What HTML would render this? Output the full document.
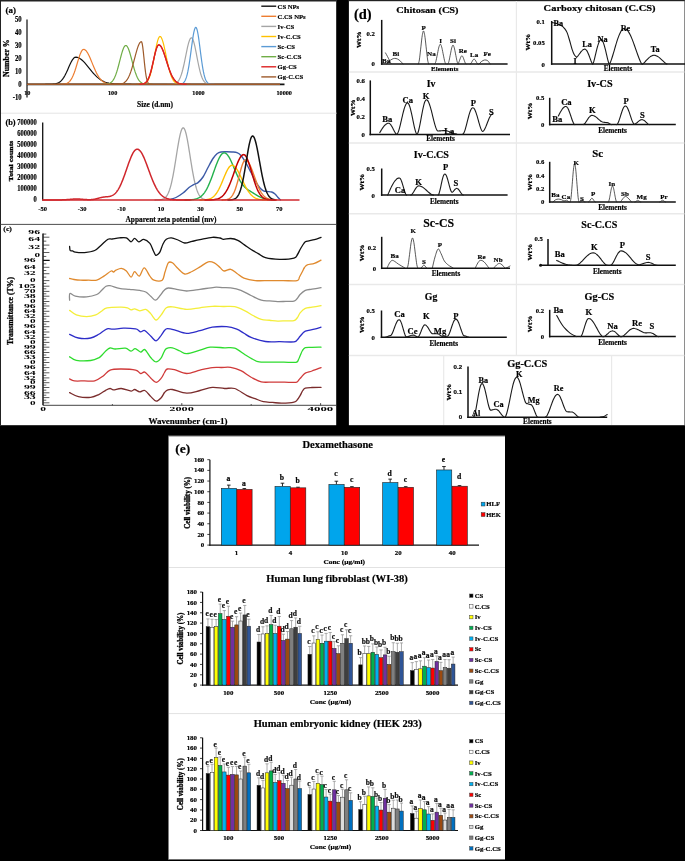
<!DOCTYPE html>
<html lang="en"><head><meta charset="utf-8"><title>Figure</title>
<style>html,body{margin:0;padding:0;background:#000;}body{width:685px;height:861px;overflow:hidden;}svg{display:block;}text{font-family:"Liberation Serif",serif;font-weight:bold;stroke:#000;stroke-width:0.18px;}</style>
</head><body>
<svg width="685" height="861" viewBox="0 0 685 861">
<rect x="0" y="0" width="685" height="861" fill="#000"/>
<rect x="0" y="0" width="336.2" height="425.2" fill="#fff"/>
<rect x="0" y="0" width="336.2" height="1.5" fill="#222"/>
<rect x="0" y="0" width="1" height="425.2" fill="#222"/>
<line x1="1" y1="113.2" x2="336.5" y2="113.2" stroke="#e4e4e4" stroke-width="1"/>
<line x1="0" y1="224.4" x2="336.5" y2="224.4" stroke="#3a3a3a" stroke-width="0.9"/>
<text x="10.8" y="13.17" font-size="9" text-anchor="middle" fill="#000">(a)</text>
<text x="21.6" y="21.88" font-size="7.2" text-anchor="end" fill="#000" textLength="6.7" lengthAdjust="spacingAndGlyphs">50</text>
<text x="21.6" y="34.85" font-size="7.2" text-anchor="end" fill="#000" textLength="6.7" lengthAdjust="spacingAndGlyphs">40</text>
<text x="21.6" y="47.82" font-size="7.2" text-anchor="end" fill="#000" textLength="6.7" lengthAdjust="spacingAndGlyphs">30</text>
<text x="21.6" y="60.79" font-size="7.2" text-anchor="end" fill="#000" textLength="6.7" lengthAdjust="spacingAndGlyphs">20</text>
<text x="21.6" y="73.76" font-size="7.2" text-anchor="end" fill="#000" textLength="6.7" lengthAdjust="spacingAndGlyphs">10</text>
<text x="21.6" y="86.73" font-size="7.2" text-anchor="end" fill="#000" textLength="3.35" lengthAdjust="spacingAndGlyphs">0</text>
<text x="21.6" y="99.7" font-size="7.2" text-anchor="end" fill="#000" textLength="8.93" lengthAdjust="spacingAndGlyphs">-10</text>
<text transform="translate(6.6 58.2) rotate(-90)" x="0" y="2.54" font-size="7.7" text-anchor="middle" fill="#000" textLength="37.6" lengthAdjust="spacingAndGlyphs" style="stroke-width:0.3px">Number %</text>
<line x1="27" y1="19.5" x2="27" y2="97.5" stroke="#3c3c3c" stroke-width="1.5"/>
<text x="27.3" y="95.14" font-size="6.5" text-anchor="middle" fill="#000" textLength="6.2" lengthAdjust="spacingAndGlyphs">10</text>
<text x="112.6" y="95.14" font-size="6.5" text-anchor="middle" fill="#000" textLength="9.3" lengthAdjust="spacingAndGlyphs">100</text>
<text x="198.5" y="95.14" font-size="6.5" text-anchor="middle" fill="#000" textLength="12.4" lengthAdjust="spacingAndGlyphs">1000</text>
<text x="284.2" y="95.14" font-size="6.5" text-anchor="middle" fill="#000" textLength="15.5" lengthAdjust="spacingAndGlyphs">10000</text>
<text x="155" y="106.51" font-size="8.2" text-anchor="middle" fill="#000" textLength="36" lengthAdjust="spacingAndGlyphs">Size (d.nm)</text>
<line x1="27" y1="84.35" x2="284.5" y2="84.35" stroke="#111" stroke-width="1.6"/>
<path d="M45.46 84.35 L46.68 84.34 L47.91 84.33 L49.13 84.32 L50.36 84.29 L51.58 84.25 L52.8 84.18 L54.03 84.06 L55.25 83.87 L56.48 83.58 L57.7 83.15 L58.92 82.55 L60.15 81.71 L61.37 80.59 L62.6 79.16 L63.82 77.38 L65.04 75.25 L66.27 72.82 L67.49 70.15 L68.72 67.36 L69.94 64.6 L71.16 62.05 L72.39 59.88 L73.61 58.27 L74.84 57.35 L76.06 57.16 L77.28 57.35 L78.51 57.76 L79.73 58.39 L80.96 59.22 L82.18 60.24 L83.4 61.41 L84.63 62.71 L85.85 64.11 L87.08 65.59 L88.3 67.1 L89.52 68.63 L90.75 70.15 L91.97 71.63 L93.2 73.05 L94.42 74.4 L95.64 75.66 L96.87 76.83 L98.09 77.9 L99.32 78.86 L100.54 79.72 L101.76 80.48 L102.99 81.14 L104.21 81.71 L105.44 82.2 L106.66 82.61 L107.88 82.96 L109.11 83.24 L110.33 83.48 L111.56 83.67 L112.78 83.82 L114 83.95 L115.23 84.04 L116.45 84.12 L117.68 84.18 L118.9 84.22 L120.12 84.26 L121.35 84.28 L122.57 84.3 L123.8 84.31 L125.02 84.32 L126.24 84.33 L127.47 84.34 L128.69 84.34 L129.92 84.34 L131.14 84.35" fill="none" stroke="#111111" stroke-width="1.2" stroke-linejoin="round" stroke-linecap="round"/>
<path d="M57.14 84.34 L58.03 84.34 L58.93 84.33 L59.82 84.32 L60.72 84.3 L61.61 84.27 L62.5 84.22 L63.4 84.15 L64.29 84.03 L65.19 83.86 L66.08 83.62 L66.97 83.27 L67.87 82.8 L68.76 82.16 L69.66 81.33 L70.55 80.25 L71.44 78.91 L72.34 77.27 L73.23 75.31 L74.13 73.05 L75.02 70.5 L75.91 67.72 L76.81 64.78 L77.7 61.77 L78.6 58.82 L79.49 56.06 L80.38 53.63 L81.28 51.65 L82.17 50.24 L83.07 49.48 L83.96 49.38 L84.85 49.72 L85.75 50.42 L86.64 51.47 L87.54 52.83 L88.43 54.46 L89.32 56.3 L90.22 58.32 L91.11 60.45 L92.01 62.64 L92.9 64.85 L93.79 67.01 L94.69 69.11 L95.58 71.09 L96.48 72.94 L97.37 74.64 L98.26 76.17 L99.16 77.54 L100.05 78.73 L100.95 79.77 L101.84 80.66 L102.73 81.4 L103.63 82.03 L104.52 82.53 L105.42 82.95 L106.31 83.28 L107.2 83.54 L108.1 83.74 L108.99 83.9 L109.89 84.02 L110.78 84.11 L111.67 84.18 L112.57 84.23 L113.46 84.27 L114.36 84.29 L115.25 84.31 L116.14 84.32 L117.04 84.33 L117.93 84.34 L118.83 84.34 L119.72 84.34" fill="none" stroke="#ED7D31" stroke-width="1.2" stroke-linejoin="round" stroke-linecap="round"/>
<path d="M167.46 84.34 L168.13 84.34 L168.79 84.33 L169.46 84.32 L170.12 84.31 L170.79 84.28 L171.46 84.25 L172.12 84.2 L172.79 84.12 L173.45 84.02 L174.12 83.88 L174.79 83.68 L175.45 83.42 L176.12 83.07 L176.78 82.61 L177.45 82.02 L178.12 81.27 L178.78 80.33 L179.45 79.18 L180.11 77.79 L180.78 76.14 L181.45 74.21 L182.11 72 L182.78 69.51 L183.44 66.76 L184.11 63.78 L184.78 60.63 L185.44 57.36 L186.11 54.07 L186.77 50.83 L187.44 47.74 L188.11 44.92 L188.77 42.45 L189.44 40.43 L190.1 38.94 L190.77 38.03 L191.44 37.75 L192.1 38.14 L192.77 39.22 L193.43 40.94 L194.1 43.23 L194.77 45.98 L195.43 49.09 L196.1 52.43 L196.76 55.9 L197.43 59.37 L198.1 62.75 L198.76 65.95 L199.43 68.92 L200.09 71.6 L200.76 73.98 L201.43 76.04 L202.09 77.79 L202.76 79.25 L203.42 80.44 L204.09 81.4 L204.76 82.16 L205.42 82.75 L206.09 83.2 L206.75 83.53 L207.42 83.78 L208.09 83.96 L208.75 84.08 L209.42 84.17 L210.08 84.23 L210.75 84.27 L211.42 84.3 L212.08 84.32 L212.75 84.33 L213.41 84.34 L214.08 84.34" fill="none" stroke="#A5A5A5" stroke-width="1.2" stroke-linejoin="round" stroke-linecap="round"/>
<path d="M137.32 84.34 L138 84.34 L138.69 84.33 L139.37 84.32 L140.06 84.3 L140.74 84.27 L141.42 84.22 L142.11 84.15 L142.79 84.05 L143.48 83.91 L144.16 83.7 L144.84 83.42 L145.53 83.03 L146.21 82.51 L146.9 81.83 L147.58 80.95 L148.26 79.83 L148.95 78.45 L149.63 76.77 L150.32 74.76 L151 72.41 L151.68 69.72 L152.37 66.71 L153.05 63.42 L153.74 59.91 L154.42 56.27 L155.1 52.59 L155.79 49.01 L156.47 45.66 L157.16 42.65 L157.84 40.13 L158.52 38.21 L159.21 36.96 L159.89 36.46 L160.58 36.67 L161.26 37.49 L161.94 38.9 L162.63 40.83 L163.31 43.22 L164 45.98 L164.68 49.01 L165.36 52.23 L166.05 55.53 L166.73 58.82 L167.42 62.03 L168.1 65.09 L168.78 67.95 L169.47 70.56 L170.15 72.9 L170.84 74.97 L171.52 76.77 L172.2 78.3 L172.89 79.58 L173.57 80.64 L174.26 81.5 L174.94 82.19 L175.62 82.74 L176.31 83.16 L176.99 83.48 L177.68 83.73 L178.36 83.91 L179.04 84.04 L179.73 84.13 L180.41 84.2 L181.1 84.25 L181.78 84.28 L182.46 84.31 L183.15 84.32 L183.83 84.33 L184.52 84.34 L185.2 84.34" fill="none" stroke="#FFC000" stroke-width="1.2" stroke-linejoin="round" stroke-linecap="round"/>
<path d="M176.48 84.34 L177.02 84.34 L177.56 84.33 L178.1 84.32 L178.64 84.3 L179.18 84.27 L179.72 84.22 L180.26 84.16 L180.8 84.07 L181.34 83.94 L181.88 83.76 L182.42 83.52 L182.96 83.19 L183.5 82.75 L184.04 82.18 L184.58 81.44 L185.12 80.5 L185.66 79.33 L186.2 77.89 L186.74 76.16 L187.28 74.09 L187.82 71.69 L188.36 68.94 L188.9 65.84 L189.44 62.43 L189.98 58.75 L190.52 54.85 L191.06 50.83 L191.6 46.78 L192.14 42.82 L192.68 39.06 L193.22 35.65 L193.76 32.69 L194.3 30.3 L194.84 28.58 L195.38 27.59 L195.92 27.37 L196.46 27.99 L197 29.43 L197.54 31.64 L198.08 34.51 L198.62 37.93 L199.16 41.77 L199.7 45.87 L200.24 50.09 L200.78 54.31 L201.32 58.4 L201.86 62.27 L202.4 65.84 L202.94 69.07 L203.48 71.92 L204.02 74.4 L204.56 76.49 L205.1 78.24 L205.64 79.67 L206.18 80.82 L206.72 81.73 L207.26 82.43 L207.8 82.97 L208.34 83.37 L208.88 83.66 L209.42 83.88 L209.96 84.03 L210.5 84.14 L211.04 84.21 L211.58 84.26 L212.12 84.29 L212.66 84.31 L213.2 84.33 L213.74 84.34 L214.28 84.34" fill="none" stroke="#5B9BD5" stroke-width="1.2" stroke-linejoin="round" stroke-linecap="round"/>
<path d="M100.6 84.34 L101.33 84.34 L102.06 84.33 L102.8 84.32 L103.53 84.31 L104.26 84.29 L104.99 84.25 L105.72 84.21 L106.46 84.13 L107.19 84.03 L107.92 83.89 L108.65 83.69 L109.38 83.43 L110.12 83.07 L110.85 82.61 L111.58 82 L112.31 81.24 L113.04 80.29 L113.78 79.13 L114.51 77.73 L115.24 76.08 L115.97 74.18 L116.7 72.02 L117.44 69.63 L118.17 67.03 L118.9 64.27 L119.63 61.42 L120.36 58.54 L121.1 55.74 L121.83 53.1 L122.56 50.73 L123.29 48.7 L124.02 47.12 L124.76 46.03 L125.49 45.5 L126.22 45.54 L126.95 46.12 L127.68 47.21 L128.42 48.76 L129.15 50.73 L129.88 53.02 L130.61 55.57 L131.34 58.27 L132.08 61.05 L132.81 63.81 L133.54 66.5 L134.27 69.06 L135 71.43 L135.74 73.58 L136.47 75.5 L137.2 77.18 L137.93 78.62 L138.66 79.83 L139.4 80.84 L140.13 81.66 L140.86 82.31 L141.59 82.83 L142.32 83.23 L143.06 83.54 L143.79 83.77 L144.52 83.94 L145.25 84.07 L145.98 84.16 L146.72 84.22 L147.45 84.26 L148.18 84.29 L148.91 84.31 L149.64 84.33 L150.38 84.33 L151.11 84.34 L151.84 84.34" fill="none" stroke="#70AD47" stroke-width="1.2" stroke-linejoin="round" stroke-linecap="round"/>
<path d="M112.84 84.34 L113.4 84.34 L113.97 84.34 L114.53 84.33 L115.1 84.33 L115.66 84.32 L116.22 84.3 L116.79 84.29 L117.35 84.27 L117.92 84.24 L118.48 84.2 L119.04 84.16 L119.61 84.1 L120.17 84.02 L120.74 83.93 L121.3 83.81 L121.86 83.66 L122.43 83.48 L122.99 83.26 L123.56 82.98 L124.12 82.66 L124.68 82.27 L125.25 81.81 L125.81 81.26 L126.38 80.63 L126.94 79.9 L127.5 79.06 L128.07 78.1 L128.63 77.02 L129.2 75.82 L129.76 74.48 L130.32 73.02 L130.89 71.42 L131.45 69.7 L132.02 67.87 L132.58 65.94 L133.14 63.92 L133.71 61.83 L134.27 59.7 L134.84 57.55 L135.4 55.42 L135.96 53.33 L136.53 51.32 L137.09 49.41 L137.66 47.66 L138.22 46.07 L138.78 44.7 L139.35 43.55 L139.91 42.66 L140.48 42.04 L141.04 41.71 L141.6 41.78 L142.17 43.47 L142.73 46.9 L143.3 51.62 L143.86 57.06 L144.42 62.64 L144.99 67.87 L145.55 72.42 L146.12 76.11 L146.68 78.92 L147.24 80.94 L147.81 82.3 L148.37 83.18 L148.94 83.71 L149.5 84.02 L150.06 84.18 L150.63 84.27 L151.19 84.31 L151.76 84.33 L152.32 84.34" fill="none" stroke="#9E5A2A" stroke-width="1.2" stroke-linejoin="round" stroke-linecap="round"/>
<path d="M136.54 84.34 L137.31 84.34 L138.08 84.33 L138.84 84.32 L139.61 84.29 L140.38 84.26 L141.15 84.2 L141.92 84.1 L142.68 83.96 L143.45 83.75 L144.22 83.45 L144.99 83.03 L145.76 82.44 L146.52 81.65 L147.29 80.61 L148.06 79.28 L148.83 77.62 L149.6 75.61 L150.36 73.22 L151.13 70.48 L151.9 67.42 L152.67 64.12 L153.44 60.68 L154.2 57.23 L154.97 53.92 L155.74 50.91 L156.51 48.38 L157.28 46.45 L158.04 45.25 L158.81 44.85 L159.58 45.06 L160.35 45.68 L161.12 46.69 L161.88 48.05 L162.65 49.73 L163.42 51.68 L164.19 53.83 L164.96 56.15 L165.72 58.56 L166.49 61.01 L167.26 63.44 L168.03 65.82 L168.8 68.1 L169.56 70.25 L170.33 72.24 L171.1 74.06 L171.87 75.69 L172.64 77.15 L173.4 78.42 L174.17 79.52 L174.94 80.45 L175.71 81.24 L176.48 81.89 L177.24 82.43 L178.01 82.87 L178.78 83.21 L179.55 83.49 L180.32 83.71 L181.08 83.87 L181.85 84 L182.62 84.1 L183.39 84.17 L184.16 84.22 L184.92 84.26 L185.69 84.29 L186.46 84.31 L187.23 84.32 L188 84.33 L188.76 84.34 L189.53 84.34 L190.3 84.34" fill="none" stroke="#DD2222" stroke-width="1.2" stroke-linejoin="round" stroke-linecap="round"/>
<line x1="27" y1="84.35" x2="280" y2="84.35" stroke="#A05A2A" stroke-width="1.5"/>
<path d="M140 84.28 L140.57 84.24 L141.15 84.2 L141.72 84.13 L142.3 84.04 L142.88 83.92 L143.45 83.75 L144.03 83.54 L144.6 83.26 L145.18 82.9 L145.75 82.44 L146.32 81.88 L146.9 81.17 L147.47 80.32 L148.05 79.3 L148.62 78.09 L149.2 76.69 L149.78 75.08 L150.35 73.27 L150.93 71.25 L151.5 69.05 L152.07 66.69 L152.65 64.2 L153.22 61.63 L153.8 59.04 L154.38 56.47 L154.95 54.01 L155.53 51.72 L156.1 49.66 L156.68 47.9 L157.25 46.5 L157.82 45.51 L158.4 44.96 L158.97 44.86 L159.55 45.05 L160.12 45.46 L160.7 46.1 L161.28 46.94 L161.85 47.98 L162.43 49.2 L163 50.58 L163.57 52.1 L164.15 53.72 L164.72 55.44 L165.3 57.22 L165.88 59.04 L166.45 60.87 L167.03 62.7 L167.6 64.51 L168.18 66.27 L168.75 67.97 L169.32 69.59 L169.9 71.14 L170.47 72.59 L171.05 73.94 L171.62 75.2 L172.2 76.34 L172.78 77.39 L173.35 78.33 L173.93 79.18 L174.5 79.93 L175.07 80.6 L175.65 81.18 L176.22 81.69 L176.8 82.13 L177.38 82.51 L177.95 82.83 L178.53 83.11 L179.1 83.34 L179.68 83.53 L180.25 83.69 L180.82 83.82 L181.4 83.93 L181.97 84.02 L182.55 84.09 L183.12 84.14 L183.7 84.19 L184.28 84.23 L184.85 84.26 L185.43 84.28 L186 84.29" fill="none" stroke="#DD2222" stroke-width="1.35" stroke-linejoin="round" stroke-linecap="round"/>
<line x1="261.3" y1="6.2" x2="276.2" y2="6.2" stroke="#111111" stroke-width="1.4"/>
<text x="277.6" y="8.51" font-size="7" text-anchor="start" fill="#000" textLength="21.62" lengthAdjust="spacingAndGlyphs">CS NPs</text>
<line x1="261.3" y1="16.3" x2="276.2" y2="16.3" stroke="#ED7D31" stroke-width="1.4"/>
<text x="277.6" y="18.61" font-size="7" text-anchor="start" fill="#000" textLength="28.08" lengthAdjust="spacingAndGlyphs">C.CS NPs</text>
<line x1="261.3" y1="26.4" x2="276.2" y2="26.4" stroke="#A5A5A5" stroke-width="1.4"/>
<text x="277.6" y="28.71" font-size="7" text-anchor="start" fill="#000" textLength="16.63" lengthAdjust="spacingAndGlyphs">Iv-CS</text>
<line x1="261.3" y1="36.5" x2="276.2" y2="36.5" stroke="#FFC000" stroke-width="1.4"/>
<text x="277.6" y="38.81" font-size="7" text-anchor="start" fill="#000" textLength="23.09" lengthAdjust="spacingAndGlyphs">Iv-C.CS</text>
<line x1="261.3" y1="46.6" x2="276.2" y2="46.6" stroke="#5B9BD5" stroke-width="1.4"/>
<text x="277.6" y="48.91" font-size="7" text-anchor="start" fill="#000" textLength="17.36" lengthAdjust="spacingAndGlyphs">Sc-CS</text>
<line x1="261.3" y1="56.7" x2="276.2" y2="56.7" stroke="#70AD47" stroke-width="1.4"/>
<text x="277.6" y="59.01" font-size="7" text-anchor="start" fill="#000" textLength="23.83" lengthAdjust="spacingAndGlyphs">Sc-C.CS</text>
<line x1="261.3" y1="66.8" x2="276.2" y2="66.8" stroke="#DD2222" stroke-width="1.4"/>
<text x="277.6" y="69.11" font-size="7" text-anchor="start" fill="#000" textLength="19.21" lengthAdjust="spacingAndGlyphs">Gg-CS</text>
<line x1="261.3" y1="76.9" x2="276.2" y2="76.9" stroke="#9E5A2A" stroke-width="1.4"/>
<text x="277.6" y="79.21" font-size="7" text-anchor="start" fill="#000" textLength="25.68" lengthAdjust="spacingAndGlyphs">Gg-C.CS</text>
<text x="10.5" y="124.77" font-size="8.4" text-anchor="middle" fill="#000">(b)</text>
<text x="36.8" y="202.38" font-size="7.2" text-anchor="end" fill="#000" textLength="3.25" lengthAdjust="spacingAndGlyphs">0</text>
<text x="36.8" y="191.29" font-size="7.2" text-anchor="end" fill="#000" textLength="19.5" lengthAdjust="spacingAndGlyphs">100000</text>
<text x="36.8" y="180.2" font-size="7.2" text-anchor="end" fill="#000" textLength="19.5" lengthAdjust="spacingAndGlyphs">200000</text>
<text x="36.8" y="169.11" font-size="7.2" text-anchor="end" fill="#000" textLength="19.5" lengthAdjust="spacingAndGlyphs">300000</text>
<text x="36.8" y="158.02" font-size="7.2" text-anchor="end" fill="#000" textLength="19.5" lengthAdjust="spacingAndGlyphs">400000</text>
<text x="36.8" y="146.93" font-size="7.2" text-anchor="end" fill="#000" textLength="19.5" lengthAdjust="spacingAndGlyphs">500000</text>
<text x="36.8" y="135.84" font-size="7.2" text-anchor="end" fill="#000" textLength="19.5" lengthAdjust="spacingAndGlyphs">600000</text>
<text x="36.8" y="124.75" font-size="7.2" text-anchor="end" fill="#000" textLength="19.5" lengthAdjust="spacingAndGlyphs">700000</text>
<text transform="translate(10.9 161) rotate(-90)" x="0" y="2.28" font-size="6.9" text-anchor="middle" fill="#000" textLength="40.6" lengthAdjust="spacingAndGlyphs" style="stroke-width:0.3px">Total counts</text>
<line x1="42.7" y1="122.4" x2="42.7" y2="200.5" stroke="#111" stroke-width="1.3"/>
<text x="42.7" y="210.94" font-size="7.1" text-anchor="middle" fill="#000" textLength="8.66" lengthAdjust="spacingAndGlyphs">-50</text>
<text x="82.12" y="210.94" font-size="7.1" text-anchor="middle" fill="#000" textLength="8.66" lengthAdjust="spacingAndGlyphs">-30</text>
<text x="121.54" y="210.94" font-size="7.1" text-anchor="middle" fill="#000" textLength="8.66" lengthAdjust="spacingAndGlyphs">-10</text>
<text x="160.96" y="210.94" font-size="7.1" text-anchor="middle" fill="#000" textLength="6.5" lengthAdjust="spacingAndGlyphs">10</text>
<text x="200.38" y="210.94" font-size="7.1" text-anchor="middle" fill="#000" textLength="6.5" lengthAdjust="spacingAndGlyphs">30</text>
<text x="239.8" y="210.94" font-size="7.1" text-anchor="middle" fill="#000" textLength="6.5" lengthAdjust="spacingAndGlyphs">50</text>
<text x="279.22" y="210.94" font-size="7.1" text-anchor="middle" fill="#000" textLength="6.5" lengthAdjust="spacingAndGlyphs">70</text>
<text x="171" y="222.41" font-size="8.2" text-anchor="middle" fill="#000" textLength="91" lengthAdjust="spacingAndGlyphs">Apparent zeta potential (mv)</text>
<path d="M155 199.98 L155.47 199.98 L155.95 199.97 L156.43 199.96 L156.9 199.95 L157.38 199.93 L157.85 199.92 L158.32 199.89 L158.8 199.86 L159.28 199.82 L159.75 199.78 L160.22 199.72 L160.7 199.65 L161.18 199.56 L161.65 199.45 L162.12 199.32 L162.6 199.16 L163.07 198.97 L163.55 198.75 L164.03 198.48 L164.5 198.17 L164.97 197.79 L165.45 197.36 L165.93 196.86 L166.4 196.27 L166.88 195.6 L167.35 194.84 L167.82 193.97 L168.3 192.99 L168.78 191.88 L169.25 190.65 L169.72 189.28 L170.2 187.76 L170.68 186.1 L171.15 184.29 L171.62 182.32 L172.1 180.2 L172.57 177.94 L173.05 175.53 L173.53 172.98 L174 170.32 L174.47 167.54 L174.95 164.67 L175.43 161.73 L175.9 158.74 L176.38 155.73 L176.85 152.73 L177.32 149.75 L177.8 146.85 L178.28 144.04 L178.75 141.36 L179.22 138.84 L179.7 136.52 L180.18 134.42 L180.65 132.57 L181.12 130.99 L181.6 129.72 L182.07 128.75 L182.55 128.12 L183.03 127.82 L183.5 127.87 L183.97 128.25 L184.45 128.98 L184.93 130.02 L185.4 131.38 L185.88 133.03 L186.35 134.94 L186.82 137.11 L187.3 139.48 L187.78 142.05 L188.25 144.76 L188.72 147.6 L189.2 150.53 L189.68 153.51 L190.15 156.53 L190.62 159.53 L191.1 162.51 L191.57 165.44 L192.05 168.28 L192.53 171.03 L193 173.67 L193.47 176.18 L193.95 178.55 L194.43 180.78 L194.9 182.85 L195.38 184.78 L195.85 186.55 L196.32 188.17 L196.8 189.65 L197.28 190.98 L197.75 192.18 L198.22 193.26 L198.7 194.21 L199.18 195.05 L199.65 195.79 L200.12 196.44 L200.6 197 L201.07 197.48 L201.55 197.9 L202.03 198.25 L202.5 198.56 L202.97 198.81 L203.45 199.03 L203.93 199.21 L204.4 199.36 L204.88 199.48 L205.35 199.58 L205.82 199.67 L206.3 199.73 L206.78 199.79 L207.25 199.83 L207.72 199.87 L208.2 199.9 L208.68 199.92 L209.15 199.94 L209.62 199.95 L210.1 199.96 L210.57 199.97 L211.05 199.98 L211.53 199.98 L212 199.99" fill="none" stroke="#A5A5A5" stroke-width="1.3" stroke-linejoin="round" stroke-linecap="round"/>
<path d="M170 199.6C171 199.25 173.83 198.6 176 197.5C178.17 196.4 180.83 194.67 183 193C185.17 191.33 187.23 188.9 189 187.5C190.77 186.1 192.1 185.42 193.6 184.6C195.1 183.78 196.43 183.87 198 182.6C199.57 181.33 201.33 179.52 203 177C204.67 174.48 206.33 170.58 208 167.5C209.67 164.42 211.5 160.78 213 158.5C214.5 156.22 215.68 154.88 217 153.8C218.32 152.72 219.23 152.33 220.9 152C222.57 151.67 225.15 151.8 227 151.8C228.85 151.8 230.33 151.87 232 152C233.67 152.13 235.5 152.02 237 152.6C238.5 153.18 239.5 153.77 241 155.5C242.5 157.23 244.33 160.17 246 163C247.67 165.83 249.33 169.33 251 172.5C252.67 175.67 254.5 179.42 256 182C257.5 184.58 258.75 186.53 260 188C261.25 189.47 262.33 190.22 263.5 190.8C264.67 191.38 265.63 191.3 267 191.5C268.37 191.7 270.37 191.58 271.7 192C273.03 192.42 273.95 193.08 275 194C276.05 194.92 277.1 196.53 278 197.5C278.9 198.47 280 199.42 280.4 199.8" fill="none" stroke="#3C5AA6" stroke-width="1.4" stroke-linejoin="round" stroke-linecap="round"/>
<path d="M185 199.97 L185.56 199.96 L186.12 199.95 L186.69 199.94 L187.25 199.93 L187.81 199.92 L188.38 199.9 L188.94 199.88 L189.5 199.85 L190.06 199.82 L190.62 199.78 L191.19 199.74 L191.75 199.69 L192.31 199.63 L192.88 199.57 L193.44 199.49 L194 199.39 L194.56 199.29 L195.12 199.17 L195.69 199.03 L196.25 198.87 L196.81 198.69 L197.38 198.48 L197.94 198.24 L198.5 197.98 L199.06 197.68 L199.62 197.35 L200.19 196.98 L200.75 196.57 L201.31 196.12 L201.88 195.61 L202.44 195.06 L203 194.46 L203.56 193.8 L204.12 193.08 L204.69 192.3 L205.25 191.46 L205.81 190.56 L206.38 189.59 L206.94 188.56 L207.5 187.47 L208.06 186.32 L208.62 185.1 L209.19 183.82 L209.75 182.49 L210.31 181.11 L210.88 179.68 L211.44 178.2 L212 176.7 L212.56 175.16 L213.12 173.6 L213.69 172.03 L214.25 170.45 L214.81 168.88 L215.38 167.33 L215.94 165.8 L216.5 164.32 L217.06 162.88 L217.62 161.49 L218.19 160.18 L218.75 158.95 L219.31 157.81 L219.88 156.77 L220.44 155.83 L221 155.02 L221.56 154.32 L222.12 153.76 L222.69 153.33 L223.25 153.04 L223.81 152.89 L224.38 152.88 L224.94 152.99 L225.5 153.22 L226.06 153.58 L226.62 154.04 L227.19 154.62 L227.75 155.3 L228.31 156.08 L228.88 156.95 L229.44 157.91 L230 158.95 L230.56 160.05 L231.12 161.22 L231.69 162.43 L232.25 163.69 L232.81 164.98 L233.38 166.3 L233.94 167.63 L234.5 168.96 L235.06 170.29 L235.62 171.6 L236.19 172.9 L236.75 174.16 L237.31 175.4 L237.88 176.59 L238.44 177.75 L239 178.85 L239.56 179.9 L240.12 180.9 L240.69 181.84 L241.25 182.73 L241.81 183.56 L242.38 184.34 L242.94 185.07 L243.5 185.74 L244.06 186.37 L244.62 186.95 L245.19 187.49 L245.75 188 L246.31 188.47 L246.88 188.92 L247.44 189.34 L248 189.74 L248.56 190.12 L249.12 190.49 L249.69 190.86 L250.25 191.21 L250.81 191.56 L251.38 191.91 L251.94 192.26 L252.5 192.6 L253.06 192.95 L253.62 193.3 L254.19 193.65 L254.75 194 L255.31 194.35 L255.88 194.69 L256.44 195.03 L257 195.37 L257.56 195.7 L258.12 196.02 L258.69 196.34 L259.25 196.64 L259.81 196.93 L260.38 197.21 L260.94 197.47 L261.5 197.72 L262.06 197.95 L262.62 198.17 L263.19 198.37 L263.75 198.56 L264.31 198.73 L264.88 198.89 L265.44 199.03 L266 199.15 L266.56 199.27 L267.12 199.37 L267.69 199.46 L268.25 199.54 L268.81 199.61 L269.38 199.67 L269.94 199.72 L270.5 199.77 L271.06 199.81 L271.62 199.84 L272.19 199.87 L272.75 199.89 L273.31 199.91 L273.88 199.93 L274.44 199.94 L275 199.95" fill="none" stroke="#22B14C" stroke-width="1.4" stroke-linejoin="round" stroke-linecap="round"/>
<path d="M200 199.97 L200.57 199.96 L201.13 199.94 L201.7 199.93 L202.27 199.91 L202.83 199.89 L203.4 199.86 L203.97 199.83 L204.53 199.79 L205.1 199.74 L205.67 199.68 L206.23 199.61 L206.8 199.53 L207.37 199.43 L207.93 199.31 L208.5 199.17 L209.07 199.01 L209.63 198.82 L210.2 198.6 L210.77 198.35 L211.33 198.07 L211.9 197.74 L212.47 197.37 L213.03 196.95 L213.6 196.48 L214.17 195.96 L214.73 195.38 L215.3 194.73 L215.87 194.03 L216.43 193.26 L217 192.42 L217.57 191.51 L218.13 190.54 L218.7 189.51 L219.27 188.4 L219.83 187.24 L220.4 186.03 L220.97 184.76 L221.53 183.45 L222.1 182.11 L222.67 180.74 L223.23 179.36 L223.8 177.98 L224.37 176.6 L224.93 175.24 L225.5 173.92 L226.07 172.65 L226.63 171.44 L227.2 170.3 L227.77 169.26 L228.33 168.31 L228.9 167.48 L229.47 166.77 L230.03 166.2 L230.6 165.76 L231.17 165.46 L231.73 165.32 L232.3 165.32 L232.87 165.44 L233.43 165.67 L234 166.02 L234.57 166.47 L235.13 167.03 L235.7 167.69 L236.27 168.44 L236.83 169.27 L237.4 170.19 L237.97 171.17 L238.53 172.21 L239.1 173.31 L239.67 174.45 L240.23 175.62 L240.8 176.81 L241.37 178.02 L241.93 179.24 L242.5 180.45 L243.07 181.66 L243.63 182.85 L244.2 184.01 L244.77 185.15 L245.33 186.25 L245.9 187.31 L246.47 188.33 L247.03 189.3 L247.6 190.23 L248.17 191.1 L248.73 191.92 L249.3 192.69 L249.87 193.41 L250.43 194.08 L251 194.7 L251.57 195.27 L252.13 195.79 L252.7 196.27 L253.27 196.71 L253.83 197.1 L254.4 197.45 L254.97 197.77 L255.53 198.06 L256.1 198.31 L256.67 198.54 L257.23 198.74 L257.8 198.92 L258.37 199.07 L258.93 199.21 L259.5 199.32 L260.07 199.43 L260.63 199.51 L261.2 199.59 L261.77 199.66 L262.33 199.71 L262.9 199.76 L263.47 199.8 L264.03 199.83 L264.6 199.86 L265.17 199.89 L265.73 199.91 L266.3 199.92 L266.87 199.94 L267.43 199.95 L268 199.96" fill="none" stroke="#FFC000" stroke-width="1.4" stroke-linejoin="round" stroke-linecap="round"/>
<path d="M222 199.96 L222.45 199.95 L222.9 199.94 L223.35 199.92 L223.8 199.89 L224.25 199.86 L224.7 199.83 L225.15 199.78 L225.6 199.73 L226.05 199.66 L226.5 199.58 L226.95 199.48 L227.4 199.35 L227.85 199.21 L228.3 199.04 L228.75 198.83 L229.2 198.59 L229.65 198.31 L230.1 197.98 L230.55 197.61 L231 197.17 L231.45 196.67 L231.9 196.11 L232.35 195.47 L232.8 194.76 L233.25 193.96 L233.7 193.08 L234.15 192.11 L234.6 191.05 L235.05 189.89 L235.5 188.65 L235.95 187.32 L236.4 185.91 L236.85 184.42 L237.3 182.85 L237.75 181.23 L238.2 179.56 L238.65 177.85 L239.1 176.12 L239.55 174.39 L240 172.68 L240.45 170.99 L240.9 169.36 L241.35 167.8 L241.8 166.34 L242.25 164.98 L242.7 163.76 L243.15 162.69 L243.6 161.78 L244.05 161.05 L244.5 160.5 L244.95 160.15 L245.4 160.01 L245.85 160.03 L246.3 160.17 L246.75 160.42 L247.2 160.77 L247.65 161.23 L248.1 161.79 L248.55 162.44 L249 163.18 L249.45 164 L249.9 164.91 L250.35 165.88 L250.8 166.92 L251.25 168.01 L251.7 169.15 L252.15 170.34 L252.6 171.55 L253.05 172.79 L253.5 174.05 L253.95 175.32 L254.4 176.58 L254.85 177.85 L255.3 179.1 L255.75 180.34 L256.2 181.55 L256.65 182.74 L257.1 183.89 L257.55 185.01 L258 186.09 L258.45 187.13 L258.9 188.12 L259.35 189.06 L259.8 189.96 L260.25 190.81 L260.7 191.61 L261.15 192.36 L261.6 193.07 L262.05 193.72 L262.5 194.33 L262.95 194.89 L263.4 195.42 L263.85 195.89 L264.3 196.33 L264.75 196.73 L265.2 197.1 L265.65 197.43 L266.1 197.73 L266.55 198 L267 198.24 L267.45 198.46 L267.9 198.65 L268.35 198.83 L268.8 198.98 L269.25 199.12 L269.7 199.24 L270.15 199.34 L270.6 199.43 L271.05 199.52 L271.5 199.59 L271.95 199.65 L272.4 199.7 L272.85 199.75 L273.3 199.78 L273.75 199.82 L274.2 199.85 L274.65 199.87 L275.1 199.89 L275.55 199.91 L276 199.93" fill="none" stroke="#ED7D31" stroke-width="1.4" stroke-linejoin="round" stroke-linecap="round"/>
<path d="M205 199.99 L205.59 199.98 L206.18 199.98 L206.78 199.97 L207.37 199.96 L207.96 199.96 L208.55 199.94 L209.14 199.93 L209.73 199.91 L210.32 199.89 L210.92 199.87 L211.51 199.84 L212.1 199.8 L212.69 199.75 L213.28 199.7 L213.88 199.64 L214.47 199.56 L215.06 199.47 L215.65 199.36 L216.24 199.24 L216.83 199.1 L217.43 198.93 L218.02 198.73 L218.61 198.51 L219.2 198.25 L219.79 197.96 L220.38 197.62 L220.97 197.24 L221.57 196.82 L222.16 196.34 L222.75 195.8 L223.34 195.21 L223.93 194.55 L224.53 193.82 L225.12 193.03 L225.71 192.16 L226.3 191.22 L226.89 190.2 L227.48 189.1 L228.07 187.93 L228.67 186.68 L229.26 185.36 L229.85 183.96 L230.44 182.51 L231.03 180.99 L231.62 179.42 L232.22 177.8 L232.81 176.15 L233.4 174.47 L233.99 172.77 L234.58 171.08 L235.18 169.39 L235.77 167.73 L236.36 166.11 L236.95 164.54 L237.54 163.04 L238.13 161.63 L238.72 160.3 L239.32 159.09 L239.91 158.01 L240.5 157.05 L241.09 156.25 L241.68 155.59 L242.28 155.1 L242.87 154.77 L243.46 154.61 L244.05 154.64 L244.64 154.91 L245.23 155.43 L245.82 156.17 L246.42 157.14 L247.01 158.32 L247.6 159.69 L248.19 161.22 L248.78 162.9 L249.38 164.7 L249.97 166.59 L250.56 168.56 L251.15 170.57 L251.74 172.61 L252.33 174.64 L252.93 176.65 L253.52 178.62 L254.11 180.52 L254.7 182.36 L255.29 184.11 L255.88 185.76 L256.48 187.31 L257.07 188.76 L257.66 190.09 L258.25 191.32 L258.84 192.43 L259.43 193.44 L260.02 194.34 L260.62 195.15 L261.21 195.86 L261.8 196.49 L262.39 197.04 L262.98 197.51 L263.57 197.93 L264.17 198.28 L264.76 198.58 L265.35 198.83 L265.94 199.05 L266.53 199.23 L267.12 199.38 L267.72 199.5 L268.31 199.6 L268.9 199.68 L269.49 199.75 L270.08 199.8 L270.68 199.85 L271.27 199.88 L271.86 199.91 L272.45 199.93 L273.04 199.95 L273.63 199.96 L274.23 199.97 L274.82 199.98 L275.41 199.98 L276 199.99" fill="none" stroke="#C00000" stroke-width="1.5" stroke-linejoin="round" stroke-linecap="round"/>
<path d="M228 199.97 L228.38 199.96 L228.77 199.95 L229.15 199.94 L229.53 199.92 L229.92 199.9 L230.3 199.88 L230.68 199.85 L231.07 199.81 L231.45 199.77 L231.83 199.72 L232.22 199.66 L232.6 199.59 L232.98 199.5 L233.37 199.39 L233.75 199.27 L234.13 199.13 L234.52 198.96 L234.9 198.76 L235.28 198.54 L235.67 198.27 L236.05 197.97 L236.43 197.62 L236.82 197.23 L237.2 196.77 L237.58 196.26 L237.97 195.69 L238.35 195.04 L238.73 194.32 L239.12 193.52 L239.5 192.63 L239.88 191.65 L240.27 190.58 L240.65 189.41 L241.03 188.14 L241.42 186.76 L241.8 185.28 L242.18 183.69 L242.57 181.99 L242.95 180.2 L243.33 178.3 L243.72 176.32 L244.1 174.24 L244.48 172.09 L244.87 169.87 L245.25 167.59 L245.63 165.27 L246.02 162.93 L246.4 160.57 L246.78 158.21 L247.17 155.88 L247.55 153.59 L247.93 151.36 L248.32 149.21 L248.7 147.16 L249.08 145.23 L249.47 143.45 L249.85 141.82 L250.23 140.36 L250.62 139.09 L251 138.03 L251.38 137.18 L251.77 136.56 L252.15 136.16 L252.53 136 L252.92 136.07 L253.3 136.33 L253.68 136.78 L254.07 137.43 L254.45 138.26 L254.83 139.27 L255.22 140.44 L255.6 141.77 L255.98 143.25 L256.37 144.86 L256.75 146.59 L257.13 148.42 L257.52 150.35 L257.9 152.35 L258.28 154.41 L258.67 156.52 L259.05 158.65 L259.43 160.81 L259.82 162.96 L260.2 165.11 L260.58 167.23 L260.97 169.32 L261.35 171.36 L261.73 173.35 L262.12 175.28 L262.5 177.14 L262.88 178.92 L263.27 180.62 L263.65 182.25 L264.03 183.78 L264.42 185.23 L264.8 186.59 L265.18 187.87 L265.57 189.05 L265.95 190.15 L266.33 191.17 L266.72 192.11 L267.1 192.97 L267.48 193.75 L267.87 194.46 L268.25 195.11 L268.63 195.7 L269.02 196.22 L269.4 196.7 L269.78 197.12 L270.17 197.5 L270.55 197.83 L270.93 198.12 L271.32 198.38 L271.7 198.61 L272.08 198.81 L272.47 198.99 L272.85 199.14 L273.23 199.27 L273.62 199.38 L274 199.48" fill="none" stroke="#111" stroke-width="1.5" stroke-linejoin="round" stroke-linecap="round"/>
<line x1="42.7" y1="200" x2="299.5" y2="200" stroke="#D0272D" stroke-width="1.7"/>
<path d="M42.7 200 L43.19 200 L43.68 200 L44.17 200 L44.66 200 L45.16 200 L45.65 200 L46.14 200 L46.63 200 L47.12 200 L47.61 200 L48.1 200 L48.59 200 L49.08 200 L49.57 200 L50.07 200 L50.56 200 L51.05 200 L51.54 200 L52.03 200 L52.52 200 L53.01 200 L53.5 200 L53.99 199.99 L54.48 199.99 L54.98 199.99 L55.47 199.99 L55.96 199.99 L56.45 199.98 L56.94 199.98 L57.43 199.98 L57.92 199.97 L58.41 199.96 L58.9 199.96 L59.39 199.95 L59.89 199.94 L60.38 199.93 L60.87 199.92 L61.36 199.9 L61.85 199.89 L62.34 199.87 L62.83 199.85 L63.32 199.83 L63.81 199.81 L64.3 199.78 L64.8 199.75 L65.29 199.72 L65.78 199.69 L66.27 199.66 L66.76 199.62 L67.25 199.58 L67.74 199.54 L68.23 199.5 L68.72 199.46 L69.21 199.42 L69.71 199.38 L70.2 199.33 L70.69 199.29 L71.18 199.25 L71.67 199.21 L72.16 199.17 L72.65 199.14 L73.14 199.11 L73.63 199.08 L74.12 199.06 L74.62 199.04 L75.11 199.02 L75.6 199.01 L76.09 199 L76.58 199 L77.07 199 L77.56 199.01 L78.05 199.02 L78.54 199.04 L79.03 199.06 L79.53 199.09 L80.02 199.12 L80.51 199.15 L81 199.18 L81.49 199.22 L81.98 199.26 L82.47 199.3 L82.96 199.34 L83.45 199.38 L83.94 199.42 L84.44 199.46 L84.93 199.5 L85.42 199.53 L85.91 199.57 L86.4 199.6 L86.89 199.62 L87.38 199.64 L87.87 199.66 L88.36 199.67 L88.85 199.68 L89.34 199.68 L89.84 199.67 L90.33 199.66 L90.82 199.64 L91.31 199.61 L91.8 199.57 L92.29 199.53 L92.78 199.47 L93.27 199.41 L93.76 199.33 L94.26 199.25 L94.75 199.16 L95.24 199.06 L95.73 198.95 L96.22 198.83 L96.71 198.71 L97.2 198.58 L97.69 198.44 L98.18 198.31 L98.67 198.17 L99.17 198.03 L99.66 197.9 L100.15 197.77 L100.64 197.64 L101.13 197.52 L101.62 197.41 L102.11 197.31 L102.6 197.22 L103.09 197.14 L103.58 197.07 L104.08 197.01 L104.57 196.96 L105.06 196.92 L105.55 196.87 L106.04 196.83 L106.53 196.79 L107.02 196.75 L107.51 196.7 L108 196.65 L108.49 196.59 L108.98 196.51 L109.48 196.42 L109.97 196.32 L110.46 196.19 L110.95 196.05 L111.44 195.87 L111.93 195.67 L112.42 195.43 L112.91 195.16 L113.4 194.86 L113.89 194.51 L114.39 194.12 L114.88 193.69 L115.37 193.21 L115.86 192.69 L116.35 192.11 L116.84 191.48 L117.33 190.81 L117.82 190.07 L118.31 189.29 L118.81 188.45 L119.3 187.56 L119.79 186.62 L120.28 185.62 L120.77 184.57 L121.26 183.48 L121.75 182.33 L122.24 181.14 L122.73 179.91 L123.22 178.64 L123.72 177.33 L124.21 176 L124.7 174.63 L125.19 173.24 L125.68 171.84 L126.17 170.42 L126.66 169 L127.15 167.57 L127.64 166.16 L128.13 164.75 L128.62 163.37 L129.12 162.01 L129.61 160.69 L130.1 159.41 L130.59 158.18 L131.08 157 L131.57 155.88 L132.06 154.83 L132.55 153.85 L133.04 152.96 L133.54 152.15 L134.03 151.43 L134.52 150.8 L135.01 150.27 L135.5 149.85 L135.99 149.53 L136.48 149.32 L136.97 149.21 L137.46 149.21 L137.95 149.31 L138.45 149.51 L138.94 149.81 L139.43 150.19 L139.92 150.67 L140.41 151.24 L140.9 151.9 L141.39 152.63 L141.88 153.45 L142.37 154.34 L142.86 155.3 L143.36 156.32 L143.85 157.4 L144.34 158.53 L144.83 159.72 L145.32 160.94 L145.81 162.2 L146.3 163.48 L146.79 164.8 L147.28 166.13 L147.77 167.47 L148.27 168.82 L148.76 170.17 L149.25 171.51 L149.74 172.85 L150.23 174.18 L150.72 175.48 L151.21 176.77 L151.7 178.03 L152.19 179.26 L152.68 180.46 L153.18 181.63 L153.67 182.76 L154.16 183.85 L154.65 184.9 L155.14 185.91 L155.63 186.88 L156.12 187.81 L156.61 188.69 L157.1 189.53 L157.59 190.32 L158.09 191.07 L158.58 191.78 L159.07 192.45 L159.56 193.07 L160.05 193.66 L160.54 194.21 L161.03 194.72 L161.52 195.19 L162.01 195.63 L162.5 196.04 L163 196.42 L163.49 196.77 L163.98 197.08 L164.47 197.38 L164.96 197.65 L165.45 197.89 L165.94 198.11 L166.43 198.31 L166.92 198.5 L167.41 198.66 L167.91 198.81 L168.4 198.95 L168.89 199.07 L169.38 199.18 L169.87 199.28 L170.36 199.37 L170.85 199.44 L171.34 199.51 L171.83 199.57 L172.32 199.63 L172.81 199.68 L173.31 199.72 L173.8 199.76 L174.29 199.79 L174.78 199.82 L175.27 199.84 L175.76 199.86 L176.25 199.88 L176.74 199.9 L177.23 199.91 L177.73 199.93 L178.22 199.94 L178.71 199.95 L179.2 199.96 L179.69 199.96 L180.18 199.97 L180.67 199.97 L181.16 199.98 L181.65 199.98 L182.14 199.98 L182.63 199.99 L183.13 199.99 L183.62 199.99 L184.11 199.99 L184.6 199.99 L185.09 199.99 L185.58 200 L186.07 200 L186.56 200 L187.05 200 L187.55 200 L188.04 200 L188.53 200 L189.02 200 L189.51 200 L190 200" fill="none" stroke="#D0272D" stroke-width="1.5" stroke-linejoin="round" stroke-linecap="round"/>
<text x="7.6" y="231.44" font-size="6.8" text-anchor="middle" fill="#000" textLength="8.6" lengthAdjust="spacingAndGlyphs">(c)</text>
<line x1="43" y1="233.6" x2="43" y2="405.3" stroke="#222" stroke-width="1.6"/>
<line x1="43" y1="405.3" x2="336.2" y2="405.3" stroke="#222" stroke-width="0.85"/>
<text x="40.1" y="234.12" font-size="5.2" text-anchor="end" fill="#000" textLength="11.8" lengthAdjust="spacingAndGlyphs" style="stroke:none">96</text>
<text x="40.1" y="241.42" font-size="5.2" text-anchor="end" fill="#000" textLength="11.8" lengthAdjust="spacingAndGlyphs" style="stroke:none">64</text>
<text x="40.1" y="249.12" font-size="5.2" text-anchor="end" fill="#000" textLength="11.8" lengthAdjust="spacingAndGlyphs" style="stroke:none">32</text>
<text x="40.1" y="256.52" font-size="5.2" text-anchor="end" fill="#000" textLength="5.6" lengthAdjust="spacingAndGlyphs" style="stroke:none">0</text>
<text x="35.7" y="262.12" font-size="5.2" text-anchor="end" fill="#000" textLength="11.8" lengthAdjust="spacingAndGlyphs" style="stroke:none">96</text>
<text x="35.7" y="269.02" font-size="5.2" text-anchor="end" fill="#000" textLength="11.8" lengthAdjust="spacingAndGlyphs" style="stroke:none">64</text>
<text x="35.7" y="275.42" font-size="5.2" text-anchor="end" fill="#000" textLength="11.8" lengthAdjust="spacingAndGlyphs" style="stroke:none">32</text>
<text x="35.7" y="282.32" font-size="5.2" text-anchor="end" fill="#000" textLength="5.6" lengthAdjust="spacingAndGlyphs" style="stroke:none">0</text>
<text x="35.7" y="287.92" font-size="5.2" text-anchor="end" fill="#000" textLength="17.6" lengthAdjust="spacingAndGlyphs" style="stroke:none">105</text>
<text x="35.7" y="293.12" font-size="5.2" text-anchor="end" fill="#000" textLength="11.8" lengthAdjust="spacingAndGlyphs" style="stroke:none">70</text>
<text x="35.7" y="297.92" font-size="5.2" text-anchor="end" fill="#000" textLength="11.8" lengthAdjust="spacingAndGlyphs" style="stroke:none">38</text>
<text x="35.7" y="303.22" font-size="5.2" text-anchor="end" fill="#000" textLength="5.6" lengthAdjust="spacingAndGlyphs" style="stroke:none">0</text>
<text x="35.7" y="307.72" font-size="5.2" text-anchor="end" fill="#000" textLength="11.8" lengthAdjust="spacingAndGlyphs" style="stroke:none">96</text>
<text x="35.7" y="313.02" font-size="5.2" text-anchor="end" fill="#000" textLength="11.8" lengthAdjust="spacingAndGlyphs" style="stroke:none">64</text>
<text x="35.7" y="318.02" font-size="5.2" text-anchor="end" fill="#000" textLength="11.8" lengthAdjust="spacingAndGlyphs" style="stroke:none">32</text>
<text x="35.7" y="323.32" font-size="5.2" text-anchor="end" fill="#000" textLength="5.6" lengthAdjust="spacingAndGlyphs" style="stroke:none">0</text>
<text x="35.7" y="328.42" font-size="5.2" text-anchor="end" fill="#000" textLength="11.8" lengthAdjust="spacingAndGlyphs" style="stroke:none">96</text>
<text x="35.7" y="333.72" font-size="5.2" text-anchor="end" fill="#000" textLength="11.8" lengthAdjust="spacingAndGlyphs" style="stroke:none">64</text>
<text x="35.7" y="339.02" font-size="5.2" text-anchor="end" fill="#000" textLength="11.8" lengthAdjust="spacingAndGlyphs" style="stroke:none">32</text>
<text x="35.7" y="344.12" font-size="5.2" text-anchor="end" fill="#000" textLength="5.6" lengthAdjust="spacingAndGlyphs" style="stroke:none">0</text>
<text x="35.7" y="348.92" font-size="5.2" text-anchor="end" fill="#000" textLength="11.8" lengthAdjust="spacingAndGlyphs" style="stroke:none">99</text>
<text x="35.7" y="354.22" font-size="5.2" text-anchor="end" fill="#000" textLength="11.8" lengthAdjust="spacingAndGlyphs" style="stroke:none">66</text>
<text x="35.7" y="359.22" font-size="5.2" text-anchor="end" fill="#000" textLength="11.8" lengthAdjust="spacingAndGlyphs" style="stroke:none">33</text>
<text x="35.7" y="364.22" font-size="5.2" text-anchor="end" fill="#000" textLength="5.6" lengthAdjust="spacingAndGlyphs" style="stroke:none">0</text>
<text x="35.7" y="369.32" font-size="5.2" text-anchor="end" fill="#000" textLength="11.8" lengthAdjust="spacingAndGlyphs" style="stroke:none">96</text>
<text x="35.7" y="374.52" font-size="5.2" text-anchor="end" fill="#000" textLength="11.8" lengthAdjust="spacingAndGlyphs" style="stroke:none">64</text>
<text x="35.7" y="379.62" font-size="5.2" text-anchor="end" fill="#000" textLength="11.8" lengthAdjust="spacingAndGlyphs" style="stroke:none">32</text>
<text x="35.7" y="384.42" font-size="5.2" text-anchor="end" fill="#000" textLength="5.6" lengthAdjust="spacingAndGlyphs" style="stroke:none">0</text>
<text x="35.7" y="389.22" font-size="5.2" text-anchor="end" fill="#000" textLength="11.8" lengthAdjust="spacingAndGlyphs" style="stroke:none">99</text>
<text x="35.7" y="394.52" font-size="5.2" text-anchor="end" fill="#000" textLength="11.8" lengthAdjust="spacingAndGlyphs" style="stroke:none">66</text>
<text x="35.7" y="399.32" font-size="5.2" text-anchor="end" fill="#000" textLength="11.8" lengthAdjust="spacingAndGlyphs" style="stroke:none">33</text>
<text x="35.7" y="404.52" font-size="5.2" text-anchor="end" fill="#000" textLength="5.6" lengthAdjust="spacingAndGlyphs" style="stroke:none">0</text>
<line x1="43" y1="237.2" x2="49.4" y2="237.2" stroke="#2a2a2a" stroke-width="0.75"/>
<line x1="43" y1="245.1" x2="49.4" y2="245.1" stroke="#2a2a2a" stroke-width="0.75"/>
<line x1="43" y1="252.5" x2="49.4" y2="252.5" stroke="#2a2a2a" stroke-width="0.75"/>
<line x1="43" y1="260.4" x2="49.4" y2="260.4" stroke="#2a2a2a" stroke-width="0.75"/>
<line x1="43" y1="267.3" x2="49.4" y2="267.3" stroke="#2a2a2a" stroke-width="0.75"/>
<line x1="43" y1="273.7" x2="49.4" y2="273.7" stroke="#2a2a2a" stroke-width="0.75"/>
<line x1="43" y1="280.6" x2="49.4" y2="280.6" stroke="#2a2a2a" stroke-width="0.75"/>
<line x1="43" y1="286.2" x2="49.4" y2="286.2" stroke="#2a2a2a" stroke-width="0.75"/>
<line x1="43" y1="291.4" x2="49.4" y2="291.4" stroke="#2a2a2a" stroke-width="0.75"/>
<line x1="43" y1="296.2" x2="49.4" y2="296.2" stroke="#2a2a2a" stroke-width="0.75"/>
<line x1="43" y1="301.5" x2="49.4" y2="301.5" stroke="#2a2a2a" stroke-width="0.75"/>
<line x1="43" y1="306" x2="49.4" y2="306" stroke="#2a2a2a" stroke-width="0.75"/>
<line x1="43" y1="311.3" x2="49.4" y2="311.3" stroke="#2a2a2a" stroke-width="0.75"/>
<line x1="43" y1="316.3" x2="49.4" y2="316.3" stroke="#2a2a2a" stroke-width="0.75"/>
<line x1="43" y1="321.6" x2="49.4" y2="321.6" stroke="#2a2a2a" stroke-width="0.75"/>
<line x1="43" y1="326.7" x2="49.4" y2="326.7" stroke="#2a2a2a" stroke-width="0.75"/>
<line x1="43" y1="332" x2="49.4" y2="332" stroke="#2a2a2a" stroke-width="0.75"/>
<line x1="43" y1="337.3" x2="49.4" y2="337.3" stroke="#2a2a2a" stroke-width="0.75"/>
<line x1="43" y1="342.4" x2="49.4" y2="342.4" stroke="#2a2a2a" stroke-width="0.75"/>
<line x1="43" y1="347.2" x2="49.4" y2="347.2" stroke="#2a2a2a" stroke-width="0.75"/>
<line x1="43" y1="352.5" x2="49.4" y2="352.5" stroke="#2a2a2a" stroke-width="0.75"/>
<line x1="43" y1="357.5" x2="49.4" y2="357.5" stroke="#2a2a2a" stroke-width="0.75"/>
<line x1="43" y1="362.5" x2="49.4" y2="362.5" stroke="#2a2a2a" stroke-width="0.75"/>
<line x1="43" y1="367.6" x2="49.4" y2="367.6" stroke="#2a2a2a" stroke-width="0.75"/>
<line x1="43" y1="372.8" x2="49.4" y2="372.8" stroke="#2a2a2a" stroke-width="0.75"/>
<line x1="43" y1="377.9" x2="49.4" y2="377.9" stroke="#2a2a2a" stroke-width="0.75"/>
<line x1="43" y1="382.7" x2="49.4" y2="382.7" stroke="#2a2a2a" stroke-width="0.75"/>
<line x1="43" y1="387.5" x2="49.4" y2="387.5" stroke="#2a2a2a" stroke-width="0.75"/>
<line x1="43" y1="392.8" x2="49.4" y2="392.8" stroke="#2a2a2a" stroke-width="0.75"/>
<line x1="43" y1="397.6" x2="49.4" y2="397.6" stroke="#2a2a2a" stroke-width="0.75"/>
<line x1="43" y1="402.8" x2="49.4" y2="402.8" stroke="#2a2a2a" stroke-width="0.75"/>
<line x1="43" y1="234.1" x2="46.3" y2="234.1" stroke="#2a2a2a" stroke-width="0.75"/>
<line x1="43" y1="241.15" x2="46.3" y2="241.15" stroke="#2a2a2a" stroke-width="0.75"/>
<line x1="43" y1="248.8" x2="46.3" y2="248.8" stroke="#2a2a2a" stroke-width="0.75"/>
<line x1="43" y1="256.45" x2="46.3" y2="256.45" stroke="#2a2a2a" stroke-width="0.75"/>
<line x1="43" y1="263.85" x2="46.3" y2="263.85" stroke="#2a2a2a" stroke-width="0.75"/>
<line x1="43" y1="270.5" x2="46.3" y2="270.5" stroke="#2a2a2a" stroke-width="0.75"/>
<line x1="43" y1="277.15" x2="46.3" y2="277.15" stroke="#2a2a2a" stroke-width="0.75"/>
<line x1="43" y1="283.4" x2="46.3" y2="283.4" stroke="#2a2a2a" stroke-width="0.75"/>
<line x1="43" y1="288.8" x2="46.3" y2="288.8" stroke="#2a2a2a" stroke-width="0.75"/>
<line x1="43" y1="293.8" x2="46.3" y2="293.8" stroke="#2a2a2a" stroke-width="0.75"/>
<line x1="43" y1="298.85" x2="46.3" y2="298.85" stroke="#2a2a2a" stroke-width="0.75"/>
<line x1="43" y1="303.75" x2="46.3" y2="303.75" stroke="#2a2a2a" stroke-width="0.75"/>
<line x1="43" y1="308.65" x2="46.3" y2="308.65" stroke="#2a2a2a" stroke-width="0.75"/>
<line x1="43" y1="313.8" x2="46.3" y2="313.8" stroke="#2a2a2a" stroke-width="0.75"/>
<line x1="43" y1="318.95" x2="46.3" y2="318.95" stroke="#2a2a2a" stroke-width="0.75"/>
<line x1="43" y1="324.15" x2="46.3" y2="324.15" stroke="#2a2a2a" stroke-width="0.75"/>
<line x1="43" y1="329.35" x2="46.3" y2="329.35" stroke="#2a2a2a" stroke-width="0.75"/>
<line x1="43" y1="334.65" x2="46.3" y2="334.65" stroke="#2a2a2a" stroke-width="0.75"/>
<line x1="43" y1="339.85" x2="46.3" y2="339.85" stroke="#2a2a2a" stroke-width="0.75"/>
<line x1="43" y1="344.8" x2="46.3" y2="344.8" stroke="#2a2a2a" stroke-width="0.75"/>
<line x1="43" y1="349.85" x2="46.3" y2="349.85" stroke="#2a2a2a" stroke-width="0.75"/>
<line x1="43" y1="355" x2="46.3" y2="355" stroke="#2a2a2a" stroke-width="0.75"/>
<line x1="43" y1="360" x2="46.3" y2="360" stroke="#2a2a2a" stroke-width="0.75"/>
<line x1="43" y1="365.05" x2="46.3" y2="365.05" stroke="#2a2a2a" stroke-width="0.75"/>
<line x1="43" y1="370.2" x2="46.3" y2="370.2" stroke="#2a2a2a" stroke-width="0.75"/>
<line x1="43" y1="375.35" x2="46.3" y2="375.35" stroke="#2a2a2a" stroke-width="0.75"/>
<line x1="43" y1="380.3" x2="46.3" y2="380.3" stroke="#2a2a2a" stroke-width="0.75"/>
<line x1="43" y1="385.1" x2="46.3" y2="385.1" stroke="#2a2a2a" stroke-width="0.75"/>
<line x1="43" y1="390.15" x2="46.3" y2="390.15" stroke="#2a2a2a" stroke-width="0.75"/>
<line x1="43" y1="395.2" x2="46.3" y2="395.2" stroke="#2a2a2a" stroke-width="0.75"/>
<line x1="43" y1="400.2" x2="46.3" y2="400.2" stroke="#2a2a2a" stroke-width="0.75"/>
<line x1="43" y1="260.4" x2="49.6" y2="260.4" stroke="#111" stroke-width="1.2"/>
<line x1="112.4" y1="404.1" x2="112.4" y2="405.3" stroke="#222" stroke-width="0.8"/>
<line x1="181.8" y1="403.1" x2="181.8" y2="405.3" stroke="#222" stroke-width="0.8"/>
<line x1="251.2" y1="404.1" x2="251.2" y2="405.3" stroke="#222" stroke-width="0.8"/>
<line x1="320.6" y1="403.1" x2="320.6" y2="405.3" stroke="#222" stroke-width="0.8"/>
<text x="43.2" y="411.45" font-size="5.6" text-anchor="middle" fill="#000" textLength="5.8" lengthAdjust="spacingAndGlyphs" style="stroke:none">0</text>
<text x="181.6" y="411.45" font-size="5.6" text-anchor="middle" fill="#000" textLength="24.6" lengthAdjust="spacingAndGlyphs" style="stroke:none">2000</text>
<text x="320.4" y="411.45" font-size="5.6" text-anchor="middle" fill="#000" textLength="25.6" lengthAdjust="spacingAndGlyphs" style="stroke:none">4000</text>
<text x="187.9" y="423.94" font-size="8.6" text-anchor="middle" fill="#000" textLength="79" lengthAdjust="spacingAndGlyphs">Wavenumber (cm-1)</text>
<text transform="translate(10.3 311) rotate(-90)" x="0" y="2.84" font-size="8.6" text-anchor="middle" fill="#000" textLength="68" lengthAdjust="spacingAndGlyphs" style="stroke-width:0.3px">Transmittance (T%)</text>
<path d="M69.6 246.5C69.7 247.17 69.72 249.77 70.2 250.5C70.68 251.23 71.65 250.62 72.5 250.9C73.35 251.18 73.3 251.92 75.3 252.2C77.3 252.48 81.27 252.88 84.5 252.6C87.73 252.32 91.97 251.7 94.7 250.5C97.43 249.3 98.68 247.27 100.9 245.4C103.12 243.53 106.15 240.37 108 239.3C109.85 238.23 110.12 239.23 112 239C113.88 238.77 116.9 238.08 119.3 237.9C121.7 237.72 124.43 237.25 126.4 237.9C128.37 238.55 129.73 241.73 131.1 241.8C132.47 241.87 133.33 238.3 134.6 238.3C135.87 238.3 137.17 241.63 138.7 241.8C140.23 241.97 141.93 239.03 143.8 239.3C145.67 239.57 148.33 241.53 149.9 243.4C151.47 245.27 152.25 248.53 153.2 250.5C154.15 252.47 154.8 254.58 155.6 255.2C156.4 255.82 157.25 254.8 158 254.2C158.75 253.6 159.27 253.3 160.1 251.6C160.93 249.9 161.97 246.05 163 244C164.03 241.95 164.9 240.32 166.3 239.3C167.7 238.28 169.45 237.78 171.4 237.9C173.35 238.02 175.78 239.15 178 240C180.22 240.85 182.37 242.77 184.7 243C187.03 243.23 189.45 241.95 192 241.4C194.55 240.85 196.62 240.38 200 239.7C203.38 239.02 208.97 237.58 212.3 237.3C215.63 237.02 218.13 237.67 220 238C221.87 238.33 221.72 239.22 223.5 239.3C225.28 239.38 228.32 238.33 230.7 238.5C233.08 238.67 235.51 239.23 237.8 240.3C240.09 241.37 242.23 243.37 244.45 244.9C246.67 246.43 248.8 248.05 251.1 249.5C253.4 250.95 255.87 252.23 258.25 253.6C260.63 254.97 261.82 256.75 265.4 257.7C268.97 258.65 274.93 259.23 279.7 259.3C284.47 259.37 291.03 258.9 294 258.1C296.97 257.3 296.48 255.93 297.5 254.5C298.52 253.07 299.27 251 300.1 249.5C300.93 248 301.63 246.78 302.5 245.5C303.37 244.22 304.22 242.58 305.3 241.8C306.38 241.02 307.48 241.15 309 240.8C310.52 240.45 312.4 240.28 314.4 239.7C316.4 239.12 319.9 237.7 321 237.3" fill="none" stroke="#111" stroke-width="1.3" stroke-linejoin="round" stroke-linecap="round"/>
<path d="M69.6 278.5C70.33 278.67 72.2 279.22 74 279.5C75.8 279.78 77.97 280.08 80.4 280.2C82.83 280.32 85.87 280.2 88.6 280.2C91.33 280.2 94.25 280.88 96.8 280.2C99.35 279.52 101.52 277.63 103.9 276.1C106.28 274.57 109.5 271.68 111.1 271C112.7 270.32 112.68 272.13 113.5 272C114.32 271.87 114.7 270.82 116 270.2C117.3 269.58 119.57 268.17 121.3 268.3C123.03 268.43 124.77 269.53 126.4 271C128.03 272.47 129.73 277 131.1 277.1C132.47 277.2 133.23 271.77 134.6 271.6C135.97 271.43 137.7 276.72 139.3 276.1C140.9 275.48 142.43 267.9 144.2 267.9C145.97 267.9 148.27 274.05 149.9 276.1C151.53 278.15 151.95 279.52 154 280.2C156.05 280.88 160.37 281.57 162.2 280.2C164.03 278.83 163.98 274.9 165 272C166.02 269.1 167.07 264.33 168.3 262.8C169.53 261.27 170.78 261.85 172.4 262.8C174.02 263.75 175.95 266.63 178 268.5C180.05 270.37 182.37 273.5 184.7 274C187.03 274.5 189.45 272.68 192 271.5C194.55 270.32 197.3 268.52 200 266.9C202.7 265.28 205.82 262.48 208.2 261.8C210.58 261.12 212.33 261.85 214.3 262.8C216.27 263.75 218.37 266.13 220 267.5C221.63 268.87 222.32 270.7 224.1 271C225.88 271.3 228.55 268.88 230.7 269.3C232.85 269.72 234.8 272.03 237 273.5C239.2 274.97 240.87 276.92 243.9 278.1C246.93 279.28 250.99 280.18 255.2 280.6C259.41 281.02 264.51 280.6 269.17 280.6C273.82 280.6 278.48 280.6 283.13 280.6C287.79 280.6 294.37 281.2 297.1 280.6C299.83 280 298.65 278.43 299.5 277C300.35 275.57 301.37 273.58 302.2 272C303.03 270.42 303.65 268.68 304.5 267.5C305.35 266.32 305.65 265.58 307.3 264.9C308.95 264.22 312.12 264.18 314.4 263.4C316.68 262.62 319.9 260.73 321 260.2" fill="none" stroke="#E08A2E" stroke-width="1.3" stroke-linejoin="round" stroke-linecap="round"/>
<path d="M69.6 300.2C69.65 299.08 68.95 294.18 69.9 293.5C70.85 292.82 72.52 295.53 75.3 296.1C78.08 296.67 83.02 297.17 86.6 296.9C90.18 296.63 94.32 295.57 96.8 294.5C99.28 293.43 99.97 291.87 101.5 290.5C103.03 289.13 104.58 287.1 106 286.3C107.42 285.5 107.78 285.35 110 285.7C112.22 286.05 116.05 287.78 119.3 288.4C122.55 289.02 126.1 289.07 129.5 289.4C132.9 289.73 136.98 289.97 139.7 290.4C142.42 290.83 143.92 290.98 145.8 292C147.68 293.02 149.37 295.13 151 296.5C152.63 297.87 154.08 300.37 155.6 300.2C157.12 300.03 158.7 297.12 160.1 295.5C161.5 293.88 162.63 291.75 164 290.5C165.37 289.25 165.97 288.15 168.3 288C170.63 287.85 174.93 289.1 178 289.6C181.07 290.1 183.03 291.03 186.7 291C190.37 290.97 195.4 290.02 200 289.4C204.6 288.78 210.55 287.6 214.3 287.3C218.05 287 219.77 287.5 222.5 287.6C225.23 287.7 227.63 287.43 230.7 287.9C233.77 288.37 237.52 289.13 240.9 290.4C244.28 291.67 247.6 293.87 251 295.5C254.4 297.13 258.22 299.3 261.3 300.2C264.38 301.1 266.77 300.67 269.5 300.9C272.23 301.13 274.97 301.52 277.7 301.6C280.43 301.68 283.13 301.47 285.85 301.4C288.57 301.33 292.11 301.68 294 301.2C295.89 300.72 296.18 299.62 297.2 298.5C298.22 297.38 298.75 295.85 300.1 294.5C301.45 293.15 303.32 291.28 305.3 290.4C307.28 289.52 309.38 289.65 312 289.2C314.62 288.75 319.5 287.95 321 287.7" fill="none" stroke="#8C8C8C" stroke-width="1.3" stroke-linejoin="round" stroke-linecap="round"/>
<path d="M69.6 310.4C70.72 311.15 73.47 313.87 76.3 314.9C79.13 315.93 83.35 316.6 86.6 316.6C89.85 316.6 93.32 315.8 95.8 314.9C98.28 314 99.63 312.38 101.5 311.2C103.37 310.02 103.7 308.47 107 307.8C110.3 307.13 117.9 307.2 121.3 307.2C124.7 307.2 125.77 307.37 127.4 307.8C129.03 308.23 129.9 309.63 131.1 309.8C132.3 309.97 133.17 308.63 134.6 308.8C136.03 308.97 137.83 310.7 139.7 310.8C141.57 310.9 143.93 308.88 145.8 309.4C147.67 309.92 149.18 312.13 150.9 313.9C152.62 315.67 154.38 319.83 156.1 320C157.82 320.17 159.5 316.93 161.2 314.9C162.9 312.87 164.43 309.15 166.3 307.8C168.17 306.45 169 306.53 172.4 306.8C175.8 307.07 182.1 309.23 186.7 309.4C191.3 309.57 195.73 308.32 200 307.8C204.27 307.28 208.38 306.52 212.3 306.3C216.22 306.08 219.77 306.43 223.5 306.5C227.23 306.57 231.12 305.98 234.7 306.7C238.28 307.42 241.95 309.33 245 310.8C248.05 312.27 250.28 314.07 253 315.5C255.72 316.93 258.55 318.61 261.3 319.4C264.05 320.19 266.77 319.97 269.5 320.25C272.23 320.53 274.97 321 277.7 321.1C280.43 321.2 283.13 320.93 285.85 320.85C288.57 320.77 292.06 321.16 294 320.6C295.94 320.04 296.48 318.78 297.5 317.5C298.52 316.22 298.8 314.42 300.1 312.9C301.4 311.38 303.32 309.35 305.3 308.4C307.28 307.45 309.38 307.65 312 307.2C314.62 306.75 319.5 305.95 321 305.7" fill="none" stroke="#F4EE3A" stroke-width="1.3" stroke-linejoin="round" stroke-linecap="round"/>
<path d="M69.6 334.3C71.07 334.92 74.88 337.38 78.4 338C81.92 338.62 87.3 338.62 90.7 338C94.1 337.38 96.67 335.47 98.8 334.3C100.93 333.13 101.97 331.95 103.5 331C105.03 330.05 106.4 328.9 108 328.6C109.6 328.3 110.53 329.27 113.1 329.2C115.67 329.13 119.65 328.27 123.4 328.2C127.15 328.13 133.17 328.5 135.6 328.8C138.03 329.1 137.15 329.48 138 330C138.85 330.52 139.57 331.8 140.7 331.9C141.83 332 143.1 329.87 144.8 330.6C146.5 331.33 149.02 334.6 150.9 336.3C152.78 338 154.38 340.97 156.1 340.8C157.82 340.63 159.8 337.02 161.2 335.3C162.6 333.58 163.48 331.62 164.5 330.5C165.52 329.38 165.65 328.72 167.3 328.6C168.95 328.48 171.17 329.02 174.4 329.8C177.63 330.58 182.43 333.17 186.7 333.3C190.97 333.43 195.73 331.62 200 330.6C204.27 329.58 207.87 327.85 212.3 327.2C216.73 326.55 222.52 326.37 226.6 326.7C230.68 327.03 233.91 328.1 236.8 329.2C239.69 330.3 241.57 331.93 243.95 333.3C246.33 334.67 247.53 336.03 251.1 337.4C254.67 338.77 260.63 340.78 265.4 341.5C270.17 342.22 274.93 341.63 279.7 341.7C284.47 341.77 291.03 342.27 294 341.9C296.97 341.53 296.48 340.43 297.5 339.5C298.52 338.57 298.8 337.68 300.1 336.3C301.4 334.92 302.92 332.38 305.3 331.2C307.68 330.02 311.78 329.87 314.4 329.2C317.02 328.53 319.9 327.53 321 327.2" fill="none" stroke="#2D2DC8" stroke-width="1.3" stroke-linejoin="round" stroke-linecap="round"/>
<path d="M69.6 356.8C70.72 357.38 72.78 359.68 76.3 360.3C79.82 360.92 86.95 360.92 90.7 360.5C94.45 360.08 96.83 358.8 98.8 357.8C100.77 356.8 101.3 355.68 102.5 354.5C103.7 353.32 104.73 351.78 106 350.7C107.27 349.62 108.57 348.28 110.1 348C111.63 347.72 112.65 348.97 115.2 349C117.75 349.03 122.75 347.85 125.4 348.2C128.05 348.55 129.47 351.03 131.1 351.1C132.73 351.17 133.6 348.43 135.2 348.6C136.8 348.77 139.1 351.93 140.7 352.1C142.3 352.27 143.1 348.65 144.8 349.6C146.5 350.55 149.02 355.75 150.9 357.8C152.78 359.85 154.38 361.9 156.1 361.9C157.82 361.9 159.88 359.45 161.2 357.8C162.52 356.15 163.15 353.53 164 352C164.85 350.47 164.9 349.3 166.3 348.6C167.7 347.9 170.12 347.4 172.4 347.8C174.68 348.2 177.62 350.02 180 351C182.38 351.98 183.37 353.83 186.7 353.7C190.03 353.57 196.08 351.28 200 350.2C203.92 349.12 206.12 347.6 210.2 347.2C214.28 346.8 220.42 347.63 224.5 347.8C228.58 347.97 231.28 347.05 234.7 348.2C238.12 349.35 242.12 352.93 245 354.7C247.88 356.47 249.62 357.6 252 358.8C254.38 360 256.04 361.36 259.3 361.9C262.56 362.44 267.48 361.99 271.57 362.03C275.66 362.08 279.74 362.12 283.83 362.17C287.92 362.21 293.66 362.74 296.1 362.3C298.54 361.86 297.83 360.58 298.5 359.5C299.17 358.42 299.43 357.3 300.1 355.8C300.77 354.3 301.63 351.87 302.5 350.5C303.37 349.13 303.72 348.13 305.3 347.6C306.88 347.07 309.38 347.37 312 347.3C314.62 347.23 319.5 347.22 321 347.2" fill="none" stroke="#2EDC2E" stroke-width="1.3" stroke-linejoin="round" stroke-linecap="round"/>
<path d="M69.6 378.9C70.38 379.23 71.82 380.57 74.3 380.9C76.78 381.23 81.1 380.9 84.5 380.9C87.9 380.9 91.63 381.68 94.7 380.9C97.77 380.12 100.33 378 102.9 376.2C105.47 374.4 107.03 371.3 110.1 370.1C113.17 368.9 117.05 369 121.3 369C125.55 369 132.37 369.35 135.6 370.1C138.83 370.85 139.17 373.17 140.7 373.5C142.23 373.83 143.1 371.32 144.8 372.1C146.5 372.88 149.02 376.5 150.9 378.2C152.78 379.9 154.38 382.3 156.1 382.3C157.82 382.3 159.8 379.83 161.2 378.2C162.6 376.57 163.48 374.03 164.5 372.5C165.52 370.97 165.65 369.47 167.3 369C168.95 368.53 171.17 368.95 174.4 369.7C177.63 370.45 182.43 373.43 186.7 373.5C190.97 373.57 195.73 371.08 200 370.1C204.27 369.12 208.72 368.03 212.3 367.6C215.88 367.17 218.43 367.53 221.5 367.5C224.57 367.47 227.47 366.87 230.7 367.4C233.93 367.93 237.5 369.07 240.9 370.7C244.3 372.33 247.7 375.33 251.1 377.2C254.5 379.07 257.67 381.09 261.3 381.9C264.93 382.71 269.03 381.99 272.9 382.03C276.77 382.08 280.63 382.12 284.5 382.17C288.37 382.21 293.72 382.66 296.1 382.3C298.48 381.94 297.95 380.85 298.8 380C299.65 379.15 300.12 378.35 301.2 377.2C302.28 376.05 303.5 374.13 305.3 373.1C307.1 372.07 309.38 371.92 312 371C314.62 370.08 319.5 368.17 321 367.6" fill="none" stroke="#D03A3A" stroke-width="1.3" stroke-linejoin="round" stroke-linecap="round"/>
<path d="M69.6 392.6C71.07 393.27 74.88 395.82 78.4 396.6C81.92 397.38 87.3 397.63 90.7 397.3C94.1 396.97 96.25 395.8 98.8 394.6C101.35 393.4 104.12 391.12 106 390.1C107.88 389.08 108.85 388.53 110.1 388.5C111.35 388.47 111.63 389.9 113.5 389.9C115.37 389.9 118.37 388.3 121.3 388.5C124.23 388.7 128.88 390.93 131.1 391.1C133.32 391.27 133.17 389.37 134.6 389.5C136.03 389.63 138 391.73 139.7 391.9C141.4 392.07 142.93 389.72 144.8 390.5C146.67 391.28 149.02 394.83 150.9 396.6C152.78 398.37 154.38 400.92 156.1 401.1C157.82 401.28 159.8 399.13 161.2 397.7C162.6 396.27 163.48 393.77 164.5 392.5C165.52 391.23 165.98 390.6 167.3 390.1C168.62 389.6 169.17 388.98 172.4 389.5C175.63 390.02 182.1 393.03 186.7 393.2C191.3 393.37 195.73 391.47 200 390.5C204.27 389.53 208.22 387.73 212.3 387.4C216.38 387.07 220.77 388.32 224.5 388.5C228.23 388.68 230.95 387.32 234.7 388.5C238.45 389.68 243.58 393.91 247 395.6C250.42 397.29 252.47 397.63 255.2 398.65C257.93 399.67 260.51 401.07 263.4 401.7C266.29 402.33 269.5 402.2 272.55 402.45C275.6 402.7 278.12 403.24 281.7 403.2C285.27 403.16 291.37 402.82 294 402.2C296.63 401.58 296.48 400.6 297.5 399.5C298.52 398.4 299.22 397.1 300.1 395.6C300.98 394.1 301.93 391.75 302.8 390.5C303.67 389.25 303.77 388.6 305.3 388.1C306.83 387.6 309.38 387.62 312 387.5C314.62 387.38 319.5 387.42 321 387.4" fill="none" stroke="#7A2C2C" stroke-width="1.3" stroke-linejoin="round" stroke-linecap="round"/>
<rect x="348.9" y="0" width="336.1" height="425.2" fill="#fff"/>
<rect x="348.9" y="0" width="336.1" height="1.2" fill="#222"/>
<rect x="684.4" y="0" width="0.6" height="425.2" fill="#444"/>
<line x1="348.9" y1="72" x2="684.4" y2="72" stroke="#e9e9e9" stroke-width="1.4"/>
<line x1="348.9" y1="143" x2="684.4" y2="143" stroke="#e9e9e9" stroke-width="1.4"/>
<line x1="348.9" y1="213.7" x2="684.4" y2="213.7" stroke="#e9e9e9" stroke-width="1.4"/>
<line x1="348.9" y1="284.5" x2="684.4" y2="284.5" stroke="#e9e9e9" stroke-width="1.4"/>
<line x1="348.9" y1="355.5" x2="684.4" y2="355.5" stroke="#e9e9e9" stroke-width="1.4"/>
<line x1="516.4" y1="1" x2="516.4" y2="355.5" stroke="#e9e9e9" stroke-width="1.2"/>
<line x1="443.7" y1="355.5" x2="443.7" y2="425" stroke="#e9e9e9" stroke-width="1.2"/>
<line x1="611.6" y1="355.5" x2="611.6" y2="425" stroke="#e9e9e9" stroke-width="1.2"/>
<text x="362.8" y="18.79" font-size="14.5" text-anchor="middle" fill="#000">(d)</text>
<text x="427.4" y="12.67" font-size="8.4" text-anchor="middle" fill="#000" textLength="62.3" lengthAdjust="spacingAndGlyphs">Chitosan (CS)</text>
<line x1="381.7" y1="19.9" x2="381.7" y2="64.75" stroke="#111" stroke-width="1.5"/>
<line x1="380.95" y1="64" x2="507.6" y2="64" stroke="#111" stroke-width="1.5"/>
<text x="374.8" y="36.41" font-size="6.7" text-anchor="end" fill="#000">0.2</text>
<text x="374.8" y="66.21" font-size="6.7" text-anchor="end" fill="#000">0</text>
<text transform="translate(358.8 39.7) rotate(-90)" x="0" y="2.28" font-size="6.9" text-anchor="middle" fill="#000" textLength="16.6" lengthAdjust="spacingAndGlyphs" style="stroke-width:0.3px">Wt%</text>
<text x="444.8" y="70.94" font-size="7.1" text-anchor="middle" fill="#000" textLength="27.4" lengthAdjust="spacingAndGlyphs">Elements</text>
<path d="M385.5 52.9C385.83 53.5 386.8 55.18 387.5 56.5C388.2 57.82 389.12 59.63 389.7 60.8C390.28 61.97 390.78 63.05 391 63.5" fill="none" stroke="#222" stroke-width="0.75" stroke-linejoin="round" stroke-linecap="round"/>
<path d="M387 64C387.42 63.5 388.67 61.8 389.5 61C390.33 60.2 391.15 59.63 392 59.2C392.85 58.77 393.68 58.43 394.6 58.4C395.52 58.37 396.52 58.53 397.5 59C398.48 59.47 399.58 60.37 400.5 61.2C401.42 62.03 402.58 63.53 403 64" fill="none" stroke="#222" stroke-width="0.75" stroke-linejoin="round" stroke-linecap="round"/>
<path d="M418.3 64C418.47 63.34 418.95 62.52 419.34 60.04C419.73 57.56 420.21 52.89 420.64 49.15C421.07 45.41 421.57 40.4 421.94 37.6C422.31 34.79 422.62 33.42 422.88 32.32C423.14 31.22 423.29 31 423.5 31C423.71 31 423.86 31.22 424.12 32.32C424.38 33.42 424.69 34.79 425.06 37.6C425.43 40.4 425.93 45.41 426.36 49.15C426.79 52.89 427.27 57.56 427.66 60.04C428.05 62.52 428.53 63.34 428.7 64" fill="none" stroke="#222" stroke-width="0.75" stroke-linejoin="round" stroke-linecap="round"/>
<path d="M434.7 64C434.89 63.6 435.4 63.11 435.82 61.62C436.24 60.14 436.75 57.33 437.22 55.09C437.69 52.85 438.22 49.84 438.62 48.16C439.02 46.48 439.35 45.65 439.63 44.99C439.91 44.33 440.08 44.2 440.3 44.2C440.52 44.2 440.69 44.33 440.97 44.99C441.25 45.65 441.58 46.48 441.98 48.16C442.38 49.84 442.91 52.85 443.38 55.09C443.85 57.33 444.36 60.14 444.78 61.62C445.2 63.11 445.71 63.6 445.9 64" fill="none" stroke="#222" stroke-width="0.75" stroke-linejoin="round" stroke-linecap="round"/>
<path d="M447.8 64C447.97 63.62 448.45 63.15 448.84 61.74C449.23 60.33 449.71 57.67 450.14 55.54C450.57 53.41 451.07 50.56 451.44 48.96C451.81 47.36 452.12 46.58 452.38 45.95C452.64 45.33 452.79 45.2 453 45.2C453.21 45.2 453.36 45.33 453.62 45.95C453.88 46.58 454.19 47.36 454.56 48.96C454.93 50.56 455.43 53.41 455.86 55.54C456.29 57.67 456.77 60.33 457.16 61.74C457.55 63.15 458.03 63.62 458.2 64" fill="none" stroke="#222" stroke-width="0.75" stroke-linejoin="round" stroke-linecap="round"/>
<path d="M457.7 64C457.84 63.84 458.22 63.63 458.54 63.02C458.85 62.4 459.24 61.24 459.59 60.31C459.94 59.38 460.34 58.14 460.64 57.44C460.94 56.74 461.19 56.4 461.4 56.13C461.61 55.85 461.73 55.8 461.9 55.8C462.07 55.8 462.19 55.85 462.4 56.13C462.61 56.4 462.86 56.74 463.16 57.44C463.46 58.14 463.86 59.38 464.21 60.31C464.56 61.24 464.94 62.4 465.26 63.02C465.57 63.63 465.96 63.84 466.1 64" fill="none" stroke="#222" stroke-width="0.75" stroke-linejoin="round" stroke-linecap="round"/>
<path d="M470.2 64C470.33 63.9 470.69 63.78 470.98 63.41C471.27 63.04 471.63 62.35 471.96 61.8C472.28 61.24 472.65 60.5 472.93 60.08C473.21 59.66 473.44 59.46 473.63 59.3C473.83 59.13 473.94 59.1 474.1 59.1C474.26 59.1 474.37 59.13 474.57 59.3C474.76 59.46 474.99 59.66 475.27 60.08C475.55 60.5 475.92 61.24 476.25 61.8C476.57 62.35 476.93 63.04 477.22 63.41C477.51 63.78 477.87 63.9 478 64" fill="none" stroke="#222" stroke-width="0.75" stroke-linejoin="round" stroke-linecap="round"/>
<path d="M479 64C479.42 63.58 480.58 62.17 481.5 61.5C482.42 60.83 483.5 60.15 484.5 60C485.5 59.85 486.55 59.93 487.5 60.6C488.45 61.27 489.75 63.43 490.2 64" fill="none" stroke="#222" stroke-width="0.75" stroke-linejoin="round" stroke-linecap="round"/>
<text x="386.2" y="63.11" font-size="7" text-anchor="middle" fill="#000">Ba</text>
<text x="395.9" y="56.21" font-size="7" text-anchor="middle" fill="#000">Bi</text>
<text x="423.7" y="30.11" font-size="7" text-anchor="middle" fill="#000">P</text>
<text x="431.4" y="56.41" font-size="7" text-anchor="middle" fill="#000">Na</text>
<text x="440.5" y="42.51" font-size="7" text-anchor="middle" fill="#000">I</text>
<text x="453" y="42.71" font-size="7" text-anchor="middle" fill="#000">Si</text>
<text x="462.9" y="52.71" font-size="7" text-anchor="middle" fill="#000">Re</text>
<text x="474.1" y="56.91" font-size="7" text-anchor="middle" fill="#000">La</text>
<text x="487.2" y="55.61" font-size="7" text-anchor="middle" fill="#000">Fe</text>
<text x="599.6" y="11.07" font-size="8.4" text-anchor="middle" fill="#000" textLength="112" lengthAdjust="spacingAndGlyphs">Carboxy chitosan (C.CS)</text>
<line x1="551.7" y1="21" x2="551.7" y2="64.75" stroke="#111" stroke-width="1.5"/>
<line x1="550.95" y1="64" x2="685" y2="64" stroke="#111" stroke-width="1.5"/>
<text x="544.8" y="23.81" font-size="6.7" text-anchor="end" fill="#000">0.1</text>
<text x="544.8" y="45.11" font-size="6.7" text-anchor="end" fill="#000">0.05</text>
<text x="544.8" y="66.71" font-size="6.7" text-anchor="end" fill="#000">0</text>
<text transform="translate(528.1 42.2) rotate(-90)" x="0" y="2.28" font-size="6.9" text-anchor="middle" fill="#000" textLength="16.6" lengthAdjust="spacingAndGlyphs" style="stroke-width:0.3px">Wt%</text>
<text x="618" y="70.97" font-size="7.5" text-anchor="middle" fill="#000" textLength="28.6" lengthAdjust="spacingAndGlyphs">Elements</text>
<path d="M552.2 22.6C553 22.8 555.43 23.27 557 23.8C558.57 24.33 560.33 25 561.6 25.8C562.87 26.6 563.68 27.47 564.6 28.6C565.52 29.73 566.27 30.62 567.1 32.6C567.93 34.58 568.77 37.7 569.6 40.5C570.43 43.3 571.32 47.02 572.1 49.4C572.88 51.78 573.55 53.5 574.3 54.8C575.05 56.1 576.22 56.8 576.6 57.2" fill="none" stroke="#1a1a1a" stroke-width="1.1" stroke-linejoin="round" stroke-linecap="round"/>
<path d="M576.6 57.2C576.71 57.12 577.06 56.91 577.28 56.69C577.51 56.48 577.74 56.19 577.97 55.91C578.19 55.63 578.42 55.32 578.65 55.01C578.88 54.7 579.11 54.37 579.33 54.04C579.56 53.72 579.79 53.39 580.02 53.08C580.24 52.76 580.47 52.44 580.7 52.14C580.93 51.85 581.16 51.56 581.38 51.29C581.61 51.02 581.84 50.77 582.07 50.54C582.29 50.31 582.52 50.1 582.75 49.93C582.98 49.75 583.21 49.6 583.43 49.47C583.66 49.35 583.89 49.26 584.12 49.19C584.34 49.13 584.58 49.09 584.8 49.1C585.02 49.11 585.24 49.16 585.46 49.28C585.68 49.39 585.9 49.57 586.12 49.8C586.34 50.02 586.56 50.31 586.77 50.64C586.99 50.97 587.21 51.36 587.43 51.78C587.65 52.21 587.87 52.68 588.09 53.18C588.31 53.68 588.53 54.22 588.75 54.78C588.97 55.33 589.19 55.92 589.41 56.51C589.63 57.1 589.85 57.72 590.07 58.32C590.29 58.92 590.51 59.53 590.73 60.11C590.94 60.69 591.16 61.27 591.38 61.8C591.6 62.32 591.82 62.85 592.04 63.25C592.26 63.65 592.47 64.3 592.7 64.2C592.93 64.1 593.17 63.31 593.4 62.66C593.63 62.01 593.87 61.15 594.1 60.3C594.33 59.45 594.57 58.51 594.8 57.57C595.03 56.62 595.27 55.63 595.5 54.66C595.73 53.68 595.97 52.68 596.2 51.73C596.43 50.77 596.67 49.81 596.9 48.91C597.13 48.01 597.37 47.13 597.6 46.32C597.83 45.51 598.07 44.74 598.3 44.05C598.53 43.37 598.77 42.74 599 42.2C599.23 41.66 599.47 41.2 599.7 40.83C599.93 40.46 600.17 40.17 600.4 39.98C600.63 39.8 600.87 39.7 601.1 39.7C601.33 39.7 601.56 39.8 601.78 39.98C602.01 40.17 602.24 40.46 602.47 40.83C602.69 41.2 602.92 41.66 603.15 42.2C603.38 42.74 603.61 43.37 603.83 44.05C604.06 44.74 604.29 45.51 604.52 46.32C604.74 47.13 604.97 48.01 605.2 48.91C605.43 49.81 605.66 50.77 605.88 51.73C606.11 52.68 606.34 53.68 606.57 54.66C606.79 55.63 607.02 56.62 607.25 57.57C607.48 58.51 607.71 59.45 607.93 60.3C608.16 61.15 608.39 62.01 608.62 62.66C608.84 63.31 608.98 64.32 609.3 64.2C609.62 64.08 610.13 62.91 610.54 61.96C610.96 61.01 611.37 59.76 611.78 58.52C612.2 57.28 612.61 55.9 613.02 54.53C613.44 53.16 613.85 51.71 614.27 50.29C614.68 48.87 615.09 47.42 615.51 46.02C615.92 44.63 616.34 43.23 616.75 41.92C617.16 40.6 617.58 39.32 617.99 38.14C618.41 36.96 618.82 35.84 619.23 34.84C619.65 33.84 620.06 32.93 620.48 32.14C620.89 31.36 621.3 30.68 621.72 30.14C622.13 29.61 622.54 29.19 622.96 28.91C623.37 28.64 623.74 28.5 624.2 28.5C624.66 28.5 625.19 28.64 625.69 28.91C626.19 29.19 626.69 29.61 627.18 30.14C627.68 30.68 628.18 31.36 628.68 32.14C629.17 32.93 629.67 33.84 630.17 34.84C630.66 35.84 631.16 36.96 631.66 38.14C632.16 39.32 632.65 40.6 633.15 41.92C633.65 43.23 634.14 44.63 634.64 46.02C635.14 47.42 635.64 48.87 636.13 50.29C636.63 51.71 637.13 53.16 637.62 54.53C638.12 55.9 638.62 57.28 639.12 58.52C639.61 59.76 640.11 61.01 640.61 61.96C641.11 62.91 641.69 63.92 642.1 64.2C642.51 64.48 642.76 63.88 643.09 63.64C643.42 63.41 643.75 63.09 644.08 62.78C644.41 62.48 644.74 62.13 645.08 61.79C645.41 61.45 645.74 61.09 646.07 60.73C646.4 60.38 646.73 60.02 647.06 59.67C647.39 59.32 647.72 58.97 648.05 58.64C648.38 58.32 648.71 58 649.04 57.7C649.37 57.41 649.7 57.13 650.03 56.88C650.36 56.63 650.69 56.4 651.02 56.21C651.36 56.01 651.69 55.84 652.02 55.71C652.35 55.58 652.68 55.47 653.01 55.4C653.34 55.34 653.66 55.3 654 55.3C654.34 55.3 654.72 55.33 655.08 55.4C655.43 55.47 655.79 55.57 656.15 55.7C656.51 55.83 656.87 56 657.23 56.19C657.58 56.38 657.94 56.6 658.3 56.85C658.66 57.09 659.02 57.36 659.38 57.65C659.73 57.94 660.09 58.25 660.45 58.57C660.81 58.89 661.17 59.23 661.52 59.57C661.88 59.91 662.24 60.27 662.6 60.61C662.96 60.96 663.32 61.31 663.67 61.64C664.03 61.98 664.39 62.31 664.75 62.62C665.11 62.92 665.47 63.22 665.82 63.45C666.18 63.69 666.72 63.91 666.9 64" fill="none" stroke="#1a1a1a" stroke-width="1.1" stroke-linejoin="round" stroke-linecap="round"/>
<text x="558.4" y="26.31" font-size="8.2" text-anchor="middle" fill="#000">Ba</text>
<text x="575" y="63.51" font-size="8.2" text-anchor="middle" fill="#000">I</text>
<text x="587" y="47.41" font-size="8.2" text-anchor="middle" fill="#000">La</text>
<text x="602.6" y="41.91" font-size="8.2" text-anchor="middle" fill="#000">Na</text>
<text x="625.4" y="30.51" font-size="8.2" text-anchor="middle" fill="#000">Re</text>
<text x="655.2" y="52.31" font-size="8.2" text-anchor="middle" fill="#000">Ta</text>
<text x="431.1" y="86.87" font-size="9.9" text-anchor="middle" fill="#000">Iv</text>
<line x1="370.3" y1="80.4" x2="370.3" y2="135.25" stroke="#111" stroke-width="1.5"/>
<line x1="369.55" y1="134.5" x2="510" y2="134.5" stroke="#111" stroke-width="1.5"/>
<text x="364.9" y="82.91" font-size="6.7" text-anchor="end" fill="#000">0.6</text>
<text x="364.9" y="100.71" font-size="6.7" text-anchor="end" fill="#000">0.4</text>
<text x="364.9" y="118.91" font-size="6.7" text-anchor="end" fill="#000">0.2</text>
<text x="364.9" y="136.71" font-size="6.7" text-anchor="end" fill="#000">0</text>
<text transform="translate(353.1 107.7) rotate(-90)" x="0" y="2.28" font-size="6.9" text-anchor="middle" fill="#000" textLength="16.6" lengthAdjust="spacingAndGlyphs" style="stroke-width:0.3px">Wt%</text>
<text x="440.5" y="140.58" font-size="7.5" text-anchor="middle" fill="#000" textLength="28.6" lengthAdjust="spacingAndGlyphs">Elements</text>
<path d="M379.8 132.6C379.92 132.4 380.29 131.78 380.53 131.37C380.78 130.97 381.02 130.56 381.27 130.17C381.51 129.77 381.76 129.38 382 129C382.24 128.62 382.49 128.25 382.73 127.9C382.98 127.55 383.22 127.2 383.47 126.88C383.71 126.55 383.96 126.24 384.2 125.95C384.44 125.66 384.69 125.39 384.93 125.14C385.18 124.89 385.42 124.66 385.67 124.46C385.91 124.25 386.16 124.07 386.4 123.92C386.64 123.76 386.89 123.63 387.13 123.52C387.38 123.41 387.62 123.33 387.87 123.28C388.11 123.23 388.36 123.19 388.6 123.2C388.84 123.21 389.06 123.25 389.28 123.36C389.51 123.46 389.74 123.63 389.97 123.83C390.19 124.03 390.42 124.29 390.65 124.59C390.88 124.88 391.11 125.22 391.33 125.59C391.56 125.95 391.79 126.36 392.02 126.78C392.24 127.2 392.47 127.65 392.7 128.1C392.93 128.55 393.16 129.02 393.38 129.47C393.61 129.92 393.84 130.38 394.07 130.81C394.29 131.24 394.52 131.67 394.75 132.05C394.98 132.43 395.21 132.79 395.43 133.09C395.66 133.4 395.89 133.67 396.12 133.85C396.34 134.04 396.54 134.31 396.8 134.2C397.06 134.09 397.39 133.74 397.69 133.22C397.99 132.7 398.29 131.92 398.58 131.06C398.88 130.21 399.18 129.18 399.48 128.1C399.77 127.03 400.07 125.82 400.37 124.6C400.66 123.38 400.96 122.07 401.26 120.78C401.56 119.5 401.85 118.16 402.15 116.89C402.45 115.62 402.74 114.34 403.04 113.15C403.34 111.96 403.64 110.8 403.93 109.77C404.23 108.73 404.53 107.76 404.82 106.93C405.12 106.1 405.42 105.37 405.72 104.79C406.01 104.21 406.31 103.75 406.61 103.45C406.91 103.15 407.22 103 407.5 103C407.78 103 408.03 103.15 408.29 103.45C408.56 103.75 408.82 104.21 409.08 104.79C409.35 105.37 409.61 106.1 409.88 106.93C410.14 107.76 410.4 108.73 410.67 109.77C410.93 110.8 411.19 111.96 411.46 113.15C411.72 114.34 411.99 115.62 412.25 116.89C412.51 118.16 412.78 119.5 413.04 120.78C413.31 122.07 413.57 123.38 413.83 124.6C414.1 125.82 414.36 127.03 414.62 128.1C414.89 129.18 415.15 130.21 415.42 131.06C415.68 131.92 415.94 132.7 416.21 133.22C416.47 133.74 416.74 134.22 417 134.2C417.26 134.18 417.52 133.7 417.78 133.12C418.04 132.54 418.31 131.68 418.57 130.74C418.83 129.8 419.09 128.67 419.35 127.48C419.61 126.29 419.87 124.96 420.13 123.61C420.39 122.27 420.66 120.82 420.92 119.4C421.18 117.99 421.44 116.52 421.7 115.12C421.96 113.71 422.22 112.3 422.48 110.99C422.74 109.68 423.01 108.41 423.27 107.26C423.53 106.12 423.79 105.05 424.05 104.13C424.31 103.22 424.57 102.41 424.83 101.77C425.09 101.13 425.36 100.63 425.62 100.3C425.88 99.97 426.11 99.81 426.4 99.8C426.69 99.79 427.03 99.95 427.35 100.25C427.67 100.55 427.98 101.01 428.3 101.59C428.62 102.17 428.93 102.9 429.25 103.73C429.57 104.56 429.88 105.53 430.2 106.57C430.52 107.6 430.83 108.76 431.15 109.95C431.47 111.14 431.78 112.42 432.1 113.69C432.42 114.96 432.73 116.3 433.05 117.58C433.37 118.87 433.68 120.18 434 121.4C434.32 122.62 434.63 123.83 434.95 124.9C435.27 125.98 435.58 127.01 435.9 127.86C436.22 128.72 436.53 129.5 436.85 130.02C437.17 130.54 437.55 130.84 437.8 131C438.05 131.16 438.16 130.99 438.34 130.99C438.52 130.98 438.7 130.97 438.88 130.96C439.06 130.95 439.24 130.94 439.43 130.92C439.61 130.91 439.79 130.89 439.97 130.88C440.15 130.86 440.33 130.84 440.51 130.83C440.69 130.81 440.87 130.79 441.05 130.78C441.23 130.76 441.41 130.75 441.59 130.73C441.77 130.71 441.95 130.7 442.13 130.69C442.31 130.67 442.49 130.66 442.68 130.65C442.86 130.64 443.04 130.63 443.22 130.62C443.4 130.62 443.58 130.61 443.76 130.61C443.94 130.6 444.04 130.59 444.3 130.6C444.56 130.61 444.99 130.62 445.33 130.65C445.68 130.68 446.02 130.73 446.37 130.79C446.71 130.86 447.06 130.94 447.4 131.03C447.74 131.12 448.09 131.22 448.43 131.34C448.78 131.45 449.12 131.58 449.47 131.71C449.81 131.84 450.16 131.98 450.5 132.11C450.84 132.25 451.19 132.4 451.53 132.54C451.88 132.68 452.22 132.82 452.57 132.95C452.91 133.09 453.26 133.22 453.6 133.34C453.94 133.45 454.29 133.57 454.63 133.66C454.98 133.75 455.32 133.84 455.67 133.89C456.01 133.95 456.53 133.98 456.7 134" fill="none" stroke="#1a1a1a" stroke-width="1.1" stroke-linejoin="round" stroke-linecap="round"/>
<path d="M462.9 134C463.04 133.86 463.45 133.62 463.72 133.17C464 132.73 464.27 132.08 464.55 131.36C464.82 130.64 465.1 129.77 465.38 128.86C465.65 127.95 465.93 126.93 466.2 125.91C466.47 124.88 466.75 123.77 467.02 122.69C467.3 121.61 467.58 120.48 467.85 119.41C468.12 118.34 468.4 117.26 468.68 116.26C468.95 115.26 469.23 114.28 469.5 113.41C469.77 112.53 470.05 111.71 470.32 111.01C470.6 110.31 470.88 109.69 471.15 109.21C471.42 108.72 471.7 108.33 471.98 108.08C472.25 107.83 472.53 107.71 472.8 107.7C473.07 107.69 473.35 107.82 473.62 108.05C473.9 108.27 474.18 108.62 474.45 109.06C474.72 109.5 475 110.06 475.27 110.7C475.55 111.33 475.83 112.07 476.1 112.86C476.38 113.65 476.65 114.54 476.93 115.44C477.2 116.35 477.48 117.33 477.75 118.3C478.02 119.27 478.3 120.28 478.57 121.26C478.85 122.24 479.12 123.24 479.4 124.17C479.67 125.11 479.95 126.03 480.23 126.85C480.5 127.67 480.78 128.46 481.05 129.11C481.32 129.76 481.6 130.35 481.88 130.75C482.15 131.15 482.42 131.47 482.7 131.5C482.98 131.53 483.26 131.24 483.54 130.95C483.82 130.66 484.1 130.22 484.38 129.74C484.66 129.26 484.94 128.69 485.23 128.08C485.51 127.48 485.79 126.8 486.07 126.11C486.35 125.43 486.63 124.69 486.91 123.97C487.19 123.25 487.47 122.5 487.75 121.79C488.03 121.08 488.31 120.36 488.59 119.69C488.87 119.03 489.15 118.38 489.43 117.8C489.71 117.21 489.99 116.67 490.27 116.2C490.56 115.74 490.84 115.33 491.12 115C491.4 114.68 491.68 114.42 491.96 114.25C492.24 114.09 492.66 114.04 492.8 114" fill="none" stroke="#1a1a1a" stroke-width="1.1" stroke-linejoin="round" stroke-linecap="round"/>
<text x="387.2" y="121.74" font-size="8.6" text-anchor="middle" fill="#000">Ba</text>
<text x="407.8" y="103.14" font-size="8.6" text-anchor="middle" fill="#000">Ca</text>
<text x="426.2" y="98.94" font-size="8.6" text-anchor="middle" fill="#000">K</text>
<text x="449.2" y="133.64" font-size="8.6" text-anchor="middle" fill="#000">La</text>
<text x="473.3" y="106.34" font-size="8.6" text-anchor="middle" fill="#000">P</text>
<text x="491.4" y="115.04" font-size="8.6" text-anchor="middle" fill="#000">S</text>
<text x="599.9" y="86.97" font-size="10.2" text-anchor="middle" fill="#000">Iv-CS</text>
<line x1="549.7" y1="97.8" x2="549.7" y2="125.35" stroke="#111" stroke-width="1.5"/>
<line x1="548.95" y1="124.6" x2="675.8" y2="124.6" stroke="#111" stroke-width="1.5"/>
<text x="544.3" y="100.01" font-size="6.7" text-anchor="end" fill="#000">0.5</text>
<text x="544.3" y="127.31" font-size="6.7" text-anchor="end" fill="#000">0</text>
<text transform="translate(530.1 111) rotate(-90)" x="0" y="2.28" font-size="6.9" text-anchor="middle" fill="#000" textLength="16.6" lengthAdjust="spacingAndGlyphs" style="stroke-width:0.3px">Wt%</text>
<text x="612.5" y="133.08" font-size="7.5" text-anchor="middle" fill="#000" textLength="28.6" lengthAdjust="spacingAndGlyphs">Elements</text>
<path d="M558.4 115.9C558.5 115.7 558.82 115.08 559.02 114.67C559.23 114.27 559.44 113.86 559.65 113.47C559.86 113.07 560.07 112.68 560.27 112.3C560.48 111.92 560.69 111.55 560.9 111.2C561.11 110.85 561.32 110.5 561.52 110.18C561.73 109.85 561.94 109.54 562.15 109.25C562.36 108.96 562.57 108.69 562.77 108.44C562.98 108.19 563.19 107.96 563.4 107.76C563.61 107.55 563.82 107.37 564.02 107.22C564.23 107.06 564.44 106.93 564.65 106.82C564.86 106.71 565.07 106.63 565.27 106.58C565.48 106.53 565.67 106.47 565.9 106.5C566.13 106.53 566.39 106.59 566.64 106.76C566.89 106.94 567.14 107.2 567.38 107.54C567.63 107.87 567.88 108.3 568.12 108.78C568.37 109.26 568.62 109.82 568.87 110.43C569.11 111.03 569.36 111.7 569.61 112.39C569.86 113.08 570.1 113.82 570.35 114.56C570.6 115.3 570.84 116.07 571.09 116.82C571.34 117.56 571.59 118.32 571.83 119.03C572.08 119.74 572.33 120.44 572.57 121.06C572.82 121.69 573.07 122.29 573.32 122.78C573.56 123.28 573.81 123.73 574.06 124.03C574.31 124.34 574.68 124.51 574.8 124.6" fill="none" stroke="#1a1a1a" stroke-width="1.1" stroke-linejoin="round" stroke-linecap="round"/>
<path d="M583.2 124.6C583.32 124.55 583.68 124.47 583.93 124.31C584.17 124.16 584.41 123.93 584.65 123.68C584.89 123.42 585.13 123.12 585.38 122.8C585.62 122.48 585.86 122.13 586.1 121.77C586.34 121.41 586.58 121.02 586.83 120.64C587.07 120.26 587.31 119.87 587.55 119.5C587.79 119.12 588.03 118.74 588.27 118.39C588.52 118.04 588.76 117.7 589 117.4C589.24 117.09 589.48 116.8 589.73 116.56C589.97 116.31 590.21 116.1 590.45 115.93C590.69 115.76 590.93 115.62 591.17 115.53C591.42 115.45 591.62 115.41 591.9 115.4C592.18 115.39 592.54 115.43 592.87 115.5C593.19 115.57 593.51 115.67 593.83 115.79C594.16 115.92 594.48 116.09 594.8 116.27C595.12 116.45 595.44 116.67 595.77 116.9C596.09 117.13 596.41 117.38 596.73 117.64C597.06 117.91 597.38 118.19 597.7 118.47C598.02 118.75 598.34 119.05 598.67 119.33C598.99 119.62 599.31 119.91 599.63 120.18C599.96 120.45 600.28 120.71 600.6 120.95C600.92 121.19 601.24 121.42 601.57 121.61C601.89 121.8 602.21 121.97 602.53 122.08C602.86 122.2 603.29 122.26 603.5 122.3C603.71 122.34 603.69 122.3 603.79 122.3C603.89 122.31 603.99 122.31 604.08 122.32C604.18 122.32 604.28 122.33 604.38 122.34C604.47 122.35 604.57 122.36 604.67 122.37C604.76 122.38 604.86 122.39 604.96 122.4C605.06 122.41 605.15 122.42 605.25 122.43C605.35 122.45 605.44 122.46 605.54 122.47C605.64 122.48 605.74 122.5 605.83 122.51C605.93 122.52 606.03 122.53 606.12 122.54C606.22 122.55 606.32 122.56 606.42 122.57C606.51 122.58 606.61 122.59 606.71 122.59C606.81 122.6 606.89 122.59 607 122.6C607.11 122.61 607.25 122.61 607.38 122.63C607.5 122.65 607.62 122.68 607.75 122.71C607.88 122.75 608 122.8 608.12 122.85C608.25 122.91 608.38 122.97 608.5 123.03C608.62 123.1 608.75 123.17 608.88 123.25C609 123.33 609.12 123.41 609.25 123.49C609.38 123.57 609.5 123.66 609.62 123.74C609.75 123.82 609.88 123.91 610 123.98C610.12 124.06 610.25 124.14 610.38 124.21C610.5 124.28 610.62 124.34 610.75 124.4C610.88 124.45 611 124.5 611.12 124.54C611.25 124.57 611.44 124.59 611.5 124.6" fill="none" stroke="#1a1a1a" stroke-width="1.1" stroke-linejoin="round" stroke-linecap="round"/>
<path d="M616.7 124.6C616.82 124.5 617.18 124.33 617.43 124.02C617.67 123.7 617.91 123.24 618.15 122.73C618.39 122.22 618.63 121.61 618.88 120.97C619.12 120.32 619.36 119.6 619.6 118.88C619.84 118.15 620.08 117.37 620.33 116.6C620.57 115.83 620.81 115.04 621.05 114.28C621.29 113.52 621.53 112.76 621.77 112.05C622.02 111.34 622.26 110.65 622.5 110.03C622.74 109.42 622.98 108.84 623.23 108.34C623.47 107.85 623.71 107.41 623.95 107.06C624.19 106.72 624.43 106.45 624.67 106.27C624.92 106.09 625.16 106 625.4 106C625.64 106 625.89 106.09 626.14 106.26C626.39 106.44 626.64 106.7 626.88 107.04C627.13 107.38 627.38 107.81 627.62 108.29C627.87 108.78 628.12 109.34 628.37 109.95C628.61 110.55 628.86 111.23 629.11 111.92C629.36 112.61 629.6 113.36 629.85 114.1C630.1 114.84 630.34 115.62 630.59 116.37C630.84 117.12 631.09 117.89 631.33 118.6C631.58 119.31 631.83 120.02 632.07 120.64C632.32 121.27 632.57 121.87 632.82 122.37C633.06 122.87 633.31 123.32 633.56 123.63C633.81 123.93 634.07 124.13 634.3 124.2C634.53 124.27 634.73 124.13 634.94 124.06C635.16 123.98 635.37 123.86 635.58 123.74C635.8 123.61 636.01 123.46 636.22 123.3C636.44 123.14 636.65 122.96 636.87 122.78C637.08 122.6 637.29 122.41 637.51 122.22C637.72 122.03 637.94 121.84 638.15 121.65C638.36 121.46 638.58 121.27 638.79 121.1C639.01 120.92 639.22 120.75 639.43 120.6C639.65 120.44 639.86 120.3 640.08 120.18C640.29 120.06 640.5 119.95 640.72 119.86C640.93 119.78 641.14 119.71 641.36 119.67C641.57 119.62 641.79 119.6 642 119.6C642.21 119.6 642.42 119.62 642.62 119.67C642.83 119.72 643.04 119.79 643.25 119.89C643.46 119.98 643.67 120.1 643.88 120.23C644.08 120.36 644.29 120.52 644.5 120.68C644.71 120.85 644.92 121.04 645.12 121.23C645.33 121.42 645.54 121.62 645.75 121.83C645.96 122.03 646.17 122.24 646.38 122.45C646.58 122.66 646.79 122.87 647 123.06C647.21 123.26 647.42 123.45 647.62 123.62C647.83 123.8 648.04 123.96 648.25 124.1C648.46 124.23 648.67 124.36 648.88 124.44C649.08 124.53 649.4 124.57 649.5 124.6" fill="none" stroke="#1a1a1a" stroke-width="1.1" stroke-linejoin="round" stroke-linecap="round"/>
<text x="557.2" y="122.44" font-size="8.6" text-anchor="middle" fill="#000">Ba</text>
<text x="566.4" y="104.64" font-size="8.6" text-anchor="middle" fill="#000">Ca</text>
<text x="592.4" y="113.24" font-size="8.6" text-anchor="middle" fill="#000">K</text>
<text x="626.2" y="103.84" font-size="8.6" text-anchor="middle" fill="#000">P</text>
<text x="642.3" y="118.04" font-size="8.6" text-anchor="middle" fill="#000">S</text>
<text x="431.4" y="157.73" font-size="10.1" text-anchor="middle" fill="#000">Iv-C.CS</text>
<line x1="381.7" y1="168.5" x2="381.7" y2="195.85" stroke="#111" stroke-width="1.5"/>
<line x1="380.95" y1="195.1" x2="507.6" y2="195.1" stroke="#111" stroke-width="1.5"/>
<text x="374.8" y="171.21" font-size="6.7" text-anchor="end" fill="#000">0.5</text>
<text x="374.8" y="197.51" font-size="6.7" text-anchor="end" fill="#000">0</text>
<text transform="translate(361.3 182.2) rotate(-90)" x="0" y="2.28" font-size="6.9" text-anchor="middle" fill="#000" textLength="16.6" lengthAdjust="spacingAndGlyphs" style="stroke-width:0.3px">Wt%</text>
<text x="444.3" y="203.58" font-size="7.5" text-anchor="middle" fill="#000" textLength="28.6" lengthAdjust="spacingAndGlyphs">Elements</text>
<path d="M387.7 195.1C387.86 194.73 388.34 193.61 388.67 192.87C388.99 192.13 389.31 191.39 389.63 190.67C389.96 189.96 390.28 189.24 390.6 188.56C390.92 187.87 391.24 187.19 391.57 186.55C391.89 185.91 392.21 185.28 392.53 184.69C392.86 184.1 393.18 183.53 393.5 183.01C393.82 182.48 394.14 181.99 394.47 181.53C394.79 181.08 395.11 180.66 395.43 180.29C395.76 179.92 396.08 179.59 396.4 179.3C396.72 179.02 397.04 178.78 397.37 178.58C397.69 178.39 398.01 178.24 398.33 178.15C398.66 178.05 399.04 177.98 399.3 178C399.56 178.02 399.71 178.08 399.91 178.25C400.11 178.41 400.31 178.66 400.52 178.98C400.72 179.3 400.92 179.7 401.12 180.15C401.33 180.61 401.53 181.14 401.73 181.71C401.94 182.28 402.14 182.91 402.34 183.56C402.54 184.21 402.75 184.92 402.95 185.61C403.15 186.31 403.36 187.04 403.56 187.75C403.76 188.45 403.96 189.17 404.17 189.84C404.37 190.51 404.57 191.17 404.78 191.76C404.98 192.35 405.18 192.91 405.38 193.38C405.59 193.85 405.79 194.28 405.99 194.56C406.19 194.85 406.5 195.01 406.6 195.1" fill="none" stroke="#1a1a1a" stroke-width="1.1" stroke-linejoin="round" stroke-linecap="round"/>
<path d="M410.8 195.1C410.91 195.05 411.24 194.97 411.46 194.81C411.68 194.66 411.9 194.43 412.12 194.18C412.34 193.92 412.56 193.62 412.77 193.3C412.99 192.98 413.21 192.63 413.43 192.27C413.65 191.91 413.87 191.52 414.09 191.14C414.31 190.76 414.53 190.37 414.75 190C414.97 189.62 415.19 189.24 415.41 188.89C415.63 188.54 415.85 188.2 416.07 187.9C416.29 187.59 416.51 187.3 416.73 187.06C416.94 186.81 417.16 186.6 417.38 186.43C417.6 186.26 417.82 186.12 418.04 186.03C418.26 185.95 418.38 185.9 418.7 185.9C419.02 185.9 419.52 185.95 419.93 186.03C420.34 186.12 420.76 186.26 421.17 186.43C421.58 186.6 421.99 186.81 422.4 187.06C422.81 187.3 423.22 187.59 423.63 187.9C424.04 188.2 424.46 188.54 424.87 188.89C425.28 189.24 425.69 189.62 426.1 190C426.51 190.37 426.92 190.76 427.33 191.14C427.74 191.52 428.16 191.91 428.57 192.27C428.98 192.63 429.39 192.98 429.8 193.3C430.21 193.62 430.62 193.92 431.03 194.18C431.44 194.43 431.86 194.66 432.27 194.81C432.68 194.97 433.29 195.05 433.5 195.1" fill="none" stroke="#1a1a1a" stroke-width="1.1" stroke-linejoin="round" stroke-linecap="round"/>
<path d="M438.1 195.1C438.19 194.99 438.47 194.79 438.66 194.44C438.84 194.08 439.03 193.56 439.22 192.98C439.4 192.4 439.59 191.71 439.78 190.98C439.96 190.25 440.15 189.43 440.33 188.61C440.52 187.78 440.71 186.89 440.89 186.03C441.08 185.16 441.26 184.25 441.45 183.39C441.64 182.53 441.82 181.67 442.01 180.86C442.19 180.06 442.38 179.28 442.57 178.58C442.75 177.88 442.94 177.22 443.12 176.66C443.31 176.1 443.5 175.6 443.68 175.21C443.87 174.82 444.06 174.51 444.24 174.31C444.43 174.1 444.61 174.01 444.8 174C444.99 173.99 445.2 174.09 445.4 174.27C445.6 174.44 445.8 174.71 446 175.05C446.2 175.39 446.4 175.82 446.6 176.3C446.8 176.79 447 177.36 447.2 177.97C447.4 178.58 447.6 179.26 447.8 179.95C448 180.65 448.2 181.4 448.4 182.15C448.6 182.89 448.8 183.68 449 184.43C449.2 185.18 449.4 185.95 449.6 186.67C449.8 187.38 450 188.09 450.2 188.72C450.4 189.36 450.6 189.96 450.8 190.46C451 190.96 451.2 191.42 451.4 191.73C451.6 192.03 451.83 192.22 452 192.3C452.17 192.38 452.26 192.24 452.39 192.18C452.52 192.11 452.65 192.01 452.78 191.91C452.91 191.8 453.04 191.67 453.18 191.54C453.31 191.4 453.44 191.25 453.57 191.1C453.7 190.95 453.83 190.78 453.96 190.62C454.09 190.46 454.22 190.3 454.35 190.14C454.48 189.98 454.61 189.82 454.74 189.67C454.87 189.52 455 189.38 455.13 189.25C455.26 189.12 455.39 188.99 455.52 188.89C455.66 188.79 455.79 188.7 455.92 188.62C456.05 188.55 456.18 188.49 456.31 188.46C456.44 188.42 456.54 188.39 456.7 188.4C456.86 188.41 457.06 188.43 457.24 188.5C457.42 188.56 457.6 188.66 457.78 188.78C457.96 188.91 458.14 189.07 458.32 189.24C458.51 189.42 458.69 189.63 458.87 189.85C459.05 190.08 459.23 190.32 459.41 190.58C459.59 190.83 459.77 191.11 459.95 191.38C460.13 191.66 460.31 191.94 460.49 192.22C460.67 192.49 460.85 192.78 461.03 193.04C461.21 193.3 461.39 193.56 461.57 193.79C461.76 194.02 461.94 194.24 462.12 194.43C462.3 194.61 462.48 194.78 462.66 194.89C462.84 195 463.11 195.06 463.2 195.1" fill="none" stroke="#1a1a1a" stroke-width="1.1" stroke-linejoin="round" stroke-linecap="round"/>
<text x="400.1" y="193.24" font-size="8.6" text-anchor="middle" fill="#000">Ca</text>
<text x="418.7" y="185.04" font-size="8.6" text-anchor="middle" fill="#000">K</text>
<text x="445.5" y="170.14" font-size="8.6" text-anchor="middle" fill="#000">P</text>
<text x="456" y="185.54" font-size="8.6" text-anchor="middle" fill="#000">S</text>
<text x="597.6" y="157.16" font-size="10.8" text-anchor="middle" fill="#000">Sc</text>
<line x1="549.7" y1="161.8" x2="549.7" y2="202.75" stroke="#111" stroke-width="1.5"/>
<line x1="548.95" y1="202" x2="675.8" y2="202" stroke="#111" stroke-width="1.5"/>
<text x="544.3" y="164.01" font-size="6.7" text-anchor="end" fill="#000">0.6</text>
<text x="544.3" y="177.71" font-size="6.7" text-anchor="end" fill="#000">0.4</text>
<text x="544.3" y="191.11" font-size="6.7" text-anchor="end" fill="#000">0.2</text>
<text x="544.3" y="204.21" font-size="6.7" text-anchor="end" fill="#000">0</text>
<text transform="translate(529.6 182.2) rotate(-90)" x="0" y="2.28" font-size="6.9" text-anchor="middle" fill="#000" textLength="16.6" lengthAdjust="spacingAndGlyphs" style="stroke-width:0.3px">Wt%</text>
<text x="612.5" y="210.28" font-size="7.5" text-anchor="middle" fill="#000" textLength="28.6" lengthAdjust="spacingAndGlyphs">Elements</text>
<path d="M553 202C553.42 201.63 554.6 200.28 555.5 199.8C556.4 199.32 557.4 199.12 558.4 199.1C559.4 199.08 560.57 199.38 561.5 199.7C562.43 200.02 563.17 200.92 564 201C564.83 201.08 565.67 200.03 566.5 200.2C567.33 200.37 568.58 201.7 569 202" fill="none" stroke="#222" stroke-width="0.75" stroke-linejoin="round" stroke-linecap="round"/>
<path d="M570.2 202C570.35 201.23 570.75 200.27 571.08 197.39C571.41 194.51 571.81 189.07 572.18 184.72C572.55 180.37 572.96 174.54 573.28 171.28C573.6 168.02 573.85 166.42 574.07 165.14C574.29 163.86 574.42 163.6 574.6 163.6C574.78 163.6 574.91 163.86 575.13 165.14C575.35 166.42 575.6 168.02 575.92 171.28C576.24 174.54 576.65 180.37 577.02 184.72C577.39 189.07 577.79 194.51 578.12 197.39C578.45 200.27 578.85 201.23 579 202" fill="none" stroke="#222" stroke-width="0.75" stroke-linejoin="round" stroke-linecap="round"/>
<path d="M580 202C580.08 201.97 580.31 201.94 580.5 201.83C580.69 201.73 580.92 201.53 581.12 201.37C581.33 201.21 581.57 201 581.75 200.88C581.93 200.76 582.08 200.7 582.2 200.66C582.33 200.61 582.4 200.6 582.5 200.6C582.6 200.6 582.67 200.61 582.8 200.66C582.92 200.7 583.07 200.76 583.25 200.88C583.43 201 583.67 201.21 583.88 201.37C584.08 201.53 584.31 201.73 584.5 201.83C584.69 201.94 584.92 201.97 585 202" fill="none" stroke="#222" stroke-width="0.75" stroke-linejoin="round" stroke-linecap="round"/>
<path d="M588.5 202C588.61 201.93 588.92 201.83 589.18 201.56C589.43 201.28 589.75 200.75 590.03 200.34C590.31 199.92 590.64 199.35 590.88 199.04C591.12 198.73 591.32 198.57 591.49 198.45C591.66 198.32 591.76 198.3 591.9 198.3C592.04 198.3 592.14 198.32 592.31 198.45C592.48 198.57 592.68 198.73 592.92 199.04C593.16 199.35 593.49 199.92 593.77 200.34C594.05 200.75 594.37 201.28 594.62 201.56C594.88 201.83 595.19 201.93 595.3 202" fill="none" stroke="#222" stroke-width="0.75" stroke-linejoin="round" stroke-linecap="round"/>
<path d="M608.3 202C608.44 201.68 608.82 201.28 609.14 200.07C609.46 198.86 609.84 196.58 610.19 194.75C610.54 192.93 610.94 190.49 611.24 189.12C611.54 187.75 611.79 187.08 612 186.54C612.21 186.01 612.33 185.9 612.5 185.9C612.67 185.9 612.79 186.01 613 186.54C613.21 187.08 613.46 187.75 613.76 189.12C614.06 190.49 614.46 192.93 614.81 194.75C615.16 196.58 615.54 198.86 615.86 200.07C616.18 201.28 616.56 201.68 616.7 202" fill="none" stroke="#222" stroke-width="0.75" stroke-linejoin="round" stroke-linecap="round"/>
<path d="M620.5 202C620.92 201.42 622.18 199.43 623 198.5C623.82 197.57 624.57 196.48 625.4 196.4C626.23 196.32 626.97 197.07 628 198C629.03 198.93 631 201.33 631.6 202" fill="none" stroke="#222" stroke-width="0.75" stroke-linejoin="round" stroke-linecap="round"/>
<path d="M634.8 202C634.9 201.97 635.17 201.92 635.4 201.8C635.62 201.67 635.9 201.43 636.15 201.24C636.4 201.04 636.68 200.78 636.9 200.64C637.12 200.5 637.29 200.42 637.44 200.37C637.59 200.31 637.68 200.3 637.8 200.3C637.92 200.3 638.01 200.31 638.16 200.37C638.31 200.42 638.48 200.5 638.7 200.64C638.91 200.78 639.2 201.04 639.45 201.24C639.7 201.43 639.97 201.67 640.2 201.8C640.42 201.92 640.7 201.97 640.8 202" fill="none" stroke="#222" stroke-width="0.75" stroke-linejoin="round" stroke-linecap="round"/>
<path d="M659.6 202C659.7 201.97 659.98 201.92 660.2 201.8C660.43 201.67 660.7 201.43 660.95 201.24C661.2 201.04 661.49 200.78 661.7 200.64C661.92 200.5 662.09 200.42 662.24 200.37C662.39 200.31 662.48 200.3 662.6 200.3C662.72 200.3 662.81 200.31 662.96 200.37C663.11 200.42 663.28 200.5 663.5 200.64C663.72 200.78 664 201.04 664.25 201.24C664.5 201.43 664.77 201.67 665 201.8C665.23 201.92 665.5 201.97 665.6 202" fill="none" stroke="#222" stroke-width="0.75" stroke-linejoin="round" stroke-linecap="round"/>
<text x="555.4" y="196.91" font-size="7" text-anchor="middle" fill="#000">Ba</text>
<text x="565.9" y="199.41" font-size="7" text-anchor="middle" fill="#000">Ca</text>
<text x="576.3" y="165.41" font-size="7" text-anchor="middle" fill="#000">K</text>
<text x="582" y="201.11" font-size="7" text-anchor="middle" fill="#000">S</text>
<text x="593.2" y="196.41" font-size="7" text-anchor="middle" fill="#000">P</text>
<text x="611.8" y="185.71" font-size="7" text-anchor="middle" fill="#000">In</text>
<text x="624.9" y="195.61" font-size="7" text-anchor="middle" fill="#000">Sb</text>
<text x="641.6" y="199.41" font-size="7" text-anchor="middle" fill="#000">Mg</text>
<text x="663.9" y="199.41" font-size="7" text-anchor="middle" fill="#000">Pr</text>
<text x="438.6" y="226.79" font-size="11.8" text-anchor="middle" fill="#000">Sc-CS</text>
<line x1="381.7" y1="236.8" x2="381.7" y2="269.05" stroke="#111" stroke-width="1.5"/>
<line x1="380.95" y1="268.3" x2="510" y2="268.3" stroke="#111" stroke-width="1.5"/>
<text x="376" y="249.91" font-size="6.7" text-anchor="end" fill="#000">0.2</text>
<text x="376" y="270.51" font-size="6.7" text-anchor="end" fill="#000">0</text>
<text transform="translate(361.3 252.9) rotate(-90)" x="0" y="2.28" font-size="6.9" text-anchor="middle" fill="#000" textLength="16.6" lengthAdjust="spacingAndGlyphs" style="stroke-width:0.3px">Wt%</text>
<text x="446" y="276.08" font-size="7.5" text-anchor="middle" fill="#000" textLength="28.6" lengthAdjust="spacingAndGlyphs">Elements</text>
<path d="M387.2 267.8C387.58 267 388.68 264.23 389.5 263C390.32 261.77 391.18 260.63 392.1 260.4C393.02 260.17 393.95 260.98 395 261.6C396.05 262.22 396.8 263.07 398.4 264.1C400 265.13 403.57 267.18 404.6 267.8" fill="none" stroke="#222" stroke-width="0.75" stroke-linejoin="round" stroke-linecap="round"/>
<path d="M407.1 268.3C407.28 267.69 407.78 266.94 408.18 264.66C408.58 262.39 409.08 258.1 409.53 254.67C409.98 251.23 410.49 246.64 410.88 244.06C411.27 241.48 411.58 240.22 411.85 239.21C412.12 238.2 412.28 238 412.5 238C412.72 238 412.88 238.2 413.15 239.21C413.42 240.22 413.73 241.48 414.12 244.06C414.51 246.64 415.02 251.23 415.47 254.67C415.92 258.1 416.42 262.39 416.82 264.66C417.22 266.94 417.72 267.69 417.9 268.3" fill="none" stroke="#222" stroke-width="0.75" stroke-linejoin="round" stroke-linecap="round"/>
<path d="M420.7 268.3C420.81 268.24 421.1 268.16 421.34 267.92C421.58 267.68 421.87 267.22 422.14 266.86C422.41 266.5 422.71 266.01 422.94 265.74C423.17 265.47 423.36 265.33 423.52 265.23C423.68 265.12 423.77 265.1 423.9 265.1C424.03 265.1 424.12 265.12 424.28 265.23C424.44 265.33 424.63 265.47 424.86 265.74C425.09 266.01 425.39 266.5 425.66 266.86C425.93 267.22 426.22 267.68 426.46 267.92C426.7 268.16 426.99 268.24 427.1 268.3" fill="none" stroke="#222" stroke-width="0.75" stroke-linejoin="round" stroke-linecap="round"/>
<path d="M432.4 267.8C432.83 266 434.05 260.13 435 257C435.95 253.87 437.1 249.58 438.1 249C439.1 248.42 439.97 251.52 441 253.5C442.03 255.48 443.05 258.95 444.3 260.9C445.55 262.85 447.05 264.05 448.5 265.2C449.95 266.35 452.25 267.37 453 267.8" fill="none" stroke="#222" stroke-width="0.75" stroke-linejoin="round" stroke-linecap="round"/>
<path d="M475.3 268C475.72 267.17 476.97 264.27 477.8 263C478.63 261.73 479.27 260.6 480.3 260.4C481.33 260.2 482.57 260.53 484 261.8C485.43 263.07 488.08 266.97 488.9 268" fill="none" stroke="#222" stroke-width="0.75" stroke-linejoin="round" stroke-linecap="round"/>
<path d="M493.9 268C494.33 267.5 495.58 265.77 496.5 265C497.42 264.23 498.48 263.43 499.4 263.4C500.32 263.37 501.05 264.03 502 264.8C502.95 265.57 504.58 267.47 505.1 268" fill="none" stroke="#222" stroke-width="0.75" stroke-linejoin="round" stroke-linecap="round"/>
<path d="M506 268C506.33 267.87 507.33 267.53 508 267.2C508.67 266.87 509.67 266.2 510 266" fill="none" stroke="#222" stroke-width="0.75" stroke-linejoin="round" stroke-linecap="round"/>
<text x="394.6" y="258.21" font-size="7" text-anchor="middle" fill="#000">Ba</text>
<text x="413.3" y="233.41" font-size="7" text-anchor="middle" fill="#000">K</text>
<text x="423.9" y="263.91" font-size="7" text-anchor="middle" fill="#000">S</text>
<text x="439.8" y="247.01" font-size="7" text-anchor="middle" fill="#000">P</text>
<text x="481.5" y="258.71" font-size="7" text-anchor="middle" fill="#000">Re</text>
<text x="498.1" y="261.91" font-size="7" text-anchor="middle" fill="#000">Nb</text>
<text x="599.4" y="228.23" font-size="10.1" text-anchor="middle" fill="#000">Sc-C.CS</text>
<line x1="548" y1="239" x2="548" y2="266.05" stroke="#111" stroke-width="1.5"/>
<line x1="540" y1="265.3" x2="675.8" y2="265.3" stroke="#111" stroke-width="1.5"/>
<text x="542.8" y="241.21" font-size="6.7" text-anchor="end" fill="#000">0.5</text>
<text transform="translate(529.6 252.2) rotate(-90)" x="0" y="2.28" font-size="6.9" text-anchor="middle" fill="#000" textLength="16.6" lengthAdjust="spacingAndGlyphs" style="stroke-width:0.3px">Wt%</text>
<text x="607.3" y="273.58" font-size="7.5" text-anchor="middle" fill="#000" textLength="28.6" lengthAdjust="spacingAndGlyphs">Elements</text>
<path d="M556.7 260.4C556.91 260.51 557.55 260.83 557.98 261.04C558.4 261.25 558.83 261.46 559.25 261.67C559.67 261.87 560.1 262.08 560.53 262.28C560.95 262.47 561.38 262.67 561.8 262.85C562.23 263.03 562.65 263.21 563.08 263.38C563.5 263.55 563.93 263.71 564.35 263.86C564.77 264.02 565.2 264.16 565.62 264.29C566.05 264.42 566.48 264.54 566.9 264.64C567.32 264.75 567.75 264.85 568.17 264.93C568.6 265.01 569.03 265.08 569.45 265.13C569.88 265.19 570.3 265.23 570.73 265.26C571.15 265.29 571.79 265.29 572 265.3" fill="none" stroke="#1a1a1a" stroke-width="1.1" stroke-linejoin="round" stroke-linecap="round"/>
<path d="M576 265.3C576.24 265.24 576.96 265.12 577.43 264.91C577.91 264.7 578.39 264.39 578.87 264.05C579.34 263.72 579.82 263.31 580.3 262.88C580.78 262.45 581.26 261.97 581.73 261.48C582.21 261 582.69 260.48 583.17 259.97C583.64 259.46 584.12 258.93 584.6 258.42C585.08 257.92 585.56 257.41 586.03 256.93C586.51 256.46 586.99 256 587.47 255.59C587.94 255.18 588.42 254.79 588.9 254.46C589.38 254.13 589.86 253.84 590.33 253.61C590.81 253.38 591.29 253.2 591.77 253.08C592.24 252.96 592.76 252.9 593.2 252.9C593.64 252.9 593.99 252.96 594.39 253.08C594.79 253.2 595.19 253.38 595.58 253.61C595.98 253.84 596.38 254.13 596.78 254.46C597.17 254.79 597.57 255.18 597.97 255.59C598.36 256 598.76 256.46 599.16 256.93C599.56 257.41 599.95 257.92 600.35 258.42C600.75 258.93 601.14 259.46 601.54 259.97C601.94 260.48 602.34 261 602.73 261.48C603.13 261.97 603.53 262.45 603.92 262.88C604.32 263.31 604.72 263.72 605.12 264.05C605.51 264.39 605.91 264.7 606.31 264.91C606.71 265.12 607.3 265.24 607.5 265.3" fill="none" stroke="#1a1a1a" stroke-width="1.1" stroke-linejoin="round" stroke-linecap="round"/>
<path d="M610.5 265.3C610.65 265.22 611.09 265.09 611.39 264.85C611.69 264.61 611.99 264.25 612.28 263.85C612.58 263.46 612.88 262.98 613.17 262.49C613.47 261.99 613.77 261.43 614.07 260.87C614.36 260.3 614.66 259.7 614.96 259.11C615.26 258.51 615.55 257.9 615.85 257.31C616.15 256.72 616.44 256.13 616.74 255.58C617.04 255.04 617.34 254.5 617.63 254.02C617.93 253.55 618.23 253.1 618.53 252.71C618.82 252.33 619.12 251.99 619.42 251.72C619.71 251.46 620.01 251.25 620.31 251.11C620.61 250.97 620.81 250.9 621.2 250.9C621.59 250.9 622.16 250.97 622.64 251.1C623.12 251.23 623.6 251.44 624.08 251.7C624.56 251.95 625.04 252.28 625.53 252.65C626.01 253.02 626.49 253.45 626.97 253.92C627.45 254.38 627.93 254.89 628.41 255.42C628.89 255.95 629.37 256.52 629.85 257.09C630.33 257.66 630.81 258.25 631.29 258.82C631.77 259.39 632.25 259.98 632.73 260.52C633.21 261.07 633.69 261.6 634.17 262.08C634.66 262.56 635.14 263.02 635.62 263.4C636.1 263.78 636.58 264.13 637.06 264.36C637.54 264.6 638.12 264.74 638.5 264.8C638.88 264.86 639.04 264.76 639.31 264.72C639.58 264.68 639.85 264.62 640.12 264.56C640.39 264.49 640.66 264.41 640.92 264.33C641.19 264.25 641.46 264.16 641.73 264.06C642 263.97 642.27 263.87 642.54 263.77C642.81 263.67 643.08 263.57 643.35 263.47C643.62 263.37 643.89 263.27 644.16 263.18C644.43 263.09 644.7 263 644.97 262.92C645.24 262.84 645.51 262.77 645.78 262.7C646.04 262.64 646.31 262.58 646.58 262.54C646.85 262.49 647.12 262.46 647.39 262.43C647.66 262.41 647.94 262.4 648.2 262.4C648.46 262.4 648.69 262.41 648.93 262.44C649.18 262.47 649.42 262.51 649.67 262.57C649.91 262.62 650.16 262.69 650.4 262.77C650.64 262.84 650.89 262.93 651.13 263.03C651.38 263.13 651.62 263.23 651.87 263.34C652.11 263.45 652.36 263.57 652.6 263.69C652.84 263.81 653.09 263.93 653.33 264.05C653.58 264.17 653.82 264.29 654.07 264.41C654.31 264.52 654.56 264.63 654.8 264.73C655.04 264.83 655.29 264.93 655.53 265.01C655.78 265.09 656.02 265.16 656.27 265.21C656.51 265.26 656.88 265.28 657 265.3" fill="none" stroke="#1a1a1a" stroke-width="1.1" stroke-linejoin="round" stroke-linecap="round"/>
<text x="559.7" y="256.74" font-size="8.6" text-anchor="middle" fill="#000">Ba</text>
<text x="594.4" y="250.04" font-size="8.6" text-anchor="middle" fill="#000">K</text>
<text x="622.4" y="247.54" font-size="8.6" text-anchor="middle" fill="#000">P</text>
<text x="648.2" y="259.94" font-size="8.6" text-anchor="middle" fill="#000">S</text>
<circle cx="540.6" cy="265.3" r="1.5" fill="#111"/>
<text x="431.1" y="300.13" font-size="9.8" text-anchor="middle" fill="#000">Gg</text>
<line x1="381.5" y1="310.5" x2="381.5" y2="338.05" stroke="#111" stroke-width="1.5"/>
<line x1="380.75" y1="337.3" x2="506.8" y2="337.3" stroke="#111" stroke-width="1.5"/>
<text x="374.8" y="313.21" font-size="6.7" text-anchor="end" fill="#000">0.5</text>
<text x="374.8" y="339.51" font-size="6.7" text-anchor="end" fill="#000">0</text>
<text transform="translate(361.3 324.7) rotate(-90)" x="0" y="2.28" font-size="6.9" text-anchor="middle" fill="#000" textLength="16.6" lengthAdjust="spacingAndGlyphs" style="stroke-width:0.3px">Wt%</text>
<text x="443.8" y="345.58" font-size="7.5" text-anchor="middle" fill="#000" textLength="28.6" lengthAdjust="spacingAndGlyphs">Elements</text>
<path d="M385.9 337.1C385.96 337.09 386.16 337.08 386.28 337.05C386.41 337.03 386.54 336.99 386.67 336.95C386.79 336.91 386.92 336.86 387.05 336.81C387.18 336.76 387.31 336.7 387.43 336.64C387.56 336.58 387.69 336.52 387.82 336.45C387.94 336.39 388.07 336.33 388.2 336.27C388.33 336.21 388.46 336.15 388.58 336.09C388.71 336.03 388.84 335.98 388.97 335.93C389.09 335.88 389.22 335.83 389.35 335.79C389.48 335.75 389.61 335.71 389.73 335.69C389.86 335.66 389.99 335.64 390.12 335.62C390.24 335.61 390.32 335.69 390.5 335.6C390.68 335.51 390.98 335.37 391.22 335.1C391.46 334.83 391.69 334.44 391.93 334C392.17 333.57 392.41 333.04 392.65 332.49C392.89 331.94 393.13 331.33 393.37 330.71C393.61 330.08 393.84 329.42 394.08 328.76C394.32 328.11 394.56 327.43 394.8 326.78C395.04 326.13 395.28 325.48 395.52 324.87C395.76 324.27 395.99 323.68 396.23 323.15C396.47 322.62 396.71 322.13 396.95 321.7C397.19 321.28 397.43 320.91 397.67 320.61C397.91 320.31 398.14 320.08 398.38 319.93C398.62 319.78 398.88 319.7 399.1 319.7C399.32 319.7 399.51 319.79 399.71 319.95C399.91 320.11 400.11 320.36 400.32 320.68C400.52 321 400.72 321.41 400.93 321.87C401.13 322.32 401.33 322.86 401.53 323.43C401.74 324 401.94 324.64 402.14 325.3C402.34 325.95 402.55 326.66 402.75 327.36C402.95 328.06 403.16 328.79 403.36 329.5C403.56 330.21 403.76 330.93 403.97 331.61C404.17 332.28 404.37 332.95 404.57 333.54C404.78 334.13 404.98 334.7 405.18 335.17C405.39 335.64 405.59 336.07 405.79 336.36C405.99 336.65 406.2 336.82 406.4 336.9C406.6 336.98 406.78 336.87 406.97 336.84C407.16 336.81 407.34 336.77 407.53 336.72C407.72 336.67 407.91 336.61 408.1 336.55C408.29 336.49 408.48 336.42 408.67 336.35C408.86 336.28 409.04 336.2 409.23 336.13C409.42 336.05 409.61 335.97 409.8 335.9C409.99 335.83 410.18 335.75 410.37 335.69C410.56 335.62 410.74 335.55 410.93 335.49C411.12 335.43 411.31 335.37 411.5 335.33C411.69 335.28 411.88 335.24 412.07 335.2C412.26 335.17 412.44 335.14 412.63 335.13C412.82 335.11 413.04 335.1 413.2 335.1C413.36 335.1 413.47 335.11 413.6 335.13C413.73 335.15 413.87 335.17 414 335.21C414.13 335.24 414.27 335.29 414.4 335.34C414.53 335.39 414.67 335.45 414.8 335.51C414.93 335.58 415.07 335.65 415.2 335.72C415.33 335.79 415.47 335.87 415.6 335.95C415.73 336.02 415.87 336.1 416 336.18C416.13 336.26 416.27 336.34 416.4 336.42C416.53 336.49 416.67 336.56 416.8 336.63C416.93 336.69 417.07 336.76 417.2 336.81C417.33 336.86 417.47 336.91 417.6 336.94C417.73 336.97 417.84 337.05 418 337C418.16 336.95 418.38 336.82 418.57 336.62C418.77 336.42 418.96 336.11 419.15 335.78C419.34 335.45 419.53 335.05 419.73 334.64C419.92 334.22 420.11 333.75 420.3 333.28C420.49 332.8 420.68 332.29 420.88 331.8C421.07 331.3 421.26 330.78 421.45 330.29C421.64 329.79 421.83 329.3 422.02 328.84C422.22 328.38 422.41 327.93 422.6 327.52C422.79 327.12 422.98 326.75 423.17 326.42C423.37 326.1 423.56 325.82 423.75 325.59C423.94 325.37 424.13 325.19 424.32 325.08C424.52 324.96 424.7 324.91 424.9 324.9C425.1 324.89 425.33 324.94 425.54 325.03C425.76 325.11 425.97 325.24 426.18 325.41C426.4 325.57 426.61 325.78 426.82 326.02C427.04 326.26 427.25 326.53 427.47 326.83C427.68 327.13 427.89 327.46 428.11 327.8C428.32 328.13 428.54 328.5 428.75 328.86C428.96 329.23 429.18 329.61 429.39 329.97C429.61 330.34 429.82 330.71 430.03 331.06C430.25 331.41 430.46 331.75 430.68 332.06C430.89 332.37 431.1 332.66 431.32 332.91C431.53 333.15 431.74 333.37 431.96 333.52C432.17 333.67 432.43 333.75 432.6 333.8C432.77 333.85 432.83 333.8 432.95 333.8C433.07 333.8 433.18 333.79 433.3 333.79C433.42 333.79 433.53 333.78 433.65 333.78C433.77 333.78 433.88 333.77 434 333.77C434.12 333.77 434.23 333.76 434.35 333.76C434.47 333.75 434.58 333.75 434.7 333.74C434.82 333.74 434.93 333.74 435.05 333.73C435.17 333.73 435.28 333.73 435.4 333.72C435.52 333.72 435.63 333.72 435.75 333.71C435.87 333.71 435.98 333.71 436.1 333.71C436.22 333.7 436.33 333.7 436.45 333.7C436.57 333.7 436.65 333.69 436.8 333.7C436.95 333.71 437.17 333.72 437.36 333.74C437.54 333.77 437.73 333.82 437.92 333.88C438.1 333.93 438.29 334.01 438.48 334.09C438.66 334.17 438.85 334.27 439.03 334.37C439.22 334.48 439.41 334.59 439.59 334.71C439.78 334.83 439.96 334.95 440.15 335.08C440.34 335.21 440.52 335.34 440.71 335.47C440.89 335.59 441.08 335.72 441.27 335.85C441.45 335.97 441.64 336.09 441.82 336.19C442.01 336.3 442.2 336.4 442.38 336.49C442.57 336.57 442.76 336.65 442.94 336.7C443.13 336.75 443.35 336.79 443.5 336.8C443.65 336.81 443.72 336.79 443.83 336.78C443.94 336.77 444.06 336.76 444.17 336.74C444.28 336.72 444.39 336.7 444.5 336.68C444.61 336.66 444.72 336.64 444.83 336.62C444.94 336.59 445.06 336.57 445.17 336.54C445.28 336.52 445.39 336.49 445.5 336.47C445.61 336.44 445.72 336.42 445.83 336.4C445.94 336.37 446.06 336.35 446.17 336.33C446.28 336.31 446.39 336.29 446.5 336.28C446.61 336.26 446.72 336.25 446.83 336.23C446.94 336.22 447.06 336.21 447.17 336.21C447.28 336.2 447.33 336.29 447.5 336.2C447.67 336.11 447.97 335.95 448.2 335.67C448.43 335.38 448.67 334.96 448.9 334.49C449.13 334.03 449.37 333.47 449.6 332.88C449.83 332.29 450.07 331.63 450.3 330.97C450.53 330.3 450.77 329.59 451 328.89C451.23 328.19 451.47 327.46 451.7 326.77C451.93 326.08 452.17 325.38 452.4 324.73C452.63 324.08 452.87 323.45 453.1 322.89C453.33 322.32 453.57 321.79 453.8 321.34C454.03 320.89 454.27 320.49 454.5 320.17C454.73 319.86 454.97 319.61 455.2 319.45C455.43 319.28 455.67 319.2 455.9 319.2C456.13 319.2 456.36 319.28 456.59 319.44C456.82 319.6 457.05 319.84 457.28 320.15C457.51 320.46 457.74 320.85 457.97 321.29C458.21 321.73 458.44 322.25 458.67 322.8C458.9 323.35 459.13 323.97 459.36 324.6C459.59 325.23 459.82 325.91 460.05 326.59C460.28 327.27 460.51 327.98 460.74 328.66C460.97 329.34 461.2 330.04 461.43 330.69C461.66 331.34 461.89 331.98 462.12 332.56C462.36 333.13 462.59 333.68 462.82 334.13C463.05 334.59 463.28 335 463.51 335.28C463.74 335.56 464.02 335.71 464.2 335.8C464.38 335.89 464.44 335.81 464.56 335.82C464.68 335.83 464.8 335.85 464.92 335.87C465.04 335.9 465.16 335.93 465.27 335.96C465.39 336 465.51 336.04 465.63 336.08C465.75 336.13 465.87 336.17 465.99 336.22C466.11 336.27 466.23 336.33 466.35 336.38C466.47 336.43 466.59 336.49 466.71 336.54C466.83 336.59 466.95 336.65 467.07 336.7C467.19 336.75 467.31 336.8 467.43 336.85C467.54 336.89 467.66 336.93 467.78 336.97C467.9 337 468.02 337.04 468.14 337.06C468.26 337.08 468.44 337.09 468.5 337.1" fill="none" stroke="#1a1a1a" stroke-width="1.1" stroke-linejoin="round" stroke-linecap="round"/>
<text x="399.6" y="316.84" font-size="8.6" text-anchor="middle" fill="#000">Ca</text>
<text x="412.5" y="333.74" font-size="8.6" text-anchor="middle" fill="#000">Ce</text>
<text x="426.4" y="319.34" font-size="8.6" text-anchor="middle" fill="#000">K</text>
<text x="440" y="333.74" font-size="8.6" text-anchor="middle" fill="#000">Mg</text>
<text x="455.9" y="318.84" font-size="8.6" text-anchor="middle" fill="#000">P</text>
<text x="599.4" y="299.5" font-size="10.3" text-anchor="middle" fill="#000">Gg-CS</text>
<line x1="549.7" y1="309.8" x2="549.7" y2="337.35" stroke="#111" stroke-width="1.5"/>
<line x1="548.95" y1="336.6" x2="675.8" y2="336.6" stroke="#111" stroke-width="1.5"/>
<text x="544" y="312.51" font-size="6.7" text-anchor="end" fill="#000">0.2</text>
<text x="544" y="338.81" font-size="6.7" text-anchor="end" fill="#000">0</text>
<text transform="translate(529.6 323.9) rotate(-90)" x="0" y="2.28" font-size="6.9" text-anchor="middle" fill="#000" textLength="16.6" lengthAdjust="spacingAndGlyphs" style="stroke-width:0.3px">Wt%</text>
<text x="612.5" y="344.78" font-size="7.5" text-anchor="middle" fill="#000" textLength="28.6" lengthAdjust="spacingAndGlyphs">Elements</text>
<path d="M556.7 315.5C557.13 316.28 558.4 318.67 559.3 320.2C560.2 321.73 561.15 323.33 562.1 324.7C563.05 326.07 563.97 327.25 565 328.4C566.03 329.55 567.13 330.6 568.3 331.6C569.47 332.6 570.62 333.57 572 334.4C573.38 335.23 575.83 336.23 576.6 336.6" fill="none" stroke="#1a1a1a" stroke-width="1.1" stroke-linejoin="round" stroke-linecap="round"/>
<path d="M580.6 336.6C580.71 336.51 581.05 336.34 581.27 336.03C581.5 335.73 581.73 335.28 581.95 334.78C582.18 334.29 582.4 333.69 582.62 333.06C582.85 332.44 583.08 331.74 583.3 331.03C583.53 330.32 583.75 329.56 583.98 328.82C584.2 328.07 584.43 327.3 584.65 326.56C584.88 325.82 585.1 325.08 585.33 324.39C585.55 323.7 585.77 323.03 586 322.43C586.23 321.82 586.45 321.26 586.68 320.78C586.9 320.3 587.12 319.87 587.35 319.54C587.58 319.2 587.8 318.94 588.03 318.76C588.25 318.59 588.38 318.5 588.7 318.5C589.02 318.5 589.51 318.59 589.92 318.77C590.32 318.94 590.73 319.21 591.13 319.55C591.54 319.89 591.94 320.32 592.35 320.8C592.76 321.29 593.16 321.86 593.57 322.47C593.97 323.08 594.38 323.76 594.78 324.45C595.19 325.15 595.59 325.9 596 326.65C596.41 327.39 596.81 328.18 597.22 328.93C597.62 329.68 598.03 330.45 598.43 331.17C598.84 331.88 599.24 332.59 599.65 333.22C600.06 333.86 600.46 334.46 600.87 334.96C601.27 335.46 601.68 335.92 602.08 336.23C602.49 336.53 602.97 336.74 603.3 336.8C603.63 336.86 603.81 336.71 604.07 336.61C604.32 336.52 604.58 336.37 604.83 336.21C605.09 336.05 605.34 335.85 605.6 335.65C605.86 335.44 606.11 335.21 606.37 334.98C606.62 334.75 606.88 334.51 607.13 334.26C607.39 334.02 607.64 333.77 607.9 333.53C608.16 333.29 608.41 333.04 608.67 332.82C608.92 332.59 609.18 332.38 609.43 332.18C609.69 331.98 609.94 331.8 610.2 331.64C610.46 331.49 610.71 331.35 610.97 331.24C611.22 331.13 611.48 331.04 611.73 330.99C611.99 330.93 612.25 330.9 612.5 330.9C612.75 330.9 612.98 330.93 613.23 330.99C613.47 331.04 613.71 331.13 613.95 331.24C614.19 331.35 614.43 331.49 614.67 331.64C614.92 331.8 615.16 331.98 615.4 332.18C615.64 332.38 615.88 332.59 616.12 332.82C616.37 333.04 616.61 333.29 616.85 333.53C617.09 333.77 617.33 334.02 617.58 334.26C617.82 334.51 618.06 334.75 618.3 334.98C618.54 335.21 618.78 335.44 619.03 335.65C619.27 335.85 619.51 336.05 619.75 336.21C619.99 336.37 620.23 336.52 620.48 336.61C620.72 336.71 620.91 336.81 621.2 336.8C621.49 336.79 621.89 336.68 622.23 336.54C622.58 336.4 622.92 336.19 623.27 335.96C623.61 335.73 623.96 335.45 624.3 335.16C624.64 334.87 624.99 334.54 625.33 334.21C625.68 333.89 626.02 333.53 626.37 333.19C626.71 332.84 627.06 332.48 627.4 332.14C627.74 331.8 628.09 331.45 628.43 331.13C628.78 330.81 629.12 330.5 629.47 330.22C629.81 329.94 630.16 329.68 630.5 329.46C630.84 329.23 631.19 329.04 631.53 328.88C631.88 328.72 632.22 328.6 632.57 328.52C632.91 328.44 633.26 328.41 633.6 328.4C633.94 328.39 634.26 328.42 634.59 328.47C634.92 328.51 635.25 328.57 635.58 328.66C635.91 328.74 636.24 328.85 636.58 328.97C636.91 329.09 637.24 329.23 637.57 329.38C637.9 329.53 638.23 329.69 638.56 329.86C638.89 330.04 639.22 330.22 639.55 330.4C639.88 330.59 640.21 330.78 640.54 330.96C640.87 331.15 641.2 331.34 641.53 331.51C641.86 331.69 642.19 331.87 642.52 332.02C642.86 332.18 643.19 332.32 643.52 332.45C643.85 332.57 644.18 332.68 644.51 332.76C644.84 332.83 645.27 332.88 645.5 332.9C645.73 332.92 645.76 332.9 645.89 332.89C646.02 332.89 646.15 332.89 646.28 332.88C646.41 332.87 646.54 332.87 646.67 332.86C646.81 332.85 646.94 332.85 647.07 332.84C647.2 332.83 647.33 332.82 647.46 332.81C647.59 332.81 647.72 332.8 647.85 332.79C647.98 332.78 648.11 332.77 648.24 332.77C648.37 332.76 648.5 332.75 648.63 332.74C648.76 332.74 648.89 332.73 649.03 332.73C649.16 332.72 649.29 332.72 649.42 332.71C649.55 332.71 649.68 332.7 649.81 332.7C649.94 332.7 650.02 332.69 650.2 332.7C650.38 332.71 650.67 332.72 650.9 332.76C651.13 332.79 651.37 332.85 651.6 332.92C651.83 333 652.07 333.09 652.3 333.19C652.53 333.29 652.77 333.42 653 333.55C653.23 333.68 653.47 333.82 653.7 333.97C653.93 334.12 654.17 334.28 654.4 334.44C654.63 334.6 654.87 334.76 655.1 334.92C655.33 335.08 655.57 335.25 655.8 335.4C656.03 335.55 656.27 335.7 656.5 335.84C656.73 335.97 656.97 336.1 657.2 336.21C657.43 336.31 657.67 336.41 657.9 336.48C658.13 336.54 658.48 336.58 658.6 336.6" fill="none" stroke="#1a1a1a" stroke-width="1.1" stroke-linejoin="round" stroke-linecap="round"/>
<text x="558.4" y="312.64" font-size="8.6" text-anchor="middle" fill="#000">Ba</text>
<text x="588.9" y="315.14" font-size="8.6" text-anchor="middle" fill="#000">K</text>
<text x="612.5" y="329.24" font-size="8.6" text-anchor="middle" fill="#000">Na</text>
<text x="637.1" y="326.24" font-size="8.6" text-anchor="middle" fill="#000">Re</text>
<text x="652" y="328.74" font-size="8.6" text-anchor="middle" fill="#000">S</text>
<text x="527.2" y="366.53" font-size="10.4" text-anchor="middle" fill="#000">Gg-C.CS</text>
<line x1="468" y1="366.6" x2="468" y2="417.95" stroke="#111" stroke-width="1.5"/>
<line x1="467.25" y1="417.2" x2="607.2" y2="417.2" stroke="#111" stroke-width="1.5"/>
<text x="462.1" y="368.81" font-size="6.1" text-anchor="end" fill="#000" style="font-family:'Liberation Sans',sans-serif">0.2</text>
<text x="462.1" y="394.01" font-size="6.1" text-anchor="end" fill="#000" style="font-family:'Liberation Sans',sans-serif">0.1</text>
<text x="462.1" y="419.41" font-size="6.1" text-anchor="end" fill="#000" style="font-family:'Liberation Sans',sans-serif">0</text>
<text transform="translate(449.2 392.3) rotate(-90)" x="0" y="2.28" font-size="6.9" text-anchor="middle" fill="#000" textLength="16.6" lengthAdjust="spacingAndGlyphs" style="stroke-width:0.3px">Wt%</text>
<text x="537.4" y="423.78" font-size="7.5" text-anchor="middle" fill="#000" textLength="28.6" lengthAdjust="spacingAndGlyphs">Elements</text>
<path d="M473.6 417C473.72 416.83 474.07 416.51 474.3 415.95C474.53 415.39 474.77 414.56 475 413.64C475.23 412.73 475.47 411.63 475.7 410.48C475.93 409.32 476.17 408.03 476.4 406.72C476.63 405.41 476.87 404.01 477.1 402.63C477.33 401.26 477.57 399.83 477.8 398.47C478.03 397.11 478.27 395.74 478.5 394.47C478.73 393.2 478.97 391.96 479.2 390.85C479.43 389.74 479.67 388.7 479.9 387.81C480.13 386.92 480.37 386.13 480.6 385.51C480.83 384.89 481.07 384.4 481.3 384.08C481.53 383.77 481.76 383.62 482 383.6C482.24 383.58 482.48 383.73 482.72 383.99C482.96 384.24 483.19 384.63 483.43 385.12C483.67 385.62 483.91 386.24 484.15 386.95C484.39 387.66 484.63 388.49 484.87 389.37C485.11 390.25 485.34 391.24 485.58 392.25C485.82 393.27 486.06 394.36 486.3 395.44C486.54 396.53 486.78 397.66 487.02 398.76C487.26 399.85 487.49 400.97 487.73 402.01C487.97 403.05 488.21 404.08 488.45 405C488.69 405.92 488.93 406.8 489.17 407.53C489.41 408.25 489.64 408.92 489.88 409.37C490.12 409.81 490.41 410.07 490.6 410.2C490.79 410.33 490.88 410.19 491.03 410.17C491.17 410.15 491.31 410.13 491.45 410.1C491.59 410.07 491.73 410.04 491.88 410C492.02 409.97 492.16 409.93 492.3 409.89C492.44 409.85 492.58 409.81 492.73 409.77C492.87 409.73 493.01 409.69 493.15 409.65C493.29 409.6 493.43 409.56 493.57 409.53C493.72 409.49 493.86 409.45 494 409.42C494.14 409.38 494.28 409.35 494.43 409.33C494.57 409.3 494.71 409.28 494.85 409.26C494.99 409.24 495.13 409.22 495.27 409.21C495.42 409.2 495.5 409.18 495.7 409.2C495.9 409.22 496.21 409.24 496.46 409.32C496.71 409.39 496.96 409.51 497.22 409.66C497.47 409.81 497.72 410 497.98 410.22C498.23 410.44 498.48 410.69 498.73 410.96C498.99 411.23 499.24 411.53 499.49 411.84C499.74 412.14 500 412.48 500.25 412.81C500.5 413.14 500.76 413.48 501.01 413.82C501.26 414.15 501.51 414.49 501.77 414.81C502.02 415.12 502.27 415.44 502.52 415.72C502.78 416 503.03 416.26 503.28 416.49C503.54 416.71 503.79 416.91 504.04 417.05C504.29 417.18 504.51 417.47 504.8 417.3C505.09 417.13 505.46 416.71 505.79 416.04C506.12 415.37 506.45 414.37 506.78 413.27C507.11 412.17 507.44 410.85 507.78 409.47C508.11 408.08 508.44 406.53 508.77 404.96C509.1 403.39 509.43 401.7 509.76 400.05C510.09 398.4 510.42 396.69 510.75 395.05C511.08 393.42 511.41 391.77 511.74 390.25C512.07 388.72 512.4 387.23 512.73 385.9C513.06 384.57 513.39 383.32 513.73 382.25C514.06 381.18 514.39 380.24 514.72 379.5C515.05 378.75 515.38 378.16 515.71 377.78C516.04 377.4 516.4 377.23 516.7 377.2C517 377.17 517.25 377.33 517.53 377.58C517.8 377.83 518.08 378.22 518.35 378.71C518.62 379.2 518.9 379.82 519.18 380.52C519.45 381.23 519.73 382.05 520 382.93C520.27 383.8 520.55 384.78 520.83 385.79C521.1 386.79 521.38 387.88 521.65 388.95C521.93 390.03 522.2 391.16 522.48 392.25C522.75 393.33 523.03 394.44 523.3 395.47C523.58 396.51 523.85 397.53 524.12 398.44C524.4 399.35 524.68 400.23 524.95 400.95C525.23 401.67 525.5 402.33 525.77 402.77C526.05 403.21 526.41 403.46 526.6 403.6C526.79 403.74 526.83 403.6 526.94 403.61C527.06 403.62 527.17 403.64 527.28 403.66C527.4 403.68 527.51 403.7 527.62 403.73C527.74 403.75 527.85 403.78 527.97 403.82C528.08 403.85 528.19 403.89 528.31 403.93C528.42 403.96 528.54 404 528.65 404.05C528.76 404.09 528.88 404.13 528.99 404.17C529.11 404.21 529.22 404.25 529.33 404.29C529.45 404.33 529.56 404.37 529.68 404.4C529.79 404.44 529.9 404.47 530.02 404.5C530.13 404.53 530.24 404.55 530.36 404.57C530.47 404.59 530.54 404.56 530.7 404.6C530.86 404.64 531.09 404.66 531.29 404.78C531.49 404.9 531.69 405.09 531.88 405.32C532.08 405.56 532.28 405.85 532.48 406.19C532.67 406.52 532.87 406.91 533.07 407.33C533.26 407.75 533.46 408.22 533.66 408.7C533.86 409.18 534.05 409.7 534.25 410.21C534.45 410.72 534.64 411.26 534.84 411.78C535.04 412.3 535.24 412.83 535.43 413.32C535.63 413.81 535.83 414.3 536.02 414.74C536.22 415.17 536.42 415.59 536.62 415.93C536.81 416.28 537.01 416.59 537.21 416.8C537.41 417.02 537.7 417.13 537.8 417.2" fill="none" stroke="#1a1a1a" stroke-width="1.1" stroke-linejoin="round" stroke-linecap="round"/>
<path d="M545.3 417.2C545.47 417.08 545.98 416.87 546.32 416.48C546.67 416.1 547.01 415.53 547.35 414.91C547.69 414.29 548.03 413.53 548.38 412.75C548.72 411.96 549.06 411.07 549.4 410.18C549.74 409.29 550.08 408.33 550.42 407.39C550.77 406.46 551.11 405.48 551.45 404.55C551.79 403.62 552.13 402.68 552.48 401.82C552.82 400.95 553.16 400.1 553.5 399.35C553.84 398.59 554.18 397.88 554.52 397.27C554.87 396.66 555.21 396.13 555.55 395.7C555.89 395.28 556.23 394.95 556.58 394.73C556.92 394.51 557.3 394.41 557.6 394.4C557.9 394.39 558.12 394.49 558.38 394.65C558.64 394.82 558.91 395.07 559.17 395.4C559.43 395.72 559.69 396.13 559.95 396.59C560.21 397.05 560.47 397.6 560.73 398.17C560.99 398.75 561.26 399.4 561.52 400.06C561.78 400.72 562.04 401.44 562.3 402.15C562.56 402.86 562.82 403.6 563.08 404.32C563.34 405.03 563.61 405.76 563.87 406.44C564.13 407.13 564.39 407.8 564.65 408.4C564.91 409 565.17 409.58 565.43 410.05C565.69 410.53 565.96 410.96 566.22 411.25C566.48 411.55 566.81 411.71 567 411.8C567.19 411.89 567.26 411.8 567.38 411.8C567.51 411.8 567.64 411.81 567.77 411.81C567.89 411.82 568.02 411.82 568.15 411.83C568.28 411.83 568.41 411.84 568.53 411.84C568.66 411.85 568.79 411.86 568.92 411.87C569.04 411.87 569.17 411.88 569.3 411.89C569.43 411.9 569.56 411.91 569.68 411.91C569.81 411.92 569.94 411.93 570.07 411.94C570.19 411.95 570.32 411.95 570.45 411.96C570.58 411.97 570.71 411.97 570.83 411.98C570.96 411.99 571.09 411.99 571.22 411.99C571.34 412 571.43 411.99 571.6 412C571.77 412.01 572.02 412.03 572.23 412.08C572.44 412.13 572.66 412.2 572.87 412.3C573.08 412.39 573.29 412.52 573.5 412.65C573.71 412.79 573.92 412.96 574.13 413.13C574.34 413.3 574.56 413.49 574.77 413.69C574.98 413.89 575.19 414.1 575.4 414.32C575.61 414.53 575.82 414.75 576.03 414.96C576.24 415.18 576.46 415.4 576.67 415.6C576.88 415.8 577.09 416 577.3 416.18C577.51 416.36 577.72 416.54 577.93 416.68C578.14 416.82 578.36 416.95 578.57 417.04C578.78 417.12 579.09 417.17 579.2 417.2" fill="none" stroke="#1a1a1a" stroke-width="1.1" stroke-linejoin="round" stroke-linecap="round"/>
<path d="M600 417.2C600.67 417.08 602.8 416.95 604 416.5C605.2 416.05 606.67 414.83 607.2 414.5" fill="none" stroke="#1a1a1a" stroke-width="1.1" stroke-linejoin="round" stroke-linecap="round"/>
<text x="476.1" y="416.11" font-size="8.2" text-anchor="middle" fill="#000">Al</text>
<text x="483.4" y="382.51" font-size="8.2" text-anchor="middle" fill="#000">Ba</text>
<text x="498.6" y="407.31" font-size="8.2" text-anchor="middle" fill="#000">Ca</text>
<text x="519.1" y="376.61" font-size="8.2" text-anchor="middle" fill="#000">K</text>
<text x="533.6" y="402.91" font-size="8.2" text-anchor="middle" fill="#000">Mg</text>
<text x="558.5" y="390.71" font-size="8.2" text-anchor="middle" fill="#000">Re</text>
<rect x="168.3" y="435.8" width="336.7" height="423.8" fill="#fff"/>
<rect x="168.3" y="435.8" width="336.7" height="0.7" fill="#777"/>
<rect x="168.3" y="435.8" width="0.7" height="423.8" fill="#666"/>
<rect x="168.3" y="859.2" width="336.7" height="0.6" fill="#555"/>
<line x1="169" y1="567.5" x2="505" y2="567.5" stroke="#e2e2e2" stroke-width="1"/>
<line x1="169" y1="713.6" x2="505" y2="713.6" stroke="#e2e2e2" stroke-width="1"/>
<text x="182.8" y="452.85" font-size="13.5" text-anchor="middle" fill="#000">(e)</text>
<text x="337.7" y="448.17" font-size="9.6" text-anchor="middle" fill="#000" textLength="70.5" lengthAdjust="spacingAndGlyphs">Dexamethasone</text>
<line x1="209.9" y1="459.7" x2="209.9" y2="545.7" stroke="#111" stroke-width="1.2"/>
<line x1="209.3" y1="545.1" x2="479" y2="545.1" stroke="#111" stroke-width="1.3"/>
<line x1="207.3" y1="545.1" x2="209.9" y2="545.1" stroke="#111" stroke-width="0.8"/>
<text x="204.3" y="547.21" font-size="6.4" text-anchor="end" fill="#000" textLength="3.45" lengthAdjust="spacingAndGlyphs">0</text>
<line x1="207.3" y1="534.43" x2="209.9" y2="534.43" stroke="#111" stroke-width="0.8"/>
<text x="204.3" y="536.54" font-size="6.4" text-anchor="end" fill="#000" textLength="6.9" lengthAdjust="spacingAndGlyphs">20</text>
<line x1="207.3" y1="523.75" x2="209.9" y2="523.75" stroke="#111" stroke-width="0.8"/>
<text x="204.3" y="525.86" font-size="6.4" text-anchor="end" fill="#000" textLength="6.9" lengthAdjust="spacingAndGlyphs">40</text>
<line x1="207.3" y1="513.08" x2="209.9" y2="513.08" stroke="#111" stroke-width="0.8"/>
<text x="204.3" y="515.19" font-size="6.4" text-anchor="end" fill="#000" textLength="6.9" lengthAdjust="spacingAndGlyphs">60</text>
<line x1="207.3" y1="502.4" x2="209.9" y2="502.4" stroke="#111" stroke-width="0.8"/>
<text x="204.3" y="504.51" font-size="6.4" text-anchor="end" fill="#000" textLength="6.9" lengthAdjust="spacingAndGlyphs">80</text>
<line x1="207.3" y1="491.73" x2="209.9" y2="491.73" stroke="#111" stroke-width="0.8"/>
<text x="204.3" y="493.84" font-size="6.4" text-anchor="end" fill="#000" textLength="10.35" lengthAdjust="spacingAndGlyphs">100</text>
<line x1="207.3" y1="481.05" x2="209.9" y2="481.05" stroke="#111" stroke-width="0.8"/>
<text x="204.3" y="483.16" font-size="6.4" text-anchor="end" fill="#000" textLength="10.35" lengthAdjust="spacingAndGlyphs">120</text>
<line x1="207.3" y1="470.38" x2="209.9" y2="470.38" stroke="#111" stroke-width="0.8"/>
<text x="204.3" y="472.49" font-size="6.4" text-anchor="end" fill="#000" textLength="10.35" lengthAdjust="spacingAndGlyphs">140</text>
<line x1="207.3" y1="459.7" x2="209.9" y2="459.7" stroke="#111" stroke-width="0.8"/>
<text x="204.3" y="461.81" font-size="6.4" text-anchor="end" fill="#000" textLength="10.35" lengthAdjust="spacingAndGlyphs">160</text>
<text transform="translate(187.3 502.8) rotate(-90)" x="0" y="2.44" font-size="7.4" text-anchor="middle" fill="#000" textLength="52" lengthAdjust="spacingAndGlyphs" style="stroke-width:0.3px">Cell viability (%)</text>
<line x1="228.78" y1="488.31" x2="228.78" y2="485.11" stroke="#111" stroke-width="0.9"/>
<line x1="226.97" y1="485.11" x2="230.58" y2="485.11" stroke="#111" stroke-width="0.9"/>
<line x1="244.33" y1="489.38" x2="244.33" y2="488.58" stroke="#111" stroke-width="0.9"/>
<line x1="242.53" y1="488.58" x2="246.13" y2="488.58" stroke="#111" stroke-width="0.9"/>
<rect x="221.3" y="488.31" width="15.25" height="56.79" fill="#00A5EC" stroke="#222" stroke-width="0.6"/>
<rect x="236.85" y="489.38" width="15.25" height="55.72" fill="#FF0000" stroke="#222" stroke-width="0.6"/>
<text transform="translate(228.28 481.31) scale(1.05 1)" x="0" y="0" font-size="7.3" text-anchor="middle" fill="#000">a</text>
<text transform="translate(244.02 485.51) scale(1.05 1)" x="0" y="0" font-size="7.3" text-anchor="middle" fill="#000">a</text>
<line x1="282.47" y1="486.39" x2="282.47" y2="483.19" stroke="#111" stroke-width="0.9"/>
<line x1="280.67" y1="483.19" x2="284.27" y2="483.19" stroke="#111" stroke-width="0.9"/>
<line x1="298.02" y1="487.83" x2="298.02" y2="487.23" stroke="#111" stroke-width="0.9"/>
<line x1="296.22" y1="487.23" x2="299.82" y2="487.23" stroke="#111" stroke-width="0.9"/>
<rect x="275" y="486.39" width="15.25" height="58.71" fill="#00A5EC" stroke="#222" stroke-width="0.6"/>
<rect x="290.55" y="487.83" width="15.25" height="57.27" fill="#FF0000" stroke="#222" stroke-width="0.6"/>
<text transform="translate(281.97 480.31) scale(1.05 1)" x="0" y="0" font-size="7.3" text-anchor="middle" fill="#000">b</text>
<text transform="translate(297.72 483.41) scale(1.05 1)" x="0" y="0" font-size="7.3" text-anchor="middle" fill="#000">b</text>
<line x1="336.38" y1="484.41" x2="336.38" y2="481.21" stroke="#111" stroke-width="0.9"/>
<line x1="334.57" y1="481.21" x2="338.18" y2="481.21" stroke="#111" stroke-width="0.9"/>
<line x1="351.93" y1="487.29" x2="351.93" y2="486.69" stroke="#111" stroke-width="0.9"/>
<line x1="350.12" y1="486.69" x2="353.73" y2="486.69" stroke="#111" stroke-width="0.9"/>
<rect x="328.9" y="484.41" width="15.25" height="60.69" fill="#00A5EC" stroke="#222" stroke-width="0.6"/>
<rect x="344.45" y="487.29" width="15.25" height="57.81" fill="#FF0000" stroke="#222" stroke-width="0.6"/>
<text transform="translate(335.88 476.31) scale(1.05 1)" x="0" y="0" font-size="7.3" text-anchor="middle" fill="#000">c</text>
<text transform="translate(351.62 481.61) scale(1.05 1)" x="0" y="0" font-size="7.3" text-anchor="middle" fill="#000">c</text>
<line x1="390.17" y1="482.54" x2="390.17" y2="479.14" stroke="#111" stroke-width="0.9"/>
<line x1="388.37" y1="479.14" x2="391.97" y2="479.14" stroke="#111" stroke-width="0.9"/>
<line x1="405.72" y1="487.29" x2="405.72" y2="486.69" stroke="#111" stroke-width="0.9"/>
<line x1="403.92" y1="486.69" x2="407.52" y2="486.69" stroke="#111" stroke-width="0.9"/>
<rect x="382.7" y="482.54" width="15.25" height="62.56" fill="#00A5EC" stroke="#222" stroke-width="0.6"/>
<rect x="398.25" y="487.29" width="15.25" height="57.81" fill="#FF0000" stroke="#222" stroke-width="0.6"/>
<text transform="translate(389.67 475.61) scale(1.05 1)" x="0" y="0" font-size="7.3" text-anchor="middle" fill="#000">d</text>
<text transform="translate(405.42 482.11) scale(1.05 1)" x="0" y="0" font-size="7.3" text-anchor="middle" fill="#000">c</text>
<line x1="443.97" y1="469.95" x2="443.97" y2="466.55" stroke="#111" stroke-width="0.9"/>
<line x1="442.17" y1="466.55" x2="445.77" y2="466.55" stroke="#111" stroke-width="0.9"/>
<line x1="459.52" y1="486.23" x2="459.52" y2="485.63" stroke="#111" stroke-width="0.9"/>
<line x1="457.72" y1="485.63" x2="461.32" y2="485.63" stroke="#111" stroke-width="0.9"/>
<rect x="436.5" y="469.95" width="15.25" height="75.15" fill="#00A5EC" stroke="#222" stroke-width="0.6"/>
<rect x="452.05" y="486.23" width="15.25" height="58.87" fill="#FF0000" stroke="#222" stroke-width="0.6"/>
<text transform="translate(443.47 462.41) scale(1.05 1)" x="0" y="0" font-size="7.3" text-anchor="middle" fill="#000">e</text>
<text transform="translate(459.22 479.01) scale(1.05 1)" x="0" y="0" font-size="7.3" text-anchor="middle" fill="#000">d</text>
<text x="236.5" y="554.91" font-size="6.4" text-anchor="middle" fill="#000" textLength="3.42" lengthAdjust="spacingAndGlyphs">1</text>
<text x="290.6" y="554.91" font-size="6.4" text-anchor="middle" fill="#000" textLength="3.42" lengthAdjust="spacingAndGlyphs">4</text>
<text x="344.5" y="554.91" font-size="6.4" text-anchor="middle" fill="#000" textLength="6.84" lengthAdjust="spacingAndGlyphs">10</text>
<text x="398.3" y="554.91" font-size="6.4" text-anchor="middle" fill="#000" textLength="6.84" lengthAdjust="spacingAndGlyphs">20</text>
<text x="452.2" y="554.91" font-size="6.4" text-anchor="middle" fill="#000" textLength="6.84" lengthAdjust="spacingAndGlyphs">40</text>
<text x="344.2" y="564.14" font-size="6.8" text-anchor="middle" fill="#000" textLength="41.5" lengthAdjust="spacingAndGlyphs">Conc (µg/ml)</text>
<rect x="481.2" y="502.2" width="3.8" height="3.8" fill="#00A5EC" stroke="#333" stroke-width="0.5"/>
<text x="486.2" y="506.31" font-size="6.4" text-anchor="start" fill="#000" textLength="13.8" lengthAdjust="spacingAndGlyphs">HLF</text>
<rect x="481.2" y="512.7" width="3.8" height="3.8" fill="#FF0000" stroke="#333" stroke-width="0.5"/>
<text x="486.2" y="516.81" font-size="6.4" text-anchor="start" fill="#000" textLength="14.6" lengthAdjust="spacingAndGlyphs">HEK</text>
<text x="337.1" y="581.77" font-size="9.3" text-anchor="middle" fill="#000" textLength="141.5" lengthAdjust="spacingAndGlyphs">Human lung fibroblast (WI-38)</text>
<line x1="202.6" y1="592.1" x2="202.6" y2="685.7" stroke="#111" stroke-width="1.2"/>
<line x1="202" y1="685.1" x2="458" y2="685.1" stroke="#111" stroke-width="1.1"/>
<line x1="200" y1="685.1" x2="202.6" y2="685.1" stroke="#111" stroke-width="0.8"/>
<text x="197" y="687.21" font-size="6.4" text-anchor="end" fill="#000" textLength="3.45" lengthAdjust="spacingAndGlyphs">0</text>
<line x1="200" y1="674.77" x2="202.6" y2="674.77" stroke="#111" stroke-width="0.8"/>
<text x="197" y="676.88" font-size="6.4" text-anchor="end" fill="#000" textLength="6.9" lengthAdjust="spacingAndGlyphs">20</text>
<line x1="200" y1="664.43" x2="202.6" y2="664.43" stroke="#111" stroke-width="0.8"/>
<text x="197" y="666.55" font-size="6.4" text-anchor="end" fill="#000" textLength="6.9" lengthAdjust="spacingAndGlyphs">40</text>
<line x1="200" y1="654.1" x2="202.6" y2="654.1" stroke="#111" stroke-width="0.8"/>
<text x="197" y="656.21" font-size="6.4" text-anchor="end" fill="#000" textLength="6.9" lengthAdjust="spacingAndGlyphs">60</text>
<line x1="200" y1="643.77" x2="202.6" y2="643.77" stroke="#111" stroke-width="0.8"/>
<text x="197" y="645.88" font-size="6.4" text-anchor="end" fill="#000" textLength="6.9" lengthAdjust="spacingAndGlyphs">80</text>
<line x1="200" y1="633.43" x2="202.6" y2="633.43" stroke="#111" stroke-width="0.8"/>
<text x="197" y="635.55" font-size="6.4" text-anchor="end" fill="#000" textLength="10.35" lengthAdjust="spacingAndGlyphs">100</text>
<line x1="200" y1="623.1" x2="202.6" y2="623.1" stroke="#111" stroke-width="0.8"/>
<text x="197" y="625.21" font-size="6.4" text-anchor="end" fill="#000" textLength="10.35" lengthAdjust="spacingAndGlyphs">120</text>
<line x1="200" y1="612.77" x2="202.6" y2="612.77" stroke="#111" stroke-width="0.8"/>
<text x="197" y="614.88" font-size="6.4" text-anchor="end" fill="#000" textLength="10.35" lengthAdjust="spacingAndGlyphs">140</text>
<line x1="200" y1="602.43" x2="202.6" y2="602.43" stroke="#111" stroke-width="0.8"/>
<text x="197" y="604.55" font-size="6.4" text-anchor="end" fill="#000" textLength="10.35" lengthAdjust="spacingAndGlyphs">160</text>
<line x1="200" y1="592.1" x2="202.6" y2="592.1" stroke="#111" stroke-width="0.8"/>
<text x="197" y="594.21" font-size="6.4" text-anchor="end" fill="#000" textLength="10.35" lengthAdjust="spacingAndGlyphs">180</text>
<text transform="translate(180.6 638.6) rotate(-90)" x="0" y="2.44" font-size="7.4" text-anchor="middle" fill="#000" textLength="52" lengthAdjust="spacingAndGlyphs" style="stroke-width:0.3px">Cell viability (%)</text>
<line x1="207.94" y1="626.72" x2="207.94" y2="618.92" stroke="#8a8a8a" stroke-width="0.7"/>
<line x1="206.34" y1="618.92" x2="209.54" y2="618.92" stroke="#8a8a8a" stroke-width="0.7"/>
<rect x="206.15" y="626.72" width="3.59" height="58.38" fill="#000000" stroke="#222" stroke-width="0.5"/>
<line x1="212.03" y1="627.23" x2="212.03" y2="619.23" stroke="#8a8a8a" stroke-width="0.7"/>
<line x1="210.44" y1="619.23" x2="213.63" y2="619.23" stroke="#8a8a8a" stroke-width="0.7"/>
<rect x="210.24" y="627.23" width="3.59" height="57.87" fill="#FFFFFF" stroke="#222" stroke-width="0.5"/>
<line x1="216.12" y1="626.72" x2="216.12" y2="619.52" stroke="#8a8a8a" stroke-width="0.7"/>
<line x1="214.53" y1="619.52" x2="217.72" y2="619.52" stroke="#8a8a8a" stroke-width="0.7"/>
<rect x="214.33" y="626.72" width="3.59" height="58.38" fill="#FFFF00" stroke="#222" stroke-width="0.5"/>
<line x1="220.22" y1="613.59" x2="220.22" y2="604.09" stroke="#8a8a8a" stroke-width="0.7"/>
<line x1="218.62" y1="604.09" x2="221.81" y2="604.09" stroke="#8a8a8a" stroke-width="0.7"/>
<rect x="218.42" y="613.59" width="3.59" height="71.51" fill="#00B050" stroke="#222" stroke-width="0.5"/>
<line x1="224.3" y1="619.48" x2="224.3" y2="610.58" stroke="#8a8a8a" stroke-width="0.7"/>
<line x1="222.7" y1="610.58" x2="225.9" y2="610.58" stroke="#8a8a8a" stroke-width="0.7"/>
<rect x="222.51" y="619.48" width="3.59" height="65.62" fill="#00B0F0" stroke="#222" stroke-width="0.5"/>
<line x1="228.39" y1="616.23" x2="228.39" y2="606.23" stroke="#8a8a8a" stroke-width="0.7"/>
<line x1="226.79" y1="606.23" x2="229.99" y2="606.23" stroke="#8a8a8a" stroke-width="0.7"/>
<rect x="226.6" y="616.23" width="3.59" height="68.87" fill="#FF0000" stroke="#222" stroke-width="0.5"/>
<line x1="232.48" y1="627.23" x2="232.48" y2="621.13" stroke="#8a8a8a" stroke-width="0.7"/>
<line x1="230.88" y1="621.13" x2="234.08" y2="621.13" stroke="#8a8a8a" stroke-width="0.7"/>
<rect x="230.69" y="627.23" width="3.59" height="57.87" fill="#7030A0" stroke="#222" stroke-width="0.5"/>
<line x1="236.57" y1="624.91" x2="236.57" y2="616.71" stroke="#8a8a8a" stroke-width="0.7"/>
<line x1="234.97" y1="616.71" x2="238.17" y2="616.71" stroke="#8a8a8a" stroke-width="0.7"/>
<rect x="234.78" y="624.91" width="3.59" height="60.19" fill="#9C4A10" stroke="#222" stroke-width="0.5"/>
<line x1="240.66" y1="621.03" x2="240.66" y2="613.03" stroke="#8a8a8a" stroke-width="0.7"/>
<line x1="239.06" y1="613.03" x2="242.26" y2="613.03" stroke="#8a8a8a" stroke-width="0.7"/>
<rect x="238.87" y="621.03" width="3.59" height="64.07" fill="#E0E0E0" stroke="#222" stroke-width="0.5"/>
<line x1="244.75" y1="614.94" x2="244.75" y2="605.44" stroke="#8a8a8a" stroke-width="0.7"/>
<line x1="243.16" y1="605.44" x2="246.35" y2="605.44" stroke="#8a8a8a" stroke-width="0.7"/>
<rect x="242.96" y="614.94" width="3.59" height="70.16" fill="#3F3F3F" stroke="#222" stroke-width="0.5"/>
<line x1="248.84" y1="626.2" x2="248.84" y2="619.2" stroke="#8a8a8a" stroke-width="0.7"/>
<line x1="247.25" y1="619.2" x2="250.44" y2="619.2" stroke="#8a8a8a" stroke-width="0.7"/>
<rect x="247.05" y="626.2" width="3.59" height="58.9" fill="#2F5597" stroke="#222" stroke-width="0.5"/>
<text transform="translate(207.04 616.49) scale(1.04 1)" x="0" y="0" font-size="7.2" text-anchor="middle" fill="#111">e</text>
<text transform="translate(211.13 616.81) scale(1.04 1)" x="0" y="0" font-size="7.2" text-anchor="middle" fill="#111">e</text>
<text transform="translate(215.22 617.09) scale(1.04 1)" x="0" y="0" font-size="7.2" text-anchor="middle" fill="#111">e</text>
<text transform="translate(219.31 601.67) scale(1.04 1)" x="0" y="0" font-size="7.2" text-anchor="middle" fill="#111">e</text>
<text transform="translate(223.4 608.16) scale(1.04 1)" x="0" y="0" font-size="7.2" text-anchor="middle" fill="#111">e</text>
<text transform="translate(227.49 603.8) scale(1.04 1)" x="0" y="0" font-size="7.2" text-anchor="middle" fill="#111">e</text>
<text transform="translate(231.58 618.71) scale(1.04 1)" x="0" y="0" font-size="7.2" text-anchor="middle" fill="#111">e</text>
<text transform="translate(235.67 614.28) scale(1.04 1)" x="0" y="0" font-size="7.2" text-anchor="middle" fill="#111">e</text>
<text transform="translate(239.76 610.61) scale(1.04 1)" x="0" y="0" font-size="7.2" text-anchor="middle" fill="#111">e</text>
<text transform="translate(243.85 603.01) scale(1.04 1)" x="0" y="0" font-size="7.2" text-anchor="middle" fill="#111">e</text>
<text transform="translate(247.94 616.78) scale(1.04 1)" x="0" y="0" font-size="7.2" text-anchor="middle" fill="#111">e</text>
<line x1="258.85" y1="642.01" x2="258.85" y2="634.51" stroke="#8a8a8a" stroke-width="0.7"/>
<line x1="257.25" y1="634.51" x2="260.45" y2="634.51" stroke="#8a8a8a" stroke-width="0.7"/>
<rect x="257.05" y="642.01" width="3.59" height="43.09" fill="#000000" stroke="#222" stroke-width="0.5"/>
<line x1="262.94" y1="633.95" x2="262.94" y2="626.75" stroke="#8a8a8a" stroke-width="0.7"/>
<line x1="261.33" y1="626.75" x2="264.54" y2="626.75" stroke="#8a8a8a" stroke-width="0.7"/>
<rect x="261.14" y="633.95" width="3.59" height="51.15" fill="#FFFFFF" stroke="#222" stroke-width="0.5"/>
<line x1="267.03" y1="633.43" x2="267.03" y2="625.83" stroke="#8a8a8a" stroke-width="0.7"/>
<line x1="265.43" y1="625.83" x2="268.63" y2="625.83" stroke="#8a8a8a" stroke-width="0.7"/>
<rect x="265.23" y="633.43" width="3.59" height="51.67" fill="#FFFF00" stroke="#222" stroke-width="0.5"/>
<line x1="271.12" y1="624.65" x2="271.12" y2="615.45" stroke="#8a8a8a" stroke-width="0.7"/>
<line x1="269.51" y1="615.45" x2="272.72" y2="615.45" stroke="#8a8a8a" stroke-width="0.7"/>
<rect x="269.32" y="624.65" width="3.59" height="60.45" fill="#00B050" stroke="#222" stroke-width="0.5"/>
<line x1="275.21" y1="633.43" x2="275.21" y2="625.23" stroke="#8a8a8a" stroke-width="0.7"/>
<line x1="273.61" y1="625.23" x2="276.81" y2="625.23" stroke="#8a8a8a" stroke-width="0.7"/>
<rect x="273.41" y="633.43" width="3.59" height="51.67" fill="#00B0F0" stroke="#222" stroke-width="0.5"/>
<line x1="279.3" y1="626.2" x2="279.3" y2="616.5" stroke="#8a8a8a" stroke-width="0.7"/>
<line x1="277.69" y1="616.5" x2="280.9" y2="616.5" stroke="#8a8a8a" stroke-width="0.7"/>
<rect x="277.5" y="626.2" width="3.59" height="58.9" fill="#FF0000" stroke="#222" stroke-width="0.5"/>
<line x1="283.39" y1="640.41" x2="283.39" y2="634.21" stroke="#8a8a8a" stroke-width="0.7"/>
<line x1="281.79" y1="634.21" x2="284.99" y2="634.21" stroke="#8a8a8a" stroke-width="0.7"/>
<rect x="281.59" y="640.41" width="3.59" height="44.69" fill="#7030A0" stroke="#222" stroke-width="0.5"/>
<line x1="287.48" y1="639.12" x2="287.48" y2="631.52" stroke="#8a8a8a" stroke-width="0.7"/>
<line x1="285.88" y1="631.52" x2="289.08" y2="631.52" stroke="#8a8a8a" stroke-width="0.7"/>
<rect x="285.68" y="639.12" width="3.59" height="45.98" fill="#9C4A10" stroke="#222" stroke-width="0.5"/>
<line x1="291.56" y1="628.78" x2="291.56" y2="620.58" stroke="#8a8a8a" stroke-width="0.7"/>
<line x1="289.96" y1="620.58" x2="293.17" y2="620.58" stroke="#8a8a8a" stroke-width="0.7"/>
<rect x="289.77" y="628.78" width="3.59" height="56.32" fill="#7F7F7F" stroke="#222" stroke-width="0.5"/>
<line x1="295.66" y1="627.23" x2="295.66" y2="617.93" stroke="#8a8a8a" stroke-width="0.7"/>
<line x1="294.06" y1="617.93" x2="297.26" y2="617.93" stroke="#8a8a8a" stroke-width="0.7"/>
<rect x="293.86" y="627.23" width="3.59" height="57.87" fill="#3F3F3F" stroke="#222" stroke-width="0.5"/>
<line x1="299.75" y1="633.43" x2="299.75" y2="626.23" stroke="#8a8a8a" stroke-width="0.7"/>
<line x1="298.14" y1="626.23" x2="301.35" y2="626.23" stroke="#8a8a8a" stroke-width="0.7"/>
<rect x="297.95" y="633.43" width="3.59" height="51.67" fill="#2F5597" stroke="#222" stroke-width="0.5"/>
<text transform="translate(257.95 632.09) scale(1.04 1)" x="0" y="0" font-size="7.2" text-anchor="middle" fill="#111">d</text>
<text transform="translate(262.04 624.33) scale(1.04 1)" x="0" y="0" font-size="7.2" text-anchor="middle" fill="#111">d</text>
<text transform="translate(266.13 623.41) scale(1.04 1)" x="0" y="0" font-size="7.2" text-anchor="middle" fill="#111">d</text>
<text transform="translate(270.22 613.03) scale(1.04 1)" x="0" y="0" font-size="7.2" text-anchor="middle" fill="#111">d</text>
<text transform="translate(274.31 622.81) scale(1.04 1)" x="0" y="0" font-size="7.2" text-anchor="middle" fill="#111">d</text>
<text transform="translate(278.4 614.08) scale(1.04 1)" x="0" y="0" font-size="7.2" text-anchor="middle" fill="#111">d</text>
<text transform="translate(282.49 631.78) scale(1.04 1)" x="0" y="0" font-size="7.2" text-anchor="middle" fill="#111">d</text>
<text transform="translate(286.58 629.09) scale(1.04 1)" x="0" y="0" font-size="7.2" text-anchor="middle" fill="#111">d</text>
<text transform="translate(290.67 618.16) scale(1.04 1)" x="0" y="0" font-size="7.2" text-anchor="middle" fill="#111">d</text>
<text transform="translate(294.76 615.51) scale(1.04 1)" x="0" y="0" font-size="7.2" text-anchor="middle" fill="#111">d</text>
<text transform="translate(298.85 623.81) scale(1.04 1)" x="0" y="0" font-size="7.2" text-anchor="middle" fill="#111">d</text>
<line x1="309.75" y1="654.31" x2="309.75" y2="646.51" stroke="#8a8a8a" stroke-width="0.7"/>
<line x1="308.14" y1="646.51" x2="311.35" y2="646.51" stroke="#8a8a8a" stroke-width="0.7"/>
<rect x="307.95" y="654.31" width="3.59" height="30.79" fill="#000000" stroke="#222" stroke-width="0.5"/>
<line x1="313.83" y1="643.04" x2="313.83" y2="635.84" stroke="#8a8a8a" stroke-width="0.7"/>
<line x1="312.23" y1="635.84" x2="315.44" y2="635.84" stroke="#8a8a8a" stroke-width="0.7"/>
<rect x="312.04" y="643.04" width="3.59" height="42.06" fill="#FFFFFF" stroke="#222" stroke-width="0.5"/>
<line x1="317.93" y1="639.38" x2="317.93" y2="631.77" stroke="#8a8a8a" stroke-width="0.7"/>
<line x1="316.32" y1="631.77" x2="319.53" y2="631.77" stroke="#8a8a8a" stroke-width="0.7"/>
<rect x="316.13" y="639.38" width="3.59" height="45.73" fill="#FFFF00" stroke="#222" stroke-width="0.5"/>
<line x1="322.01" y1="643.25" x2="322.01" y2="635.05" stroke="#8a8a8a" stroke-width="0.7"/>
<line x1="320.41" y1="635.05" x2="323.62" y2="635.05" stroke="#8a8a8a" stroke-width="0.7"/>
<rect x="320.22" y="643.25" width="3.59" height="41.85" fill="#00B050" stroke="#222" stroke-width="0.5"/>
<line x1="326.11" y1="641.18" x2="326.11" y2="633.38" stroke="#8a8a8a" stroke-width="0.7"/>
<line x1="324.5" y1="633.38" x2="327.71" y2="633.38" stroke="#8a8a8a" stroke-width="0.7"/>
<rect x="324.31" y="641.18" width="3.59" height="43.92" fill="#00B0F0" stroke="#222" stroke-width="0.5"/>
<line x1="330.19" y1="641.18" x2="330.19" y2="632.48" stroke="#8a8a8a" stroke-width="0.7"/>
<line x1="328.59" y1="632.48" x2="331.8" y2="632.48" stroke="#8a8a8a" stroke-width="0.7"/>
<rect x="328.4" y="641.18" width="3.59" height="43.92" fill="#FF0000" stroke="#222" stroke-width="0.5"/>
<line x1="334.29" y1="648.42" x2="334.29" y2="641.62" stroke="#8a8a8a" stroke-width="0.7"/>
<line x1="332.69" y1="641.62" x2="335.89" y2="641.62" stroke="#8a8a8a" stroke-width="0.7"/>
<rect x="332.49" y="648.42" width="3.59" height="36.68" fill="#7030A0" stroke="#222" stroke-width="0.5"/>
<line x1="338.38" y1="653.58" x2="338.38" y2="645.78" stroke="#8a8a8a" stroke-width="0.7"/>
<line x1="336.77" y1="645.78" x2="339.98" y2="645.78" stroke="#8a8a8a" stroke-width="0.7"/>
<rect x="336.58" y="653.58" width="3.59" height="31.52" fill="#9C4A10" stroke="#222" stroke-width="0.5"/>
<line x1="342.46" y1="643.25" x2="342.46" y2="634.75" stroke="#8a8a8a" stroke-width="0.7"/>
<line x1="340.86" y1="634.75" x2="344.06" y2="634.75" stroke="#8a8a8a" stroke-width="0.7"/>
<rect x="340.67" y="643.25" width="3.59" height="41.85" fill="#7F7F7F" stroke="#222" stroke-width="0.5"/>
<line x1="346.56" y1="638.6" x2="346.56" y2="629.8" stroke="#8a8a8a" stroke-width="0.7"/>
<line x1="344.95" y1="629.8" x2="348.16" y2="629.8" stroke="#8a8a8a" stroke-width="0.7"/>
<rect x="344.76" y="638.6" width="3.59" height="46.5" fill="#3F3F3F" stroke="#222" stroke-width="0.5"/>
<line x1="350.64" y1="643.25" x2="350.64" y2="635.75" stroke="#8a8a8a" stroke-width="0.7"/>
<line x1="349.04" y1="635.75" x2="352.25" y2="635.75" stroke="#8a8a8a" stroke-width="0.7"/>
<rect x="348.85" y="643.25" width="3.59" height="41.85" fill="#2F5597" stroke="#222" stroke-width="0.5"/>
<text transform="translate(308.85 644.08) scale(1.04 1)" x="0" y="0" font-size="7.2" text-anchor="middle" fill="#111">c</text>
<text transform="translate(312.94 633.42) scale(1.04 1)" x="0" y="0" font-size="7.2" text-anchor="middle" fill="#111">c</text>
<text transform="translate(317.03 629.35) scale(1.04 1)" x="0" y="0" font-size="7.2" text-anchor="middle" fill="#111">c</text>
<text transform="translate(321.12 632.63) scale(1.04 1)" x="0" y="0" font-size="7.2" text-anchor="middle" fill="#111">c</text>
<text transform="translate(325.21 630.96) scale(1.04 1)" x="0" y="0" font-size="7.2" text-anchor="middle" fill="#111">c</text>
<text transform="translate(329.3 630.06) scale(1.04 1)" x="0" y="0" font-size="7.2" text-anchor="middle" fill="#111">c</text>
<text transform="translate(333.39 639.19) scale(1.04 1)" x="0" y="0" font-size="7.2" text-anchor="middle" fill="#111">c</text>
<text transform="translate(337.48 643.36) scale(1.04 1)" x="0" y="0" font-size="7.2" text-anchor="middle" fill="#111">c</text>
<text transform="translate(341.56 632.33) scale(1.04 1)" x="0" y="0" font-size="7.2" text-anchor="middle" fill="#111">c</text>
<text transform="translate(345.66 627.38) scale(1.04 1)" x="0" y="0" font-size="7.2" text-anchor="middle" fill="#111">c</text>
<text transform="translate(349.75 633.33) scale(1.04 1)" x="0" y="0" font-size="7.2" text-anchor="middle" fill="#111">c</text>
<line x1="360.55" y1="664.85" x2="360.55" y2="657.65" stroke="#8a8a8a" stroke-width="0.7"/>
<line x1="358.94" y1="657.65" x2="362.15" y2="657.65" stroke="#8a8a8a" stroke-width="0.7"/>
<rect x="358.75" y="664.85" width="3.59" height="20.25" fill="#000000" stroke="#222" stroke-width="0.5"/>
<line x1="364.63" y1="653.58" x2="364.63" y2="645.98" stroke="#8a8a8a" stroke-width="0.7"/>
<line x1="363.03" y1="645.98" x2="366.24" y2="645.98" stroke="#8a8a8a" stroke-width="0.7"/>
<rect x="362.84" y="653.58" width="3.59" height="31.52" fill="#FFFFFF" stroke="#222" stroke-width="0.5"/>
<line x1="368.73" y1="653.58" x2="368.73" y2="646.38" stroke="#8a8a8a" stroke-width="0.7"/>
<line x1="367.12" y1="646.38" x2="370.33" y2="646.38" stroke="#8a8a8a" stroke-width="0.7"/>
<rect x="366.93" y="653.58" width="3.59" height="31.52" fill="#FFFF00" stroke="#222" stroke-width="0.5"/>
<line x1="372.81" y1="652.24" x2="372.81" y2="643.84" stroke="#8a8a8a" stroke-width="0.7"/>
<line x1="371.21" y1="643.84" x2="374.42" y2="643.84" stroke="#8a8a8a" stroke-width="0.7"/>
<rect x="371.02" y="652.24" width="3.59" height="32.86" fill="#00B050" stroke="#222" stroke-width="0.5"/>
<line x1="376.91" y1="654.36" x2="376.91" y2="646.96" stroke="#8a8a8a" stroke-width="0.7"/>
<line x1="375.31" y1="646.96" x2="378.51" y2="646.96" stroke="#8a8a8a" stroke-width="0.7"/>
<rect x="375.11" y="654.36" width="3.59" height="30.74" fill="#00B0F0" stroke="#222" stroke-width="0.5"/>
<line x1="381" y1="657.72" x2="381" y2="649.92" stroke="#8a8a8a" stroke-width="0.7"/>
<line x1="379.39" y1="649.92" x2="382.6" y2="649.92" stroke="#8a8a8a" stroke-width="0.7"/>
<rect x="379.2" y="657.72" width="3.59" height="27.38" fill="#FF0000" stroke="#222" stroke-width="0.5"/>
<line x1="385.09" y1="654.88" x2="385.09" y2="647.27" stroke="#8a8a8a" stroke-width="0.7"/>
<line x1="383.49" y1="647.27" x2="386.69" y2="647.27" stroke="#8a8a8a" stroke-width="0.7"/>
<rect x="383.29" y="654.88" width="3.59" height="30.23" fill="#7030A0" stroke="#222" stroke-width="0.5"/>
<line x1="389.18" y1="664.43" x2="389.18" y2="656.23" stroke="#8a8a8a" stroke-width="0.7"/>
<line x1="387.57" y1="656.23" x2="390.78" y2="656.23" stroke="#8a8a8a" stroke-width="0.7"/>
<rect x="387.38" y="664.43" width="3.59" height="20.67" fill="#9C4A10" stroke="#222" stroke-width="0.5"/>
<line x1="393.27" y1="651.72" x2="393.27" y2="642.72" stroke="#8a8a8a" stroke-width="0.7"/>
<line x1="391.67" y1="642.72" x2="394.87" y2="642.72" stroke="#8a8a8a" stroke-width="0.7"/>
<rect x="391.47" y="651.72" width="3.59" height="33.38" fill="#7F7F7F" stroke="#222" stroke-width="0.5"/>
<line x1="397.36" y1="652.24" x2="397.36" y2="643.24" stroke="#8a8a8a" stroke-width="0.7"/>
<line x1="395.75" y1="643.24" x2="398.96" y2="643.24" stroke="#8a8a8a" stroke-width="0.7"/>
<rect x="395.56" y="652.24" width="3.59" height="32.86" fill="#3F3F3F" stroke="#222" stroke-width="0.5"/>
<line x1="401.44" y1="651.72" x2="401.44" y2="642.92" stroke="#8a8a8a" stroke-width="0.7"/>
<line x1="399.84" y1="642.92" x2="403.05" y2="642.92" stroke="#8a8a8a" stroke-width="0.7"/>
<rect x="399.65" y="651.72" width="3.59" height="33.38" fill="#2F5597" stroke="#222" stroke-width="0.5"/>
<text transform="translate(359.65 655.22) scale(1.04 1)" x="0" y="0" font-size="7.2" text-anchor="middle" fill="#111">b</text>
<text transform="translate(363.74 643.56) scale(1.04 1)" x="0" y="0" font-size="7.2" text-anchor="middle" fill="#111">b</text>
<text transform="translate(367.83 643.96) scale(1.04 1)" x="0" y="0" font-size="7.2" text-anchor="middle" fill="#111">b</text>
<text transform="translate(371.92 641.42) scale(1.04 1)" x="0" y="0" font-size="7.2" text-anchor="middle" fill="#111">b</text>
<text transform="translate(376.01 644.53) scale(1.04 1)" x="0" y="0" font-size="7.2" text-anchor="middle" fill="#111">b</text>
<text transform="translate(380.1 647.49) scale(1.04 1)" x="0" y="0" font-size="7.2" text-anchor="middle" fill="#111">b</text>
<text transform="translate(384.19 644.85) scale(1.04 1)" x="0" y="0" font-size="7.2" text-anchor="middle" fill="#111">b</text>
<text transform="translate(388.28 653.81) scale(1.04 1)" x="0" y="0" font-size="7.2" text-anchor="middle" fill="#111">b</text>
<text transform="translate(392.37 640.3) scale(1.04 1)" x="0" y="0" font-size="7.2" text-anchor="middle" fill="#111">b</text>
<text transform="translate(396.46 640.82) scale(1.04 1)" x="0" y="0" font-size="7.2" text-anchor="middle" fill="#111">b</text>
<text transform="translate(400.55 640.5) scale(1.04 1)" x="0" y="0" font-size="7.2" text-anchor="middle" fill="#111">b</text>
<line x1="412.25" y1="670.63" x2="412.25" y2="662.63" stroke="#8a8a8a" stroke-width="0.7"/>
<line x1="410.64" y1="662.63" x2="413.85" y2="662.63" stroke="#8a8a8a" stroke-width="0.7"/>
<rect x="410.45" y="670.63" width="3.59" height="14.47" fill="#000000" stroke="#222" stroke-width="0.5"/>
<line x1="416.33" y1="669.6" x2="416.33" y2="661.6" stroke="#8a8a8a" stroke-width="0.7"/>
<line x1="414.73" y1="661.6" x2="417.94" y2="661.6" stroke="#8a8a8a" stroke-width="0.7"/>
<rect x="414.54" y="669.6" width="3.59" height="15.5" fill="#FFFFFF" stroke="#222" stroke-width="0.5"/>
<line x1="420.43" y1="668.83" x2="420.43" y2="660.83" stroke="#8a8a8a" stroke-width="0.7"/>
<line x1="418.82" y1="660.83" x2="422.03" y2="660.83" stroke="#8a8a8a" stroke-width="0.7"/>
<rect x="418.63" y="668.83" width="3.59" height="16.27" fill="#FFFF00" stroke="#222" stroke-width="0.5"/>
<line x1="424.51" y1="666.19" x2="424.51" y2="657.69" stroke="#8a8a8a" stroke-width="0.7"/>
<line x1="422.91" y1="657.69" x2="426.12" y2="657.69" stroke="#8a8a8a" stroke-width="0.7"/>
<rect x="422.72" y="666.19" width="3.59" height="18.91" fill="#00B050" stroke="#222" stroke-width="0.5"/>
<line x1="428.61" y1="667.53" x2="428.61" y2="660.03" stroke="#8a8a8a" stroke-width="0.7"/>
<line x1="427" y1="660.03" x2="430.21" y2="660.03" stroke="#8a8a8a" stroke-width="0.7"/>
<rect x="426.81" y="667.53" width="3.59" height="17.57" fill="#00B0F0" stroke="#222" stroke-width="0.5"/>
<line x1="432.69" y1="668.05" x2="432.69" y2="659.45" stroke="#8a8a8a" stroke-width="0.7"/>
<line x1="431.09" y1="659.45" x2="434.3" y2="659.45" stroke="#8a8a8a" stroke-width="0.7"/>
<rect x="430.9" y="668.05" width="3.59" height="17.05" fill="#FF0000" stroke="#222" stroke-width="0.5"/>
<line x1="436.79" y1="661.44" x2="436.79" y2="655.94" stroke="#8a8a8a" stroke-width="0.7"/>
<line x1="435.19" y1="655.94" x2="438.39" y2="655.94" stroke="#8a8a8a" stroke-width="0.7"/>
<rect x="434.99" y="661.44" width="3.59" height="23.66" fill="#7030A0" stroke="#222" stroke-width="0.5"/>
<line x1="440.88" y1="670.63" x2="440.88" y2="662.33" stroke="#8a8a8a" stroke-width="0.7"/>
<line x1="439.27" y1="662.33" x2="442.48" y2="662.33" stroke="#8a8a8a" stroke-width="0.7"/>
<rect x="439.08" y="670.63" width="3.59" height="14.47" fill="#9C4A10" stroke="#222" stroke-width="0.5"/>
<line x1="444.96" y1="667.53" x2="444.96" y2="659.53" stroke="#8a8a8a" stroke-width="0.7"/>
<line x1="443.36" y1="659.53" x2="446.56" y2="659.53" stroke="#8a8a8a" stroke-width="0.7"/>
<rect x="443.17" y="667.53" width="3.59" height="17.57" fill="#7F7F7F" stroke="#222" stroke-width="0.5"/>
<line x1="449.06" y1="668.21" x2="449.06" y2="659.71" stroke="#8a8a8a" stroke-width="0.7"/>
<line x1="447.45" y1="659.71" x2="450.66" y2="659.71" stroke="#8a8a8a" stroke-width="0.7"/>
<rect x="447.26" y="668.21" width="3.59" height="16.89" fill="#3F3F3F" stroke="#222" stroke-width="0.5"/>
<line x1="453.14" y1="664.07" x2="453.14" y2="657.07" stroke="#8a8a8a" stroke-width="0.7"/>
<line x1="451.54" y1="657.07" x2="454.75" y2="657.07" stroke="#8a8a8a" stroke-width="0.7"/>
<rect x="451.35" y="664.07" width="3.59" height="21.03" fill="#2F5597" stroke="#222" stroke-width="0.5"/>
<text transform="translate(411.35 660.21) scale(1.04 1)" x="0" y="0" font-size="7.2" text-anchor="middle" fill="#111">a</text>
<text transform="translate(415.44 659.18) scale(1.04 1)" x="0" y="0" font-size="7.2" text-anchor="middle" fill="#111">a</text>
<text transform="translate(419.53 658.4) scale(1.04 1)" x="0" y="0" font-size="7.2" text-anchor="middle" fill="#111">a</text>
<text transform="translate(423.62 655.27) scale(1.04 1)" x="0" y="0" font-size="7.2" text-anchor="middle" fill="#111">a</text>
<text transform="translate(427.71 657.61) scale(1.04 1)" x="0" y="0" font-size="7.2" text-anchor="middle" fill="#111">a</text>
<text transform="translate(431.8 657.03) scale(1.04 1)" x="0" y="0" font-size="7.2" text-anchor="middle" fill="#111">a</text>
<text transform="translate(435.89 653.51) scale(1.04 1)" x="0" y="0" font-size="7.2" text-anchor="middle" fill="#111">a</text>
<text transform="translate(439.98 659.91) scale(1.04 1)" x="0" y="0" font-size="7.2" text-anchor="middle" fill="#111">a</text>
<text transform="translate(444.06 657.11) scale(1.04 1)" x="0" y="0" font-size="7.2" text-anchor="middle" fill="#111">a</text>
<text transform="translate(448.16 657.28) scale(1.04 1)" x="0" y="0" font-size="7.2" text-anchor="middle" fill="#111">a</text>
<text transform="translate(452.25 654.65) scale(1.04 1)" x="0" y="0" font-size="7.2" text-anchor="middle" fill="#111">a</text>
<text x="228.3" y="694.61" font-size="6.4" text-anchor="middle" fill="#000" textLength="10.26" lengthAdjust="spacingAndGlyphs">100</text>
<text x="279" y="694.61" font-size="6.4" text-anchor="middle" fill="#000" textLength="10.26" lengthAdjust="spacingAndGlyphs">500</text>
<text x="330.3" y="694.61" font-size="6.4" text-anchor="middle" fill="#000" textLength="13.68" lengthAdjust="spacingAndGlyphs">1250</text>
<text x="381.8" y="694.61" font-size="6.4" text-anchor="middle" fill="#000" textLength="13.68" lengthAdjust="spacingAndGlyphs">2500</text>
<text x="432.5" y="694.61" font-size="6.4" text-anchor="middle" fill="#000" textLength="13.68" lengthAdjust="spacingAndGlyphs">5000</text>
<text x="330.4" y="703.84" font-size="6.8" text-anchor="middle" fill="#000" textLength="41.5" lengthAdjust="spacingAndGlyphs">Conc (µg/ml)</text>
<rect x="469.6" y="594" width="3.4" height="3.4" fill="#000000" stroke="#444" stroke-width="0.5"/>
<text x="474.7" y="597.85" font-size="6.5" text-anchor="start" fill="#000" textLength="8.6" lengthAdjust="spacingAndGlyphs">CS</text>
<rect x="469.6" y="604.72" width="3.4" height="3.4" fill="#FFFFFF" stroke="#444" stroke-width="0.5"/>
<text x="474.7" y="608.57" font-size="6.5" text-anchor="start" fill="#000" textLength="15.2" lengthAdjust="spacingAndGlyphs">C.CS</text>
<rect x="469.6" y="615.44" width="3.4" height="3.4" fill="#FFFF00" stroke="#444" stroke-width="0.5"/>
<text x="474.7" y="619.29" font-size="6.5" text-anchor="start" fill="#000" textLength="6" lengthAdjust="spacingAndGlyphs">Iv</text>
<rect x="469.6" y="626.16" width="3.4" height="3.4" fill="#00B050" stroke="#444" stroke-width="0.5"/>
<text x="474.7" y="630" font-size="6.5" text-anchor="start" fill="#000" textLength="17" lengthAdjust="spacingAndGlyphs">Iv-CS</text>
<rect x="469.6" y="636.88" width="3.4" height="3.4" fill="#00B0F0" stroke="#444" stroke-width="0.5"/>
<text x="474.7" y="640.73" font-size="6.5" text-anchor="start" fill="#000" textLength="23.6" lengthAdjust="spacingAndGlyphs">Iv-C.CS</text>
<rect x="469.6" y="647.6" width="3.4" height="3.4" fill="#FF0000" stroke="#444" stroke-width="0.5"/>
<text x="474.7" y="651.45" font-size="6.5" text-anchor="start" fill="#000" textLength="6.6" lengthAdjust="spacingAndGlyphs">Sc</text>
<rect x="469.6" y="658.32" width="3.4" height="3.4" fill="#7030A0" stroke="#444" stroke-width="0.5"/>
<text x="474.7" y="662.17" font-size="6.5" text-anchor="start" fill="#000" textLength="17.6" lengthAdjust="spacingAndGlyphs">Sc-CS</text>
<rect x="469.6" y="669.04" width="3.4" height="3.4" fill="#9C4A10" stroke="#444" stroke-width="0.5"/>
<text x="474.7" y="672.88" font-size="6.5" text-anchor="start" fill="#000" textLength="24.2" lengthAdjust="spacingAndGlyphs">Sc-C.CS</text>
<rect x="469.6" y="679.76" width="3.4" height="3.4" fill="#7F7F7F" stroke="#444" stroke-width="0.5"/>
<text x="474.7" y="683.61" font-size="6.5" text-anchor="start" fill="#000" textLength="8.6" lengthAdjust="spacingAndGlyphs">Gg</text>
<rect x="469.6" y="690.48" width="3.4" height="3.4" fill="#3F3F3F" stroke="#444" stroke-width="0.5"/>
<text x="474.7" y="694.33" font-size="6.5" text-anchor="start" fill="#000" textLength="19.6" lengthAdjust="spacingAndGlyphs">Gg-CS</text>
<rect x="469.6" y="701.2" width="3.4" height="3.4" fill="#2F5597" stroke="#444" stroke-width="0.5"/>
<text x="474.7" y="705.05" font-size="6.5" text-anchor="start" fill="#000" textLength="26.2" lengthAdjust="spacingAndGlyphs">Gg-C.CS</text>
<text x="337.7" y="727.17" font-size="9.3" text-anchor="middle" fill="#000" textLength="168" lengthAdjust="spacingAndGlyphs">Human embryonic kidney (HEK 293)</text>
<line x1="202.6" y1="737.8" x2="202.6" y2="831.1" stroke="#111" stroke-width="1.2"/>
<line x1="202" y1="830.5" x2="458" y2="830.5" stroke="#111" stroke-width="1.1"/>
<line x1="200" y1="830.5" x2="202.6" y2="830.5" stroke="#111" stroke-width="0.8"/>
<text x="197" y="832.61" font-size="6.4" text-anchor="end" fill="#000" textLength="3.45" lengthAdjust="spacingAndGlyphs">0</text>
<line x1="200" y1="820.2" x2="202.6" y2="820.2" stroke="#111" stroke-width="0.8"/>
<text x="197" y="822.31" font-size="6.4" text-anchor="end" fill="#000" textLength="6.9" lengthAdjust="spacingAndGlyphs">20</text>
<line x1="200" y1="809.9" x2="202.6" y2="809.9" stroke="#111" stroke-width="0.8"/>
<text x="197" y="812.01" font-size="6.4" text-anchor="end" fill="#000" textLength="6.9" lengthAdjust="spacingAndGlyphs">40</text>
<line x1="200" y1="799.6" x2="202.6" y2="799.6" stroke="#111" stroke-width="0.8"/>
<text x="197" y="801.71" font-size="6.4" text-anchor="end" fill="#000" textLength="6.9" lengthAdjust="spacingAndGlyphs">60</text>
<line x1="200" y1="789.3" x2="202.6" y2="789.3" stroke="#111" stroke-width="0.8"/>
<text x="197" y="791.41" font-size="6.4" text-anchor="end" fill="#000" textLength="6.9" lengthAdjust="spacingAndGlyphs">80</text>
<line x1="200" y1="779" x2="202.6" y2="779" stroke="#111" stroke-width="0.8"/>
<text x="197" y="781.11" font-size="6.4" text-anchor="end" fill="#000" textLength="10.35" lengthAdjust="spacingAndGlyphs">100</text>
<line x1="200" y1="768.7" x2="202.6" y2="768.7" stroke="#111" stroke-width="0.8"/>
<text x="197" y="770.81" font-size="6.4" text-anchor="end" fill="#000" textLength="10.35" lengthAdjust="spacingAndGlyphs">120</text>
<line x1="200" y1="758.4" x2="202.6" y2="758.4" stroke="#111" stroke-width="0.8"/>
<text x="197" y="760.51" font-size="6.4" text-anchor="end" fill="#000" textLength="10.35" lengthAdjust="spacingAndGlyphs">140</text>
<line x1="200" y1="748.1" x2="202.6" y2="748.1" stroke="#111" stroke-width="0.8"/>
<text x="197" y="750.21" font-size="6.4" text-anchor="end" fill="#000" textLength="10.35" lengthAdjust="spacingAndGlyphs">160</text>
<line x1="200" y1="737.8" x2="202.6" y2="737.8" stroke="#111" stroke-width="0.8"/>
<text x="197" y="739.91" font-size="6.4" text-anchor="end" fill="#000" textLength="10.35" lengthAdjust="spacingAndGlyphs">180</text>
<text transform="translate(180.6 784.15) rotate(-90)" x="0" y="2.44" font-size="7.4" text-anchor="middle" fill="#000" textLength="52" lengthAdjust="spacingAndGlyphs" style="stroke-width:0.3px">Cell viability (%)</text>
<line x1="207.94" y1="773.54" x2="207.94" y2="766.04" stroke="#8a8a8a" stroke-width="0.7"/>
<line x1="206.34" y1="766.04" x2="209.54" y2="766.04" stroke="#8a8a8a" stroke-width="0.7"/>
<rect x="206.15" y="773.54" width="3.59" height="56.96" fill="#000000" stroke="#222" stroke-width="0.5"/>
<line x1="212.03" y1="772.3" x2="212.03" y2="764.3" stroke="#8a8a8a" stroke-width="0.7"/>
<line x1="210.44" y1="764.3" x2="213.63" y2="764.3" stroke="#8a8a8a" stroke-width="0.7"/>
<rect x="210.24" y="772.3" width="3.59" height="58.2" fill="#FFFFFF" stroke="#222" stroke-width="0.5"/>
<line x1="216.12" y1="757.52" x2="216.12" y2="748.02" stroke="#8a8a8a" stroke-width="0.7"/>
<line x1="214.53" y1="748.02" x2="217.72" y2="748.02" stroke="#8a8a8a" stroke-width="0.7"/>
<rect x="214.33" y="757.52" width="3.59" height="72.98" fill="#FFFF00" stroke="#222" stroke-width="0.5"/>
<line x1="220.22" y1="765.4" x2="220.22" y2="756.9" stroke="#8a8a8a" stroke-width="0.7"/>
<line x1="218.62" y1="756.9" x2="221.81" y2="756.9" stroke="#8a8a8a" stroke-width="0.7"/>
<rect x="218.42" y="765.4" width="3.59" height="65.1" fill="#00B050" stroke="#222" stroke-width="0.5"/>
<line x1="224.3" y1="771.94" x2="224.3" y2="763.94" stroke="#8a8a8a" stroke-width="0.7"/>
<line x1="222.7" y1="763.94" x2="225.9" y2="763.94" stroke="#8a8a8a" stroke-width="0.7"/>
<rect x="222.51" y="771.94" width="3.59" height="58.56" fill="#00B0F0" stroke="#222" stroke-width="0.5"/>
<line x1="228.39" y1="775.09" x2="228.39" y2="767.29" stroke="#8a8a8a" stroke-width="0.7"/>
<line x1="226.79" y1="767.29" x2="229.99" y2="767.29" stroke="#8a8a8a" stroke-width="0.7"/>
<rect x="226.6" y="775.09" width="3.59" height="55.41" fill="#FF0000" stroke="#222" stroke-width="0.5"/>
<line x1="232.48" y1="774.37" x2="232.48" y2="766.57" stroke="#8a8a8a" stroke-width="0.7"/>
<line x1="230.88" y1="766.57" x2="234.08" y2="766.57" stroke="#8a8a8a" stroke-width="0.7"/>
<rect x="230.69" y="774.37" width="3.59" height="56.13" fill="#7030A0" stroke="#222" stroke-width="0.5"/>
<line x1="236.57" y1="774.88" x2="236.57" y2="766.38" stroke="#8a8a8a" stroke-width="0.7"/>
<line x1="234.97" y1="766.38" x2="238.17" y2="766.38" stroke="#8a8a8a" stroke-width="0.7"/>
<rect x="234.78" y="774.88" width="3.59" height="55.62" fill="#9C4A10" stroke="#222" stroke-width="0.5"/>
<line x1="240.66" y1="779" x2="240.66" y2="771" stroke="#8a8a8a" stroke-width="0.7"/>
<line x1="239.06" y1="771" x2="242.26" y2="771" stroke="#8a8a8a" stroke-width="0.7"/>
<rect x="238.87" y="779" width="3.59" height="51.5" fill="#DCDCDC" stroke="#222" stroke-width="0.5"/>
<line x1="244.75" y1="766.12" x2="244.75" y2="757.12" stroke="#8a8a8a" stroke-width="0.7"/>
<line x1="243.16" y1="757.12" x2="246.35" y2="757.12" stroke="#8a8a8a" stroke-width="0.7"/>
<rect x="242.96" y="766.12" width="3.59" height="64.38" fill="#7F7F7F" stroke="#222" stroke-width="0.5"/>
<line x1="248.84" y1="772.82" x2="248.84" y2="764.32" stroke="#8a8a8a" stroke-width="0.7"/>
<line x1="247.25" y1="764.32" x2="250.44" y2="764.32" stroke="#8a8a8a" stroke-width="0.7"/>
<rect x="247.05" y="772.82" width="3.59" height="57.68" fill="#0070C0" stroke="#222" stroke-width="0.5"/>
<text transform="translate(207.04 764.52) scale(1.04 1)" x="0" y="0" font-size="7.2" text-anchor="middle" fill="#111">e</text>
<text transform="translate(211.13 762.78) scale(1.04 1)" x="0" y="0" font-size="7.2" text-anchor="middle" fill="#111">e</text>
<text transform="translate(215.22 746.5) scale(1.04 1)" x="0" y="0" font-size="7.2" text-anchor="middle" fill="#111">e</text>
<text transform="translate(219.31 755.38) scale(1.04 1)" x="0" y="0" font-size="7.2" text-anchor="middle" fill="#111">e</text>
<text transform="translate(223.4 762.42) scale(1.04 1)" x="0" y="0" font-size="7.2" text-anchor="middle" fill="#111">e</text>
<text transform="translate(227.49 765.76) scale(1.04 1)" x="0" y="0" font-size="7.2" text-anchor="middle" fill="#111">e</text>
<text transform="translate(231.58 765.04) scale(1.04 1)" x="0" y="0" font-size="7.2" text-anchor="middle" fill="#111">e</text>
<text transform="translate(235.67 764.86) scale(1.04 1)" x="0" y="0" font-size="7.2" text-anchor="middle" fill="#111">e</text>
<text transform="translate(239.76 769.48) scale(1.04 1)" x="0" y="0" font-size="7.2" text-anchor="middle" fill="#111">e</text>
<text transform="translate(243.85 755.6) scale(1.04 1)" x="0" y="0" font-size="7.2" text-anchor="middle" fill="#111">e</text>
<text transform="translate(247.94 762.8) scale(1.04 1)" x="0" y="0" font-size="7.2" text-anchor="middle" fill="#111">e</text>
<line x1="258.85" y1="785.33" x2="258.85" y2="777.83" stroke="#8a8a8a" stroke-width="0.7"/>
<line x1="257.25" y1="777.83" x2="260.45" y2="777.83" stroke="#8a8a8a" stroke-width="0.7"/>
<rect x="257.05" y="785.33" width="3.59" height="45.17" fill="#000000" stroke="#222" stroke-width="0.5"/>
<line x1="262.94" y1="787.96" x2="262.94" y2="780.36" stroke="#8a8a8a" stroke-width="0.7"/>
<line x1="261.33" y1="780.36" x2="264.54" y2="780.36" stroke="#8a8a8a" stroke-width="0.7"/>
<rect x="261.14" y="787.96" width="3.59" height="42.54" fill="#FFFFFF" stroke="#222" stroke-width="0.5"/>
<line x1="267.03" y1="772.82" x2="267.03" y2="763.82" stroke="#8a8a8a" stroke-width="0.7"/>
<line x1="265.43" y1="763.82" x2="268.63" y2="763.82" stroke="#8a8a8a" stroke-width="0.7"/>
<rect x="265.23" y="772.82" width="3.59" height="57.68" fill="#FFFF00" stroke="#222" stroke-width="0.5"/>
<line x1="271.12" y1="770.91" x2="271.12" y2="762.31" stroke="#8a8a8a" stroke-width="0.7"/>
<line x1="269.51" y1="762.31" x2="272.72" y2="762.31" stroke="#8a8a8a" stroke-width="0.7"/>
<rect x="269.32" y="770.91" width="3.59" height="59.59" fill="#00B050" stroke="#222" stroke-width="0.5"/>
<line x1="275.21" y1="782.45" x2="275.21" y2="774.45" stroke="#8a8a8a" stroke-width="0.7"/>
<line x1="273.61" y1="774.45" x2="276.81" y2="774.45" stroke="#8a8a8a" stroke-width="0.7"/>
<rect x="273.41" y="782.45" width="3.59" height="48.05" fill="#00B0F0" stroke="#222" stroke-width="0.5"/>
<line x1="279.3" y1="780.65" x2="279.3" y2="772.85" stroke="#8a8a8a" stroke-width="0.7"/>
<line x1="277.69" y1="772.85" x2="280.9" y2="772.85" stroke="#8a8a8a" stroke-width="0.7"/>
<rect x="277.5" y="780.65" width="3.59" height="49.85" fill="#FF0000" stroke="#222" stroke-width="0.5"/>
<line x1="283.39" y1="783.27" x2="283.39" y2="775.27" stroke="#8a8a8a" stroke-width="0.7"/>
<line x1="281.79" y1="775.27" x2="284.99" y2="775.27" stroke="#8a8a8a" stroke-width="0.7"/>
<rect x="281.59" y="783.27" width="3.59" height="47.23" fill="#7030A0" stroke="#222" stroke-width="0.5"/>
<line x1="287.48" y1="788.53" x2="287.48" y2="780.53" stroke="#8a8a8a" stroke-width="0.7"/>
<line x1="285.88" y1="780.53" x2="289.08" y2="780.53" stroke="#8a8a8a" stroke-width="0.7"/>
<rect x="285.68" y="788.53" width="3.59" height="41.97" fill="#9C4A10" stroke="#222" stroke-width="0.5"/>
<line x1="291.56" y1="785.18" x2="291.56" y2="777.18" stroke="#8a8a8a" stroke-width="0.7"/>
<line x1="289.96" y1="777.18" x2="293.17" y2="777.18" stroke="#8a8a8a" stroke-width="0.7"/>
<rect x="289.77" y="785.18" width="3.59" height="45.32" fill="#DCDCDC" stroke="#222" stroke-width="0.5"/>
<line x1="295.66" y1="779" x2="295.66" y2="769.5" stroke="#8a8a8a" stroke-width="0.7"/>
<line x1="294.06" y1="769.5" x2="297.26" y2="769.5" stroke="#8a8a8a" stroke-width="0.7"/>
<rect x="293.86" y="779" width="3.59" height="51.5" fill="#7F7F7F" stroke="#222" stroke-width="0.5"/>
<line x1="299.75" y1="788.53" x2="299.75" y2="781.03" stroke="#8a8a8a" stroke-width="0.7"/>
<line x1="298.14" y1="781.03" x2="301.35" y2="781.03" stroke="#8a8a8a" stroke-width="0.7"/>
<rect x="297.95" y="788.53" width="3.59" height="41.97" fill="#0070C0" stroke="#222" stroke-width="0.5"/>
<text transform="translate(257.95 776.31) scale(1.04 1)" x="0" y="0" font-size="7.2" text-anchor="middle" fill="#111">d</text>
<text transform="translate(262.04 778.84) scale(1.04 1)" x="0" y="0" font-size="7.2" text-anchor="middle" fill="#111">d</text>
<text transform="translate(266.13 762.3) scale(1.04 1)" x="0" y="0" font-size="7.2" text-anchor="middle" fill="#111">d</text>
<text transform="translate(270.22 760.79) scale(1.04 1)" x="0" y="0" font-size="7.2" text-anchor="middle" fill="#111">d</text>
<text transform="translate(274.31 772.93) scale(1.04 1)" x="0" y="0" font-size="7.2" text-anchor="middle" fill="#111">d</text>
<text transform="translate(278.4 771.32) scale(1.04 1)" x="0" y="0" font-size="7.2" text-anchor="middle" fill="#111">d</text>
<text transform="translate(282.49 773.75) scale(1.04 1)" x="0" y="0" font-size="7.2" text-anchor="middle" fill="#111">d</text>
<text transform="translate(286.58 779) scale(1.04 1)" x="0" y="0" font-size="7.2" text-anchor="middle" fill="#111">d</text>
<text transform="translate(290.67 775.66) scale(1.04 1)" x="0" y="0" font-size="7.2" text-anchor="middle" fill="#111">d</text>
<text transform="translate(294.76 767.98) scale(1.04 1)" x="0" y="0" font-size="7.2" text-anchor="middle" fill="#111">d</text>
<text transform="translate(298.85 779.5) scale(1.04 1)" x="0" y="0" font-size="7.2" text-anchor="middle" fill="#111">d</text>
<line x1="309.75" y1="794.55" x2="309.75" y2="787.05" stroke="#8a8a8a" stroke-width="0.7"/>
<line x1="308.14" y1="787.05" x2="311.35" y2="787.05" stroke="#8a8a8a" stroke-width="0.7"/>
<rect x="307.95" y="794.55" width="3.59" height="35.95" fill="#000000" stroke="#222" stroke-width="0.5"/>
<line x1="313.83" y1="789.04" x2="313.83" y2="781.44" stroke="#8a8a8a" stroke-width="0.7"/>
<line x1="312.23" y1="781.44" x2="315.44" y2="781.44" stroke="#8a8a8a" stroke-width="0.7"/>
<rect x="312.04" y="789.04" width="3.59" height="41.46" fill="#FFFFFF" stroke="#222" stroke-width="0.5"/>
<line x1="317.93" y1="783.27" x2="317.93" y2="774.27" stroke="#8a8a8a" stroke-width="0.7"/>
<line x1="316.32" y1="774.27" x2="319.53" y2="774.27" stroke="#8a8a8a" stroke-width="0.7"/>
<rect x="316.13" y="783.27" width="3.59" height="47.23" fill="#FFFF00" stroke="#222" stroke-width="0.5"/>
<line x1="322.01" y1="784.66" x2="322.01" y2="776.16" stroke="#8a8a8a" stroke-width="0.7"/>
<line x1="320.41" y1="776.16" x2="323.62" y2="776.16" stroke="#8a8a8a" stroke-width="0.7"/>
<rect x="320.22" y="784.66" width="3.59" height="45.84" fill="#00B050" stroke="#222" stroke-width="0.5"/>
<line x1="326.11" y1="797.02" x2="326.11" y2="789.52" stroke="#8a8a8a" stroke-width="0.7"/>
<line x1="324.5" y1="789.52" x2="327.71" y2="789.52" stroke="#8a8a8a" stroke-width="0.7"/>
<rect x="324.31" y="797.02" width="3.59" height="33.48" fill="#00B0F0" stroke="#222" stroke-width="0.5"/>
<line x1="330.19" y1="801.14" x2="330.19" y2="794.14" stroke="#8a8a8a" stroke-width="0.7"/>
<line x1="328.59" y1="794.14" x2="331.8" y2="794.14" stroke="#8a8a8a" stroke-width="0.7"/>
<rect x="328.4" y="801.14" width="3.59" height="29.36" fill="#FF0000" stroke="#222" stroke-width="0.5"/>
<line x1="334.29" y1="789.81" x2="334.29" y2="781.31" stroke="#8a8a8a" stroke-width="0.7"/>
<line x1="332.69" y1="781.31" x2="335.89" y2="781.31" stroke="#8a8a8a" stroke-width="0.7"/>
<rect x="332.49" y="789.81" width="3.59" height="40.69" fill="#7030A0" stroke="#222" stroke-width="0.5"/>
<line x1="338.38" y1="802.17" x2="338.38" y2="795.57" stroke="#8a8a8a" stroke-width="0.7"/>
<line x1="336.77" y1="795.57" x2="339.98" y2="795.57" stroke="#8a8a8a" stroke-width="0.7"/>
<rect x="336.58" y="802.17" width="3.59" height="28.33" fill="#9C4A10" stroke="#222" stroke-width="0.5"/>
<line x1="342.46" y1="797.18" x2="342.46" y2="789.18" stroke="#8a8a8a" stroke-width="0.7"/>
<line x1="340.86" y1="789.18" x2="344.06" y2="789.18" stroke="#8a8a8a" stroke-width="0.7"/>
<rect x="340.67" y="797.18" width="3.59" height="33.32" fill="#DCDCDC" stroke="#222" stroke-width="0.5"/>
<line x1="346.56" y1="789.81" x2="346.56" y2="779.81" stroke="#8a8a8a" stroke-width="0.7"/>
<line x1="344.95" y1="779.81" x2="348.16" y2="779.81" stroke="#8a8a8a" stroke-width="0.7"/>
<rect x="344.76" y="789.81" width="3.59" height="40.69" fill="#7F7F7F" stroke="#222" stroke-width="0.5"/>
<line x1="350.64" y1="800.32" x2="350.64" y2="792.82" stroke="#8a8a8a" stroke-width="0.7"/>
<line x1="349.04" y1="792.82" x2="352.25" y2="792.82" stroke="#8a8a8a" stroke-width="0.7"/>
<rect x="348.85" y="800.32" width="3.59" height="30.18" fill="#0070C0" stroke="#222" stroke-width="0.5"/>
<text transform="translate(308.85 785.53) scale(1.04 1)" x="0" y="0" font-size="7.2" text-anchor="middle" fill="#111">c</text>
<text transform="translate(312.94 779.92) scale(1.04 1)" x="0" y="0" font-size="7.2" text-anchor="middle" fill="#111">c</text>
<text transform="translate(317.03 772.75) scale(1.04 1)" x="0" y="0" font-size="7.2" text-anchor="middle" fill="#111">c</text>
<text transform="translate(321.12 774.64) scale(1.04 1)" x="0" y="0" font-size="7.2" text-anchor="middle" fill="#111">c</text>
<text transform="translate(325.21 788) scale(1.04 1)" x="0" y="0" font-size="7.2" text-anchor="middle" fill="#111">c</text>
<text transform="translate(329.3 792.62) scale(1.04 1)" x="0" y="0" font-size="7.2" text-anchor="middle" fill="#111">c</text>
<text transform="translate(333.39 779.79) scale(1.04 1)" x="0" y="0" font-size="7.2" text-anchor="middle" fill="#111">c</text>
<text transform="translate(337.48 794.05) scale(1.04 1)" x="0" y="0" font-size="7.2" text-anchor="middle" fill="#111">c</text>
<text transform="translate(341.56 787.66) scale(1.04 1)" x="0" y="0" font-size="7.2" text-anchor="middle" fill="#111">c</text>
<text transform="translate(345.66 778.29) scale(1.04 1)" x="0" y="0" font-size="7.2" text-anchor="middle" fill="#111">c</text>
<text transform="translate(349.75 791.3) scale(1.04 1)" x="0" y="0" font-size="7.2" text-anchor="middle" fill="#111">c</text>
<line x1="360.55" y1="809.54" x2="360.55" y2="801.74" stroke="#8a8a8a" stroke-width="0.7"/>
<line x1="358.94" y1="801.74" x2="362.15" y2="801.74" stroke="#8a8a8a" stroke-width="0.7"/>
<rect x="358.75" y="809.54" width="3.59" height="20.96" fill="#000000" stroke="#222" stroke-width="0.5"/>
<line x1="364.63" y1="804.24" x2="364.63" y2="796.24" stroke="#8a8a8a" stroke-width="0.7"/>
<line x1="363.03" y1="796.24" x2="366.24" y2="796.24" stroke="#8a8a8a" stroke-width="0.7"/>
<rect x="362.84" y="804.24" width="3.59" height="26.26" fill="#FFFFFF" stroke="#222" stroke-width="0.5"/>
<line x1="368.73" y1="795.89" x2="368.73" y2="786.89" stroke="#8a8a8a" stroke-width="0.7"/>
<line x1="367.12" y1="786.89" x2="370.33" y2="786.89" stroke="#8a8a8a" stroke-width="0.7"/>
<rect x="366.93" y="795.89" width="3.59" height="34.61" fill="#FFFF00" stroke="#222" stroke-width="0.5"/>
<line x1="372.81" y1="796.41" x2="372.81" y2="787.81" stroke="#8a8a8a" stroke-width="0.7"/>
<line x1="371.21" y1="787.81" x2="374.42" y2="787.81" stroke="#8a8a8a" stroke-width="0.7"/>
<rect x="371.02" y="796.41" width="3.59" height="34.09" fill="#00B050" stroke="#222" stroke-width="0.5"/>
<line x1="376.91" y1="806.09" x2="376.91" y2="798.09" stroke="#8a8a8a" stroke-width="0.7"/>
<line x1="375.31" y1="798.09" x2="378.51" y2="798.09" stroke="#8a8a8a" stroke-width="0.7"/>
<rect x="375.11" y="806.09" width="3.59" height="24.41" fill="#00B0F0" stroke="#222" stroke-width="0.5"/>
<line x1="381" y1="810.05" x2="381" y2="802.55" stroke="#8a8a8a" stroke-width="0.7"/>
<line x1="379.39" y1="802.55" x2="382.6" y2="802.55" stroke="#8a8a8a" stroke-width="0.7"/>
<rect x="379.2" y="810.05" width="3.59" height="20.45" fill="#FF0000" stroke="#222" stroke-width="0.5"/>
<line x1="385.09" y1="798.21" x2="385.09" y2="789.41" stroke="#8a8a8a" stroke-width="0.7"/>
<line x1="383.49" y1="789.41" x2="386.69" y2="789.41" stroke="#8a8a8a" stroke-width="0.7"/>
<rect x="383.29" y="798.21" width="3.59" height="32.29" fill="#7030A0" stroke="#222" stroke-width="0.5"/>
<line x1="389.18" y1="812.17" x2="389.18" y2="804.57" stroke="#8a8a8a" stroke-width="0.7"/>
<line x1="387.57" y1="804.57" x2="390.78" y2="804.57" stroke="#8a8a8a" stroke-width="0.7"/>
<rect x="387.38" y="812.17" width="3.59" height="18.33" fill="#9C4A10" stroke="#222" stroke-width="0.5"/>
<line x1="393.27" y1="808.2" x2="393.27" y2="800.2" stroke="#8a8a8a" stroke-width="0.7"/>
<line x1="391.67" y1="800.2" x2="394.87" y2="800.2" stroke="#8a8a8a" stroke-width="0.7"/>
<rect x="391.47" y="808.2" width="3.59" height="22.3" fill="#DCDCDC" stroke="#222" stroke-width="0.5"/>
<line x1="397.36" y1="808.97" x2="397.36" y2="799.97" stroke="#8a8a8a" stroke-width="0.7"/>
<line x1="395.75" y1="799.97" x2="398.96" y2="799.97" stroke="#8a8a8a" stroke-width="0.7"/>
<rect x="395.56" y="808.97" width="3.59" height="21.53" fill="#7F7F7F" stroke="#222" stroke-width="0.5"/>
<line x1="401.44" y1="811.08" x2="401.44" y2="803.08" stroke="#8a8a8a" stroke-width="0.7"/>
<line x1="399.84" y1="803.08" x2="403.05" y2="803.08" stroke="#8a8a8a" stroke-width="0.7"/>
<rect x="399.65" y="811.08" width="3.59" height="19.42" fill="#0070C0" stroke="#222" stroke-width="0.5"/>
<text transform="translate(359.65 800.22) scale(1.04 1)" x="0" y="0" font-size="7.2" text-anchor="middle" fill="#111">b</text>
<text transform="translate(363.74 794.71) scale(1.04 1)" x="0" y="0" font-size="7.2" text-anchor="middle" fill="#111">b</text>
<text transform="translate(367.83 785.37) scale(1.04 1)" x="0" y="0" font-size="7.2" text-anchor="middle" fill="#111">b</text>
<text transform="translate(371.92 786.28) scale(1.04 1)" x="0" y="0" font-size="7.2" text-anchor="middle" fill="#111">b</text>
<text transform="translate(376.01 796.56) scale(1.04 1)" x="0" y="0" font-size="7.2" text-anchor="middle" fill="#111">b</text>
<text transform="translate(380.1 801.03) scale(1.04 1)" x="0" y="0" font-size="7.2" text-anchor="middle" fill="#111">b</text>
<text transform="translate(384.19 787.89) scale(1.04 1)" x="0" y="0" font-size="7.2" text-anchor="middle" fill="#111">b</text>
<text transform="translate(388.28 803.04) scale(1.04 1)" x="0" y="0" font-size="7.2" text-anchor="middle" fill="#111">b</text>
<text transform="translate(392.37 798.68) scale(1.04 1)" x="0" y="0" font-size="7.2" text-anchor="middle" fill="#111">b</text>
<text transform="translate(396.46 798.45) scale(1.04 1)" x="0" y="0" font-size="7.2" text-anchor="middle" fill="#111">b</text>
<text transform="translate(400.55 801.56) scale(1.04 1)" x="0" y="0" font-size="7.2" text-anchor="middle" fill="#111">b</text>
<line x1="412.25" y1="813.5" x2="412.25" y2="805.9" stroke="#8a8a8a" stroke-width="0.7"/>
<line x1="410.64" y1="805.9" x2="413.85" y2="805.9" stroke="#8a8a8a" stroke-width="0.7"/>
<rect x="410.45" y="813.5" width="3.59" height="17" fill="#000000" stroke="#222" stroke-width="0.5"/>
<line x1="416.33" y1="818.19" x2="416.33" y2="811.19" stroke="#8a8a8a" stroke-width="0.7"/>
<line x1="414.73" y1="811.19" x2="417.94" y2="811.19" stroke="#8a8a8a" stroke-width="0.7"/>
<rect x="414.54" y="818.19" width="3.59" height="12.31" fill="#FFFFFF" stroke="#222" stroke-width="0.5"/>
<line x1="420.43" y1="808.46" x2="420.43" y2="799.96" stroke="#8a8a8a" stroke-width="0.7"/>
<line x1="418.82" y1="799.96" x2="422.03" y2="799.96" stroke="#8a8a8a" stroke-width="0.7"/>
<rect x="418.63" y="808.46" width="3.59" height="22.04" fill="#FFFF00" stroke="#222" stroke-width="0.5"/>
<line x1="424.51" y1="809.8" x2="424.51" y2="801.6" stroke="#8a8a8a" stroke-width="0.7"/>
<line x1="422.91" y1="801.6" x2="426.12" y2="801.6" stroke="#8a8a8a" stroke-width="0.7"/>
<rect x="422.72" y="809.8" width="3.59" height="20.7" fill="#00B050" stroke="#222" stroke-width="0.5"/>
<line x1="428.61" y1="814.02" x2="428.61" y2="806.62" stroke="#8a8a8a" stroke-width="0.7"/>
<line x1="427" y1="806.62" x2="430.21" y2="806.62" stroke="#8a8a8a" stroke-width="0.7"/>
<rect x="426.81" y="814.02" width="3.59" height="16.48" fill="#00B0F0" stroke="#222" stroke-width="0.5"/>
<line x1="432.69" y1="820.3" x2="432.69" y2="813.9" stroke="#8a8a8a" stroke-width="0.7"/>
<line x1="431.09" y1="813.9" x2="434.3" y2="813.9" stroke="#8a8a8a" stroke-width="0.7"/>
<rect x="430.9" y="820.3" width="3.59" height="10.2" fill="#FF0000" stroke="#222" stroke-width="0.5"/>
<line x1="436.79" y1="812.17" x2="436.79" y2="803.37" stroke="#8a8a8a" stroke-width="0.7"/>
<line x1="435.19" y1="803.37" x2="438.39" y2="803.37" stroke="#8a8a8a" stroke-width="0.7"/>
<rect x="434.99" y="812.17" width="3.59" height="18.33" fill="#7030A0" stroke="#222" stroke-width="0.5"/>
<line x1="440.88" y1="815.31" x2="440.88" y2="808.11" stroke="#8a8a8a" stroke-width="0.7"/>
<line x1="439.27" y1="808.11" x2="442.48" y2="808.11" stroke="#8a8a8a" stroke-width="0.7"/>
<rect x="439.08" y="815.31" width="3.59" height="15.19" fill="#9C4A10" stroke="#222" stroke-width="0.5"/>
<line x1="444.96" y1="820.05" x2="444.96" y2="813.05" stroke="#8a8a8a" stroke-width="0.7"/>
<line x1="443.36" y1="813.05" x2="446.56" y2="813.05" stroke="#8a8a8a" stroke-width="0.7"/>
<rect x="443.17" y="820.05" width="3.59" height="10.45" fill="#DCDCDC" stroke="#222" stroke-width="0.5"/>
<line x1="449.06" y1="817.42" x2="449.06" y2="809.42" stroke="#8a8a8a" stroke-width="0.7"/>
<line x1="447.45" y1="809.42" x2="450.66" y2="809.42" stroke="#8a8a8a" stroke-width="0.7"/>
<rect x="447.26" y="817.42" width="3.59" height="13.08" fill="#7F7F7F" stroke="#222" stroke-width="0.5"/>
<line x1="453.14" y1="817.42" x2="453.14" y2="809.82" stroke="#8a8a8a" stroke-width="0.7"/>
<line x1="451.54" y1="809.82" x2="454.75" y2="809.82" stroke="#8a8a8a" stroke-width="0.7"/>
<rect x="451.35" y="817.42" width="3.59" height="13.08" fill="#0070C0" stroke="#222" stroke-width="0.5"/>
<text transform="translate(411.35 804.38) scale(1.04 1)" x="0" y="0" font-size="7.2" text-anchor="middle" fill="#111">a</text>
<text transform="translate(415.44 809.67) scale(1.04 1)" x="0" y="0" font-size="7.2" text-anchor="middle" fill="#111">a</text>
<text transform="translate(419.53 798.43) scale(1.04 1)" x="0" y="0" font-size="7.2" text-anchor="middle" fill="#111">a</text>
<text transform="translate(423.62 800.07) scale(1.04 1)" x="0" y="0" font-size="7.2" text-anchor="middle" fill="#111">a</text>
<text transform="translate(427.71 805.1) scale(1.04 1)" x="0" y="0" font-size="7.2" text-anchor="middle" fill="#111">a</text>
<text transform="translate(431.8 812.38) scale(1.04 1)" x="0" y="0" font-size="7.2" text-anchor="middle" fill="#111">a</text>
<text transform="translate(435.89 801.84) scale(1.04 1)" x="0" y="0" font-size="7.2" text-anchor="middle" fill="#111">a</text>
<text transform="translate(439.98 806.58) scale(1.04 1)" x="0" y="0" font-size="7.2" text-anchor="middle" fill="#111">a</text>
<text transform="translate(444.06 811.52) scale(1.04 1)" x="0" y="0" font-size="7.2" text-anchor="middle" fill="#111">a</text>
<text transform="translate(448.16 807.89) scale(1.04 1)" x="0" y="0" font-size="7.2" text-anchor="middle" fill="#111">a</text>
<text transform="translate(452.25 808.29) scale(1.04 1)" x="0" y="0" font-size="7.2" text-anchor="middle" fill="#111">a</text>
<text x="228.3" y="840.11" font-size="6.4" text-anchor="middle" fill="#000" textLength="10.26" lengthAdjust="spacingAndGlyphs">100</text>
<text x="279" y="840.11" font-size="6.4" text-anchor="middle" fill="#000" textLength="10.26" lengthAdjust="spacingAndGlyphs">500</text>
<text x="330.3" y="840.11" font-size="6.4" text-anchor="middle" fill="#000" textLength="13.68" lengthAdjust="spacingAndGlyphs">1250</text>
<text x="381.8" y="840.11" font-size="6.4" text-anchor="middle" fill="#000" textLength="13.68" lengthAdjust="spacingAndGlyphs">2500</text>
<text x="432.5" y="840.11" font-size="6.4" text-anchor="middle" fill="#000" textLength="13.68" lengthAdjust="spacingAndGlyphs">5000</text>
<text x="330.4" y="849.34" font-size="6.8" text-anchor="middle" fill="#000" textLength="41.5" lengthAdjust="spacingAndGlyphs">Conc (µg/ml)</text>
<rect x="469.6" y="739.5" width="3.4" height="3.4" fill="#000000" stroke="#444" stroke-width="0.5"/>
<text x="474.7" y="743.35" font-size="6.5" text-anchor="start" fill="#000" textLength="8.6" lengthAdjust="spacingAndGlyphs">CS</text>
<rect x="469.6" y="750.22" width="3.4" height="3.4" fill="#FFFFFF" stroke="#444" stroke-width="0.5"/>
<text x="474.7" y="754.07" font-size="6.5" text-anchor="start" fill="#000" textLength="15.2" lengthAdjust="spacingAndGlyphs">C.CS</text>
<rect x="469.6" y="760.94" width="3.4" height="3.4" fill="#FFFF00" stroke="#444" stroke-width="0.5"/>
<text x="474.7" y="764.79" font-size="6.5" text-anchor="start" fill="#000" textLength="6" lengthAdjust="spacingAndGlyphs">Iv</text>
<rect x="469.6" y="771.66" width="3.4" height="3.4" fill="#00B050" stroke="#444" stroke-width="0.5"/>
<text x="474.7" y="775.5" font-size="6.5" text-anchor="start" fill="#000" textLength="17" lengthAdjust="spacingAndGlyphs">Iv-CS</text>
<rect x="469.6" y="782.38" width="3.4" height="3.4" fill="#00B0F0" stroke="#444" stroke-width="0.5"/>
<text x="474.7" y="786.23" font-size="6.5" text-anchor="start" fill="#000" textLength="23.6" lengthAdjust="spacingAndGlyphs">Iv-C.CS</text>
<rect x="469.6" y="793.1" width="3.4" height="3.4" fill="#FF0000" stroke="#444" stroke-width="0.5"/>
<text x="474.7" y="796.95" font-size="6.5" text-anchor="start" fill="#000" textLength="6.6" lengthAdjust="spacingAndGlyphs">Sc</text>
<rect x="469.6" y="803.82" width="3.4" height="3.4" fill="#7030A0" stroke="#444" stroke-width="0.5"/>
<text x="474.7" y="807.67" font-size="6.5" text-anchor="start" fill="#000" textLength="17.6" lengthAdjust="spacingAndGlyphs">Sc-CS</text>
<rect x="469.6" y="814.54" width="3.4" height="3.4" fill="#9C4A10" stroke="#444" stroke-width="0.5"/>
<text x="474.7" y="818.38" font-size="6.5" text-anchor="start" fill="#000" textLength="24.2" lengthAdjust="spacingAndGlyphs">Sc-C.CS</text>
<rect x="469.6" y="825.26" width="3.4" height="3.4" fill="#DCDCDC" stroke="#444" stroke-width="0.5"/>
<text x="474.7" y="829.11" font-size="6.5" text-anchor="start" fill="#000" textLength="8.6" lengthAdjust="spacingAndGlyphs">Gg</text>
<rect x="469.6" y="835.98" width="3.4" height="3.4" fill="#7F7F7F" stroke="#444" stroke-width="0.5"/>
<text x="474.7" y="839.83" font-size="6.5" text-anchor="start" fill="#000" textLength="19.6" lengthAdjust="spacingAndGlyphs">Gg-CS</text>
<rect x="469.6" y="846.7" width="3.4" height="3.4" fill="#0070C0" stroke="#444" stroke-width="0.5"/>
<text x="474.7" y="850.55" font-size="6.5" text-anchor="start" fill="#000" textLength="26.2" lengthAdjust="spacingAndGlyphs">Gg-C.CS</text>
</svg></body></html>
